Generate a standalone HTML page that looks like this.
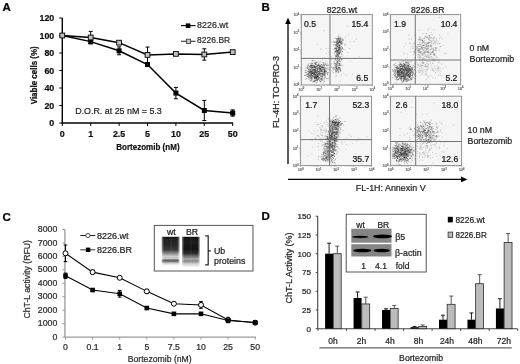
<!DOCTYPE html>
<html><head><meta charset="utf-8"><style>
html,body{margin:0;padding:0;background:#fff;}
svg{display:block;font-family:"Liberation Sans", sans-serif;filter:blur(0.3px);}
</style></head><body>
<svg width="520" height="364" viewBox="0 0 520 364">
<rect width="520" height="364" fill="#fff"/>
<text x="2.60" y="11.30" font-size="11.5" text-anchor="start" font-weight="bold" fill="#000" stroke="#000" stroke-width="0.22" >A</text>
<line x1="62.30" y1="18.00" x2="62.30" y2="123.60" stroke="#000" stroke-width="1.4"/>
<line x1="61.60" y1="123.00" x2="233.00" y2="123.00" stroke="#000" stroke-width="1.4"/>
<line x1="59.30" y1="123.00" x2="62.30" y2="123.00" stroke="#000" stroke-width="1"/>
<text x="54.30" y="126.10" font-size="8.9" text-anchor="end" font-weight="bold" fill="#111" stroke="#111" stroke-width="0.22" >0</text>
<line x1="59.30" y1="105.50" x2="62.30" y2="105.50" stroke="#000" stroke-width="1"/>
<text x="54.30" y="108.60" font-size="8.9" text-anchor="end" font-weight="bold" fill="#111" stroke="#111" stroke-width="0.22" >20</text>
<line x1="59.30" y1="88.00" x2="62.30" y2="88.00" stroke="#000" stroke-width="1"/>
<text x="54.30" y="91.10" font-size="8.9" text-anchor="end" font-weight="bold" fill="#111" stroke="#111" stroke-width="0.22" >40</text>
<line x1="59.30" y1="70.50" x2="62.30" y2="70.50" stroke="#000" stroke-width="1"/>
<text x="54.30" y="73.60" font-size="8.9" text-anchor="end" font-weight="bold" fill="#111" stroke="#111" stroke-width="0.22" >60</text>
<line x1="59.30" y1="53.00" x2="62.30" y2="53.00" stroke="#000" stroke-width="1"/>
<text x="54.30" y="56.10" font-size="8.9" text-anchor="end" font-weight="bold" fill="#111" stroke="#111" stroke-width="0.22" >80</text>
<line x1="59.30" y1="35.50" x2="62.30" y2="35.50" stroke="#000" stroke-width="1"/>
<text x="54.30" y="38.60" font-size="8.9" text-anchor="end" font-weight="bold" fill="#111" stroke="#111" stroke-width="0.22" >100</text>
<line x1="59.30" y1="18.00" x2="62.30" y2="18.00" stroke="#000" stroke-width="1"/>
<text x="54.30" y="21.10" font-size="8.9" text-anchor="end" font-weight="bold" fill="#111" stroke="#111" stroke-width="0.22" >120</text>
<line x1="62.30" y1="123.00" x2="62.30" y2="126.00" stroke="#000" stroke-width="1"/>
<text x="62.30" y="137.20" font-size="8.9" text-anchor="middle" font-weight="bold" fill="#111" stroke="#111" stroke-width="0.22" >0</text>
<line x1="90.70" y1="123.00" x2="90.70" y2="126.00" stroke="#000" stroke-width="1"/>
<text x="90.70" y="137.20" font-size="8.9" text-anchor="middle" font-weight="bold" fill="#111" stroke="#111" stroke-width="0.22" >1</text>
<line x1="119.10" y1="123.00" x2="119.10" y2="126.00" stroke="#000" stroke-width="1"/>
<text x="119.10" y="137.20" font-size="8.9" text-anchor="middle" font-weight="bold" fill="#111" stroke="#111" stroke-width="0.22" >2.5</text>
<line x1="147.50" y1="123.00" x2="147.50" y2="126.00" stroke="#000" stroke-width="1"/>
<text x="147.50" y="137.20" font-size="8.9" text-anchor="middle" font-weight="bold" fill="#111" stroke="#111" stroke-width="0.22" >5</text>
<line x1="175.90" y1="123.00" x2="175.90" y2="126.00" stroke="#000" stroke-width="1"/>
<text x="175.90" y="137.20" font-size="8.9" text-anchor="middle" font-weight="bold" fill="#111" stroke="#111" stroke-width="0.22" >10</text>
<line x1="204.30" y1="123.00" x2="204.30" y2="126.00" stroke="#000" stroke-width="1"/>
<text x="204.30" y="137.20" font-size="8.9" text-anchor="middle" font-weight="bold" fill="#111" stroke="#111" stroke-width="0.22" >25</text>
<line x1="232.70" y1="123.00" x2="232.70" y2="126.00" stroke="#000" stroke-width="1"/>
<text x="232.70" y="137.20" font-size="8.9" text-anchor="middle" font-weight="bold" fill="#111" stroke="#111" stroke-width="0.22" >50</text>
<text x="116.20" y="149.60" font-size="9.6" font-weight="bold" fill="#111" stroke="#111" stroke-width="0.22" textLength="63.38" lengthAdjust="spacingAndGlyphs">Bortezomib (nM)</text>
<text transform="translate(37.00,104.70) scale(1.0,1) rotate(-90)" x="0.40" y="0" font-size="9.6" font-weight="bold" fill="#111" stroke="#111" stroke-width="0.22" textLength="58.08" lengthAdjust="spacingAndGlyphs">Viable cells (%)</text>
<text x="75.20" y="114.10" font-size="9.5" font-weight="normal" fill="#222" stroke="#222" stroke-width="0.22" textLength="86.59" lengthAdjust="spacingAndGlyphs">D.O.R. at 25 nM = 5.3</text>
<line x1="90.70" y1="43.81" x2="90.70" y2="39.44" stroke="#000" stroke-width="1"/>
<line x1="88.70" y1="39.44" x2="92.70" y2="39.44" stroke="#000" stroke-width="1"/>
<line x1="88.70" y1="43.81" x2="92.70" y2="43.81" stroke="#000" stroke-width="1"/>
<line x1="119.10" y1="54.75" x2="119.10" y2="46.88" stroke="#000" stroke-width="1"/>
<line x1="117.10" y1="46.88" x2="121.10" y2="46.88" stroke="#000" stroke-width="1"/>
<line x1="117.10" y1="54.75" x2="121.10" y2="54.75" stroke="#000" stroke-width="1"/>
<line x1="147.50" y1="66.30" x2="147.50" y2="62.80" stroke="#000" stroke-width="1"/>
<line x1="145.50" y1="62.80" x2="149.50" y2="62.80" stroke="#000" stroke-width="1"/>
<line x1="145.50" y1="66.30" x2="149.50" y2="66.30" stroke="#000" stroke-width="1"/>
<line x1="175.90" y1="98.76" x2="175.90" y2="87.39" stroke="#000" stroke-width="1"/>
<line x1="173.90" y1="87.39" x2="177.90" y2="87.39" stroke="#000" stroke-width="1"/>
<line x1="173.90" y1="98.76" x2="177.90" y2="98.76" stroke="#000" stroke-width="1"/>
<line x1="204.30" y1="120.55" x2="204.30" y2="100.42" stroke="#000" stroke-width="1"/>
<line x1="202.30" y1="100.42" x2="206.30" y2="100.42" stroke="#000" stroke-width="1"/>
<line x1="202.30" y1="120.55" x2="206.30" y2="120.55" stroke="#000" stroke-width="1"/>
<line x1="232.70" y1="116.17" x2="232.70" y2="109.88" stroke="#000" stroke-width="1"/>
<line x1="230.70" y1="109.88" x2="234.70" y2="109.88" stroke="#000" stroke-width="1"/>
<line x1="230.70" y1="116.17" x2="234.70" y2="116.17" stroke="#000" stroke-width="1"/>
<line x1="90.70" y1="43.64" x2="90.70" y2="31.39" stroke="#000" stroke-width="1"/>
<line x1="88.70" y1="31.39" x2="92.70" y2="31.39" stroke="#000" stroke-width="1"/>
<line x1="88.70" y1="43.64" x2="92.70" y2="43.64" stroke="#000" stroke-width="1"/>
<line x1="119.10" y1="44.42" x2="119.10" y2="40.92" stroke="#000" stroke-width="1"/>
<line x1="117.10" y1="40.92" x2="121.10" y2="40.92" stroke="#000" stroke-width="1"/>
<line x1="117.10" y1="44.42" x2="121.10" y2="44.42" stroke="#000" stroke-width="1"/>
<line x1="147.50" y1="62.80" x2="147.50" y2="47.05" stroke="#000" stroke-width="1"/>
<line x1="145.50" y1="47.05" x2="149.50" y2="47.05" stroke="#000" stroke-width="1"/>
<line x1="145.50" y1="62.80" x2="149.50" y2="62.80" stroke="#000" stroke-width="1"/>
<line x1="175.90" y1="55.19" x2="175.90" y2="52.56" stroke="#000" stroke-width="1"/>
<line x1="173.90" y1="52.56" x2="177.90" y2="52.56" stroke="#000" stroke-width="1"/>
<line x1="173.90" y1="55.19" x2="177.90" y2="55.19" stroke="#000" stroke-width="1"/>
<line x1="204.30" y1="60.18" x2="204.30" y2="48.80" stroke="#000" stroke-width="1"/>
<line x1="202.30" y1="48.80" x2="206.30" y2="48.80" stroke="#000" stroke-width="1"/>
<line x1="202.30" y1="60.18" x2="206.30" y2="60.18" stroke="#000" stroke-width="1"/>
<line x1="232.70" y1="53.88" x2="232.70" y2="50.38" stroke="#000" stroke-width="1"/>
<line x1="230.70" y1="50.38" x2="234.70" y2="50.38" stroke="#000" stroke-width="1"/>
<line x1="230.70" y1="53.88" x2="234.70" y2="53.88" stroke="#000" stroke-width="1"/>
<polyline points="62.30,35.50 90.70,41.62 119.10,50.81 147.50,64.55 175.90,93.07 204.30,110.49 232.70,113.03" fill="none" stroke="#000" stroke-width="1.5"/>
<polyline points="62.30,35.50 90.70,37.51 119.10,42.67 147.50,54.92 175.90,53.88 204.30,54.49 232.70,52.12" fill="none" stroke="#000" stroke-width="1.5"/>
<rect x="59.80" y="33.00" width="5" height="5" fill="#000"/>
<rect x="88.20" y="39.12" width="5" height="5" fill="#000"/>
<rect x="116.60" y="48.31" width="5" height="5" fill="#000"/>
<rect x="145.00" y="62.05" width="5" height="5" fill="#000"/>
<rect x="173.40" y="90.57" width="5" height="5" fill="#000"/>
<rect x="201.80" y="107.99" width="5" height="5" fill="#000"/>
<rect x="230.20" y="110.53" width="5" height="5" fill="#000"/>
<rect x="59.90" y="33.10" width="4.8" height="4.8" fill="#c0c0c0" stroke="#111" stroke-width="0.95"/>
<rect x="88.30" y="35.11" width="4.8" height="4.8" fill="#c0c0c0" stroke="#111" stroke-width="0.95"/>
<rect x="116.70" y="40.27" width="4.8" height="4.8" fill="#c0c0c0" stroke="#111" stroke-width="0.95"/>
<rect x="145.10" y="52.52" width="4.8" height="4.8" fill="#c0c0c0" stroke="#111" stroke-width="0.95"/>
<rect x="173.50" y="51.48" width="4.8" height="4.8" fill="#c0c0c0" stroke="#111" stroke-width="0.95"/>
<rect x="201.90" y="52.09" width="4.8" height="4.8" fill="#c0c0c0" stroke="#111" stroke-width="0.95"/>
<rect x="230.30" y="49.73" width="4.8" height="4.8" fill="#c0c0c0" stroke="#111" stroke-width="0.95"/>
<line x1="181.00" y1="25.60" x2="195.50" y2="25.60" stroke="#000" stroke-width="1.1"/>
<rect x="185.8" y="23.4" width="4.6" height="4.6" fill="#000"/>
<text x="197.10" y="28.30" font-size="8.9" font-weight="normal" fill="#2a2a2a" stroke="#2a2a2a" stroke-width="0.22" textLength="31.18" lengthAdjust="spacingAndGlyphs">8226.wt</text>
<line x1="181.00" y1="41.30" x2="195.50" y2="41.30" stroke="#333" stroke-width="1.1"/>
<rect x="186.4" y="39.2" width="4.2" height="4.2" fill="#c4c4c4" stroke="#444" stroke-width="0.9"/>
<text x="197.10" y="43.30" font-size="8.9" font-weight="normal" fill="#2a2a2a" stroke="#2a2a2a" stroke-width="0.22" textLength="33.11" lengthAdjust="spacingAndGlyphs">8226.BR</text>
<defs><filter id="sb" x="-5%" y="-5%" width="110%" height="110%"><feGaussianBlur stdDeviation="0.35"/></filter></defs>
<text x="261.40" y="11.20" font-size="11.5" text-anchor="start" font-weight="bold" fill="#000" stroke="#000" stroke-width="0.22" >B</text>
<text x="326.70" y="13.30" font-size="9.0" font-weight="normal" fill="#222" stroke="#222" stroke-width="0.22" textLength="30.38" lengthAdjust="spacingAndGlyphs">8226.wt</text>
<text x="411.00" y="13.30" font-size="9.0" font-weight="normal" fill="#222" stroke="#222" stroke-width="0.22" textLength="33.41" lengthAdjust="spacingAndGlyphs">8226.BR</text>
<rect x="301.3" y="14.6" width="71.0" height="70.4" fill="#f5f5f5" stroke="#888" stroke-width="0.9"/>
<path d="M313.6 80.8h1v1h-1zM312.7 71.8h1v1h-1zM320.5 65.9h1v1h-1zM312.0 67.1h1v1h-1zM316.3 77.8h1v1h-1zM323.9 79.5h1v1h-1zM312.3 79.3h1v1h-1zM316.7 74.1h1v1h-1zM315.2 67.0h1v1h-1zM324.4 71.0h1v1h-1zM318.4 64.6h1v1h-1zM322.4 66.8h1v1h-1zM311.4 77.7h1v1h-1zM316.4 69.7h1v1h-1zM309.8 73.7h1v1h-1zM320.7 68.7h1v1h-1zM318.8 66.1h1v1h-1zM311.2 63.6h1v1h-1zM322.3 74.1h1v1h-1zM310.4 69.2h1v1h-1zM319.2 69.5h1v1h-1zM309.5 75.1h1v1h-1zM311.5 75.6h1v1h-1zM326.3 72.5h1v1h-1zM319.0 73.0h1v1h-1zM322.7 74.7h1v1h-1zM308.5 74.7h1v1h-1zM311.9 67.3h1v1h-1zM319.8 78.2h1v1h-1zM311.0 65.0h1v1h-1zM317.1 73.9h1v1h-1zM318.7 66.8h1v1h-1zM324.1 64.8h1v1h-1zM312.5 75.2h1v1h-1zM314.8 66.4h1v1h-1zM307.3 67.7h1v1h-1zM319.7 81.0h1v1h-1zM315.3 77.2h1v1h-1zM312.5 64.6h1v1h-1zM320.1 73.0h1v1h-1zM322.6 65.4h1v1h-1zM323.7 69.3h1v1h-1zM314.4 78.0h1v1h-1zM311.6 75.5h1v1h-1zM314.4 72.7h1v1h-1zM305.6 67.5h1v1h-1zM312.6 71.9h1v1h-1zM318.4 71.6h1v1h-1zM315.3 79.4h1v1h-1zM315.7 76.8h1v1h-1zM308.2 73.1h1v1h-1zM309.1 76.3h1v1h-1zM315.0 68.1h1v1h-1zM309.1 72.8h1v1h-1zM322.9 66.9h1v1h-1zM320.3 68.4h1v1h-1zM313.3 68.7h1v1h-1zM307.2 66.6h1v1h-1zM306.9 75.5h1v1h-1zM309.5 71.3h1v1h-1zM313.5 69.6h1v1h-1zM324.8 76.6h1v1h-1zM336.6 49.9h1v1h-1zM336.7 54.1h1v1h-1zM337.1 43.2h1v1h-1zM335.3 50.3h1v1h-1zM342.8 39.8h1v1h-1zM338.5 50.7h1v1h-1zM335.7 44.5h1v1h-1zM339.7 40.7h1v1h-1zM338.4 45.4h1v1h-1zM338.8 41.6h1v1h-1zM339.2 41.0h1v1h-1zM334.1 42.0h1v1h-1zM339.3 39.2h1v1h-1zM336.7 54.8h1v1h-1zM336.1 47.5h1v1h-1zM339.1 49.4h1v1h-1zM336.4 50.4h1v1h-1zM338.4 41.7h1v1h-1zM335.3 41.3h1v1h-1zM338.4 58.3h1v1h-1zM335.9 43.6h1v1h-1zM339.8 42.0h1v1h-1zM336.2 46.2h1v1h-1zM335.5 50.1h1v1h-1zM339.6 51.4h1v1h-1zM337.7 47.0h1v1h-1zM340.4 45.3h1v1h-1zM340.6 42.2h1v1h-1zM340.8 74.4h1v1h-1zM338.0 70.9h1v1h-1zM339.6 67.6h1v1h-1zM336.2 65.2h1v1h-1zM336.1 75.3h1v1h-1zM337.1 68.5h1v1h-1zM333.0 67.3h1v1h-1zM337.9 69.0h1v1h-1zM332.7 72.0h1v1h-1zM338.9 69.1h1v1h-1z" fill="#2a2a2a" fill-opacity="0.36" filter="url(#sb)"/>
<path d="M314.4 75.3h1v1h-1zM317.8 76.1h1v1h-1zM318.9 68.1h1v1h-1zM312.5 65.0h1v1h-1zM314.1 77.2h1v1h-1zM313.9 71.2h1v1h-1zM318.3 77.9h1v1h-1zM315.8 77.2h1v1h-1zM325.4 70.2h1v1h-1zM322.0 77.6h1v1h-1zM325.3 70.8h1v1h-1zM308.2 70.9h1v1h-1zM318.0 75.5h1v1h-1zM321.1 63.9h1v1h-1zM314.7 69.2h1v1h-1zM322.4 73.7h1v1h-1zM320.8 76.2h1v1h-1zM320.6 78.8h1v1h-1zM320.6 64.5h1v1h-1zM314.5 76.1h1v1h-1zM321.6 71.0h1v1h-1zM316.3 72.5h1v1h-1zM311.9 67.5h1v1h-1zM310.9 74.0h1v1h-1zM320.1 67.7h1v1h-1zM314.4 76.4h1v1h-1zM315.2 70.4h1v1h-1zM323.8 71.8h1v1h-1zM320.0 68.3h1v1h-1zM324.6 64.1h1v1h-1zM315.7 66.3h1v1h-1zM325.0 72.7h1v1h-1zM314.2 65.9h1v1h-1zM315.9 68.2h1v1h-1zM314.1 73.8h1v1h-1zM310.5 75.4h1v1h-1zM317.2 73.7h1v1h-1zM311.8 71.7h1v1h-1zM310.2 71.4h1v1h-1zM314.6 69.7h1v1h-1zM319.2 73.9h1v1h-1zM304.6 72.0h1v1h-1zM307.4 75.7h1v1h-1zM317.2 74.8h1v1h-1zM316.6 78.9h1v1h-1zM312.1 72.5h1v1h-1zM315.2 80.3h1v1h-1zM318.8 73.6h1v1h-1zM323.2 64.5h1v1h-1zM311.3 80.4h1v1h-1zM341.6 51.2h1v1h-1zM337.7 42.3h1v1h-1zM339.6 45.7h1v1h-1zM335.5 48.2h1v1h-1zM337.1 41.4h1v1h-1zM338.6 44.8h1v1h-1zM334.3 37.7h1v1h-1zM336.7 54.8h1v1h-1zM337.2 41.7h1v1h-1zM336.9 51.3h1v1h-1zM342.3 39.9h1v1h-1zM340.9 42.8h1v1h-1zM337.7 37.9h1v1h-1zM340.3 40.5h1v1h-1zM341.9 48.2h1v1h-1zM339.3 46.5h1v1h-1zM337.4 49.5h1v1h-1zM344.3 44.0h1v1h-1zM338.0 38.2h1v1h-1zM334.6 51.0h1v1h-1zM335.2 66.4h1v1h-1zM339.0 64.6h1v1h-1zM335.0 63.4h1v1h-1zM338.1 66.9h1v1h-1zM335.9 68.2h1v1h-1zM342.1 64.9h1v1h-1zM338.3 67.4h1v1h-1z" fill="#2a2a2a" fill-opacity="0.36" filter="url(#sb)"/>
<path d="M314.1 63.1h1v1h-1zM320.3 66.4h1v1h-1zM315.6 76.7h1v1h-1zM320.6 73.1h1v1h-1zM321.1 73.6h1v1h-1zM316.2 62.1h1v1h-1zM318.1 78.5h1v1h-1zM309.8 71.9h1v1h-1zM316.5 76.4h1v1h-1zM314.3 64.4h1v1h-1zM323.6 72.6h1v1h-1zM317.5 70.9h1v1h-1zM318.4 63.5h1v1h-1zM319.1 73.0h1v1h-1zM318.8 68.8h1v1h-1zM310.9 71.0h1v1h-1zM311.0 75.0h1v1h-1zM318.2 64.3h1v1h-1zM320.0 65.5h1v1h-1zM322.8 82.8h1v1h-1zM318.1 76.6h1v1h-1zM324.0 66.4h1v1h-1zM319.0 77.1h1v1h-1zM321.2 78.0h1v1h-1zM310.6 70.9h1v1h-1zM312.6 60.2h1v1h-1zM312.4 72.7h1v1h-1zM315.8 71.7h1v1h-1zM322.5 71.4h1v1h-1zM324.5 69.8h1v1h-1zM311.9 63.0h1v1h-1zM318.7 64.8h1v1h-1zM324.3 68.2h1v1h-1zM323.5 78.1h1v1h-1zM315.9 78.4h1v1h-1zM313.8 74.1h1v1h-1zM313.4 66.0h1v1h-1zM309.2 69.8h1v1h-1zM311.4 72.2h1v1h-1zM313.0 72.7h1v1h-1zM314.2 75.5h1v1h-1zM311.1 74.1h1v1h-1zM310.4 77.6h1v1h-1zM308.0 77.0h1v1h-1zM320.8 69.6h1v1h-1zM316.4 75.4h1v1h-1zM339.4 47.1h1v1h-1zM337.0 46.1h1v1h-1zM338.5 48.9h1v1h-1zM333.3 44.5h1v1h-1zM339.3 51.8h1v1h-1zM342.0 47.5h1v1h-1zM338.9 48.7h1v1h-1zM339.7 48.4h1v1h-1zM338.7 53.3h1v1h-1zM338.7 45.2h1v1h-1zM334.2 48.1h1v1h-1zM334.6 54.5h1v1h-1zM334.8 41.7h1v1h-1zM335.7 56.1h1v1h-1zM336.6 39.7h1v1h-1zM340.9 40.6h1v1h-1zM338.0 49.1h1v1h-1zM337.6 70.1h1v1h-1zM339.9 71.0h1v1h-1zM336.4 67.6h1v1h-1zM335.9 66.6h1v1h-1z" fill="#2a2a2a" fill-opacity="0.36" filter="url(#sb)"/>
<path d="M318.4 67.1h1v1h-1zM309.4 72.1h1v1h-1zM309.9 70.7h1v1h-1zM322.2 78.9h1v1h-1zM314.6 69.3h1v1h-1zM321.7 67.1h1v1h-1zM320.7 76.0h1v1h-1zM316.0 79.4h1v1h-1zM314.4 76.4h1v1h-1zM312.2 66.6h1v1h-1zM324.6 71.8h1v1h-1zM308.8 74.5h1v1h-1zM310.4 70.2h1v1h-1zM317.0 69.3h1v1h-1zM312.5 75.9h1v1h-1zM317.0 68.5h1v1h-1zM321.5 72.5h1v1h-1zM324.5 77.2h1v1h-1zM317.0 69.0h1v1h-1zM310.3 74.3h1v1h-1zM309.0 70.4h1v1h-1zM320.2 70.7h1v1h-1zM308.0 70.2h1v1h-1zM317.9 77.2h1v1h-1zM308.1 76.1h1v1h-1zM318.9 65.5h1v1h-1zM320.8 78.1h1v1h-1zM313.8 66.2h1v1h-1zM316.7 77.4h1v1h-1zM310.4 64.4h1v1h-1zM309.7 68.5h1v1h-1zM318.3 73.4h1v1h-1zM319.7 71.6h1v1h-1zM315.8 76.7h1v1h-1zM323.6 69.4h1v1h-1zM321.5 64.6h1v1h-1zM327.1 72.2h1v1h-1zM312.0 75.8h1v1h-1zM312.7 70.1h1v1h-1zM315.1 71.9h1v1h-1zM313.3 73.9h1v1h-1zM321.3 64.4h1v1h-1zM308.4 74.0h1v1h-1zM316.7 78.6h1v1h-1zM323.5 70.1h1v1h-1zM316.9 67.2h1v1h-1zM323.9 69.4h1v1h-1zM308.3 77.4h1v1h-1zM317.7 68.6h1v1h-1zM317.0 80.0h1v1h-1zM310.1 64.7h1v1h-1zM319.1 66.6h1v1h-1zM309.1 68.1h1v1h-1zM340.4 49.5h1v1h-1zM336.9 38.5h1v1h-1zM338.7 41.8h1v1h-1zM334.8 51.6h1v1h-1zM340.8 47.7h1v1h-1zM338.9 47.0h1v1h-1zM339.8 39.3h1v1h-1zM340.9 43.3h1v1h-1zM338.1 41.9h1v1h-1zM336.3 39.1h1v1h-1zM339.3 48.2h1v1h-1zM336.7 55.8h1v1h-1zM335.8 50.8h1v1h-1zM338.6 41.9h1v1h-1zM340.7 41.7h1v1h-1zM336.7 41.3h1v1h-1zM337.7 50.6h1v1h-1zM337.4 54.2h1v1h-1zM336.1 50.0h1v1h-1zM335.3 48.7h1v1h-1zM337.1 46.2h1v1h-1zM342.4 39.2h1v1h-1zM337.2 41.1h1v1h-1zM340.1 51.4h1v1h-1zM338.8 52.0h1v1h-1zM338.4 60.2h1v1h-1zM337.6 64.9h1v1h-1zM341.2 59.1h1v1h-1zM337.8 72.0h1v1h-1zM340.5 65.1h1v1h-1zM334.9 58.3h1v1h-1zM339.1 67.0h1v1h-1zM331.8 67.8h1v1h-1z" fill="#2a2a2a" fill-opacity="0.36" filter="url(#sb)"/>
<path d="M311.6 78.2h1v1h-1zM307.8 72.6h1v1h-1zM307.7 73.2h1v1h-1zM319.8 80.8h1v1h-1zM320.2 69.4h1v1h-1zM309.9 78.5h1v1h-1zM310.9 65.2h1v1h-1zM315.1 74.2h1v1h-1zM311.7 75.2h1v1h-1zM327.7 72.0h1v1h-1zM315.0 63.4h1v1h-1zM324.8 68.2h1v1h-1zM306.9 66.6h1v1h-1zM322.5 68.3h1v1h-1zM311.8 67.7h1v1h-1zM319.5 69.3h1v1h-1zM305.5 70.1h1v1h-1zM316.5 74.6h1v1h-1zM311.0 66.8h1v1h-1zM312.6 69.4h1v1h-1zM313.7 66.3h1v1h-1zM324.4 74.2h1v1h-1zM321.1 67.1h1v1h-1zM316.5 70.1h1v1h-1zM318.7 68.6h1v1h-1zM320.9 72.8h1v1h-1zM313.8 76.9h1v1h-1zM314.3 65.0h1v1h-1zM315.0 72.1h1v1h-1zM309.9 64.9h1v1h-1zM319.8 72.8h1v1h-1zM323.4 74.6h1v1h-1zM314.0 69.9h1v1h-1zM324.4 73.9h1v1h-1zM316.0 71.8h1v1h-1zM315.8 77.7h1v1h-1zM319.7 75.4h1v1h-1zM311.9 73.1h1v1h-1zM318.4 73.1h1v1h-1zM305.9 71.8h1v1h-1zM310.9 77.5h1v1h-1zM314.8 75.2h1v1h-1zM342.2 42.6h1v1h-1zM341.4 41.5h1v1h-1zM336.2 40.4h1v1h-1zM335.6 38.0h1v1h-1zM339.6 43.9h1v1h-1zM337.2 52.7h1v1h-1zM339.9 37.9h1v1h-1zM338.1 43.2h1v1h-1zM338.3 51.9h1v1h-1zM339.0 41.5h1v1h-1zM338.4 45.6h1v1h-1zM337.5 54.7h1v1h-1zM336.7 42.6h1v1h-1zM337.7 38.1h1v1h-1zM340.1 41.9h1v1h-1zM341.3 41.1h1v1h-1zM336.6 43.6h1v1h-1zM339.2 47.6h1v1h-1zM341.8 51.1h1v1h-1zM335.8 44.6h1v1h-1zM338.9 40.3h1v1h-1zM338.4 38.2h1v1h-1zM338.6 46.8h1v1h-1zM335.7 52.0h1v1h-1zM339.2 50.4h1v1h-1zM338.0 71.5h1v1h-1zM336.2 63.3h1v1h-1zM333.7 67.2h1v1h-1zM339.9 56.5h1v1h-1zM337.7 66.8h1v1h-1zM339.1 65.2h1v1h-1zM336.6 62.4h1v1h-1zM339.9 69.5h1v1h-1zM336.1 64.0h1v1h-1zM334.7 69.5h1v1h-1zM336.8 68.5h1v1h-1zM336.5 68.7h1v1h-1z" fill="#2a2a2a" fill-opacity="0.36" filter="url(#sb)"/>
<path d="M313.5 73.4h1v1h-1zM308.9 72.2h1v1h-1zM320.5 67.9h1v1h-1zM316.8 68.7h1v1h-1zM327.3 78.2h1v1h-1zM314.5 76.4h1v1h-1zM320.4 75.5h1v1h-1zM307.8 65.4h1v1h-1zM312.8 66.8h1v1h-1zM317.6 67.6h1v1h-1zM320.0 80.9h1v1h-1zM324.1 75.0h1v1h-1zM317.2 71.7h1v1h-1zM316.2 75.7h1v1h-1zM313.5 72.6h1v1h-1zM310.5 73.0h1v1h-1zM314.7 80.1h1v1h-1zM310.3 69.6h1v1h-1zM324.1 71.0h1v1h-1zM317.2 74.9h1v1h-1zM320.0 68.8h1v1h-1zM323.6 72.5h1v1h-1zM324.2 70.3h1v1h-1zM321.1 70.9h1v1h-1zM323.0 74.2h1v1h-1zM317.5 75.7h1v1h-1zM317.6 75.9h1v1h-1zM322.2 66.8h1v1h-1zM319.4 70.2h1v1h-1zM311.8 65.3h1v1h-1zM326.9 73.7h1v1h-1zM327.0 73.8h1v1h-1zM327.1 74.0h1v1h-1zM320.3 76.3h1v1h-1zM316.3 64.2h1v1h-1zM316.9 70.5h1v1h-1zM325.9 70.9h1v1h-1zM307.7 68.6h1v1h-1zM322.5 73.1h1v1h-1zM304.0 75.0h1v1h-1zM308.5 78.7h1v1h-1zM314.3 70.1h1v1h-1zM316.5 72.3h1v1h-1zM310.0 80.1h1v1h-1zM313.0 72.3h1v1h-1zM309.5 71.0h1v1h-1zM320.0 67.9h1v1h-1zM315.6 73.1h1v1h-1zM308.3 69.2h1v1h-1zM306.6 68.1h1v1h-1zM318.1 73.2h1v1h-1zM306.7 73.0h1v1h-1zM321.5 75.0h1v1h-1zM312.8 69.6h1v1h-1zM316.7 66.3h1v1h-1zM313.4 69.5h1v1h-1zM313.7 66.6h1v1h-1zM308.2 74.5h1v1h-1zM321.0 78.4h1v1h-1zM341.7 55.5h1v1h-1zM335.9 53.2h1v1h-1zM338.4 41.5h1v1h-1zM335.2 47.4h1v1h-1zM343.4 49.0h1v1h-1zM339.2 52.5h1v1h-1zM339.0 47.6h1v1h-1zM341.1 53.5h1v1h-1zM339.5 52.9h1v1h-1zM337.6 50.0h1v1h-1zM336.2 49.5h1v1h-1zM338.4 42.0h1v1h-1zM339.5 52.5h1v1h-1zM335.8 42.3h1v1h-1zM338.7 37.0h1v1h-1zM335.8 56.1h1v1h-1zM336.8 63.0h1v1h-1zM339.0 63.9h1v1h-1zM336.2 67.8h1v1h-1zM337.1 58.5h1v1h-1zM335.7 71.1h1v1h-1zM335.0 63.0h1v1h-1zM335.7 69.7h1v1h-1zM334.5 59.0h1v1h-1zM334.6 66.9h1v1h-1zM334.5 65.7h1v1h-1z" fill="#2a2a2a" fill-opacity="0.36" filter="url(#sb)"/>
<path d="M315.1 63.6h1v1h-1zM315.6 77.4h1v1h-1zM314.8 76.6h1v1h-1zM309.1 71.9h1v1h-1zM317.0 75.5h1v1h-1zM315.3 77.4h1v1h-1zM314.2 80.4h1v1h-1zM318.6 74.2h1v1h-1zM306.4 73.8h1v1h-1zM322.0 79.4h1v1h-1zM315.8 71.3h1v1h-1zM307.1 64.5h1v1h-1zM316.2 61.7h1v1h-1zM318.8 66.4h1v1h-1zM310.5 76.8h1v1h-1zM316.2 76.6h1v1h-1zM323.0 62.3h1v1h-1zM324.9 73.4h1v1h-1zM313.2 81.3h1v1h-1zM316.8 65.3h1v1h-1zM307.8 69.0h1v1h-1zM315.6 65.7h1v1h-1zM315.6 79.7h1v1h-1zM318.0 65.1h1v1h-1zM315.5 61.9h1v1h-1zM312.2 71.5h1v1h-1zM317.6 61.4h1v1h-1zM324.8 75.6h1v1h-1zM305.0 74.9h1v1h-1zM314.9 75.9h1v1h-1zM311.0 71.4h1v1h-1zM311.3 64.9h1v1h-1zM324.2 67.3h1v1h-1zM310.7 65.6h1v1h-1zM308.9 76.5h1v1h-1zM317.7 75.7h1v1h-1zM314.2 65.1h1v1h-1zM308.3 76.1h1v1h-1zM316.7 68.5h1v1h-1zM314.6 67.1h1v1h-1zM310.8 79.8h1v1h-1zM317.4 67.9h1v1h-1zM316.7 80.2h1v1h-1zM312.1 70.4h1v1h-1zM317.2 79.2h1v1h-1zM314.2 76.9h1v1h-1zM308.7 74.5h1v1h-1zM316.7 76.1h1v1h-1zM337.3 41.3h1v1h-1zM338.5 54.5h1v1h-1zM339.5 48.4h1v1h-1zM336.8 41.4h1v1h-1zM335.3 55.3h1v1h-1zM336.7 54.5h1v1h-1zM337.7 52.6h1v1h-1zM337.0 45.1h1v1h-1zM335.5 48.3h1v1h-1zM337.6 44.0h1v1h-1zM335.9 38.0h1v1h-1zM336.9 52.2h1v1h-1zM338.7 48.5h1v1h-1zM339.3 38.0h1v1h-1zM338.6 49.3h1v1h-1zM338.2 42.0h1v1h-1zM342.4 38.3h1v1h-1zM338.9 45.4h1v1h-1zM338.4 64.7h1v1h-1zM339.7 69.2h1v1h-1zM336.4 64.2h1v1h-1zM339.2 67.2h1v1h-1zM337.5 63.4h1v1h-1zM336.6 68.5h1v1h-1zM340.6 58.6h1v1h-1zM339.8 69.4h1v1h-1z" fill="#2a2a2a" fill-opacity="0.36" filter="url(#sb)"/>
<path d="M306.7 66.5h1v1h-1zM325.1 71.0h1v1h-1zM321.0 70.8h1v1h-1zM314.8 71.5h1v1h-1zM321.3 66.6h1v1h-1zM309.3 66.2h1v1h-1zM320.4 73.6h1v1h-1zM313.1 72.7h1v1h-1zM305.6 74.4h1v1h-1zM324.1 71.2h1v1h-1zM309.8 75.1h1v1h-1zM311.8 59.9h1v1h-1zM321.2 79.4h1v1h-1zM313.2 74.5h1v1h-1zM315.6 75.3h1v1h-1zM309.6 66.2h1v1h-1zM310.4 76.6h1v1h-1zM314.0 66.7h1v1h-1zM306.7 75.9h1v1h-1zM313.7 72.6h1v1h-1zM313.0 64.8h1v1h-1zM323.1 67.1h1v1h-1zM316.8 68.2h1v1h-1zM315.1 70.0h1v1h-1zM326.0 78.0h1v1h-1zM315.0 62.8h1v1h-1zM323.9 70.9h1v1h-1zM317.2 72.6h1v1h-1zM313.9 71.0h1v1h-1zM314.4 79.5h1v1h-1zM322.1 70.0h1v1h-1zM314.1 78.3h1v1h-1zM319.6 72.8h1v1h-1zM314.8 74.0h1v1h-1zM324.1 72.1h1v1h-1zM308.3 72.4h1v1h-1zM311.1 74.7h1v1h-1zM313.8 76.6h1v1h-1zM320.7 70.2h1v1h-1zM318.9 79.7h1v1h-1zM312.4 81.4h1v1h-1zM316.8 78.6h1v1h-1zM318.8 72.1h1v1h-1zM312.0 73.5h1v1h-1zM311.3 70.6h1v1h-1zM314.3 77.3h1v1h-1zM311.0 67.8h1v1h-1zM305.4 78.7h1v1h-1zM338.6 44.8h1v1h-1zM335.3 47.4h1v1h-1zM336.6 50.1h1v1h-1zM338.3 51.5h1v1h-1zM336.6 48.1h1v1h-1zM334.8 51.0h1v1h-1zM338.5 46.9h1v1h-1zM339.1 41.3h1v1h-1zM340.4 56.3h1v1h-1zM335.5 44.4h1v1h-1zM337.5 45.8h1v1h-1zM336.6 51.7h1v1h-1zM338.2 48.0h1v1h-1zM340.5 41.6h1v1h-1zM337.0 40.4h1v1h-1zM335.4 60.0h1v1h-1zM339.3 67.9h1v1h-1zM332.7 67.5h1v1h-1zM338.6 63.8h1v1h-1zM335.0 58.4h1v1h-1zM333.5 61.6h1v1h-1zM338.2 67.8h1v1h-1zM339.6 63.3h1v1h-1zM339.1 59.1h1v1h-1z" fill="#2a2a2a" fill-opacity="0.36" filter="url(#sb)"/>
<path d="M311.5 74.8h1v1h-1zM320.9 70.8h1v1h-1zM324.4 67.4h1v1h-1zM312.9 74.2h1v1h-1zM315.3 66.3h1v1h-1zM316.1 72.8h1v1h-1zM319.2 65.8h1v1h-1zM315.1 74.8h1v1h-1zM308.0 63.6h1v1h-1zM312.6 76.5h1v1h-1zM315.6 82.2h1v1h-1zM313.6 71.8h1v1h-1zM312.7 76.3h1v1h-1zM324.2 72.9h1v1h-1zM313.6 73.0h1v1h-1zM309.7 67.2h1v1h-1zM315.6 68.5h1v1h-1zM310.9 64.9h1v1h-1zM317.9 75.5h1v1h-1zM314.7 68.6h1v1h-1zM316.2 72.3h1v1h-1zM315.9 70.3h1v1h-1zM309.9 72.0h1v1h-1zM316.6 75.8h1v1h-1zM319.9 69.6h1v1h-1zM311.0 68.8h1v1h-1zM317.8 65.3h1v1h-1zM314.3 77.7h1v1h-1zM322.7 69.2h1v1h-1zM315.5 66.5h1v1h-1zM321.3 70.7h1v1h-1zM307.3 71.1h1v1h-1zM305.4 72.1h1v1h-1zM312.0 69.1h1v1h-1zM318.2 71.5h1v1h-1zM314.0 71.0h1v1h-1zM320.5 67.7h1v1h-1zM308.3 71.1h1v1h-1zM315.2 70.8h1v1h-1zM306.0 77.9h1v1h-1zM313.3 71.3h1v1h-1zM336.5 42.5h1v1h-1zM336.2 43.7h1v1h-1zM337.6 50.1h1v1h-1zM338.3 53.3h1v1h-1zM341.6 43.1h1v1h-1zM336.7 39.7h1v1h-1zM341.0 43.5h1v1h-1zM334.3 47.4h1v1h-1zM337.9 55.4h1v1h-1zM339.1 47.6h1v1h-1zM337.8 49.6h1v1h-1zM341.3 49.1h1v1h-1zM340.3 42.1h1v1h-1zM336.0 49.0h1v1h-1zM339.1 56.4h1v1h-1zM338.8 39.9h1v1h-1zM338.4 43.9h1v1h-1zM337.1 61.7h1v1h-1zM337.2 69.9h1v1h-1zM339.4 62.7h1v1h-1zM338.3 59.9h1v1h-1zM335.7 69.2h1v1h-1zM339.4 65.0h1v1h-1zM335.2 58.2h1v1h-1z" fill="#2a2a2a" fill-opacity="0.36" filter="url(#sb)"/>
<path d="M311.4 63.0h1v1h-1zM313.7 72.8h1v1h-1zM305.0 70.4h1v1h-1zM313.1 77.3h1v1h-1zM324.1 70.6h1v1h-1zM313.8 67.8h1v1h-1zM311.9 73.1h1v1h-1zM323.5 68.2h1v1h-1zM313.5 75.4h1v1h-1zM318.1 78.5h1v1h-1zM318.2 63.4h1v1h-1zM319.4 70.6h1v1h-1zM309.3 71.2h1v1h-1zM311.4 77.4h1v1h-1zM320.8 66.3h1v1h-1zM319.4 70.6h1v1h-1zM311.1 72.5h1v1h-1zM319.6 61.4h1v1h-1zM318.2 76.3h1v1h-1zM316.9 76.6h1v1h-1zM323.7 76.9h1v1h-1zM309.7 80.4h1v1h-1zM317.9 77.8h1v1h-1zM327.7 68.7h1v1h-1zM313.8 69.1h1v1h-1zM310.7 72.3h1v1h-1zM312.2 70.1h1v1h-1zM314.7 75.8h1v1h-1zM317.0 74.1h1v1h-1zM323.1 67.6h1v1h-1zM323.8 68.7h1v1h-1zM326.6 68.6h1v1h-1zM320.8 70.3h1v1h-1zM318.7 77.8h1v1h-1zM311.4 70.9h1v1h-1zM313.8 68.1h1v1h-1zM317.6 72.9h1v1h-1zM312.3 65.8h1v1h-1zM314.1 67.1h1v1h-1zM305.1 69.7h1v1h-1zM315.0 67.2h1v1h-1zM317.4 65.7h1v1h-1zM319.5 73.5h1v1h-1zM312.9 67.6h1v1h-1zM314.8 72.6h1v1h-1zM336.4 51.1h1v1h-1zM339.3 40.8h1v1h-1zM335.0 45.3h1v1h-1zM335.2 43.9h1v1h-1zM337.0 47.0h1v1h-1zM337.6 54.6h1v1h-1zM338.2 51.4h1v1h-1zM337.8 47.1h1v1h-1zM336.4 44.3h1v1h-1zM342.1 47.5h1v1h-1zM336.4 46.0h1v1h-1zM340.0 49.8h1v1h-1zM337.3 50.7h1v1h-1zM334.7 48.0h1v1h-1zM333.9 41.8h1v1h-1zM339.9 50.3h1v1h-1zM336.5 46.7h1v1h-1zM335.3 68.4h1v1h-1zM336.1 66.7h1v1h-1zM338.4 61.7h1v1h-1zM340.7 59.8h1v1h-1zM336.1 61.5h1v1h-1zM335.6 70.5h1v1h-1zM334.7 64.8h1v1h-1zM336.6 59.7h1v1h-1zM339.8 60.9h1v1h-1zM334.0 63.1h1v1h-1z" fill="#2a2a2a" fill-opacity="0.36" filter="url(#sb)"/>
<path d="M322.5 68.2h1v1h-1zM315.3 70.7h1v1h-1zM316.3 63.7h1v1h-1zM316.9 75.9h1v1h-1zM319.6 66.2h1v1h-1zM309.8 64.6h1v1h-1zM316.2 78.7h1v1h-1zM322.1 75.6h1v1h-1zM316.9 64.5h1v1h-1zM319.4 67.9h1v1h-1zM319.0 71.4h1v1h-1zM314.5 62.2h1v1h-1zM314.4 66.0h1v1h-1zM322.1 65.6h1v1h-1zM310.8 73.2h1v1h-1zM309.9 74.7h1v1h-1zM323.8 71.3h1v1h-1zM310.6 69.5h1v1h-1zM310.0 72.7h1v1h-1zM314.7 77.8h1v1h-1zM321.6 73.0h1v1h-1zM309.8 66.2h1v1h-1zM322.8 62.4h1v1h-1zM309.6 74.3h1v1h-1zM314.4 71.4h1v1h-1zM310.5 75.8h1v1h-1zM312.0 70.6h1v1h-1zM313.9 80.5h1v1h-1zM313.0 72.4h1v1h-1zM316.8 71.3h1v1h-1zM311.1 71.5h1v1h-1zM317.3 71.2h1v1h-1zM326.1 68.3h1v1h-1zM314.9 69.5h1v1h-1zM338.4 39.3h1v1h-1zM338.0 42.2h1v1h-1zM337.3 51.4h1v1h-1zM337.6 38.5h1v1h-1zM333.4 48.5h1v1h-1zM338.6 34.2h1v1h-1zM340.4 50.8h1v1h-1zM338.2 49.4h1v1h-1zM341.5 38.7h1v1h-1zM339.4 57.0h1v1h-1zM339.6 45.3h1v1h-1zM339.6 40.3h1v1h-1zM338.3 47.4h1v1h-1zM333.2 69.2h1v1h-1zM336.7 59.0h1v1h-1zM336.4 72.4h1v1h-1zM337.8 62.6h1v1h-1zM339.1 59.8h1v1h-1zM337.9 67.7h1v1h-1zM339.8 69.9h1v1h-1zM336.8 69.6h1v1h-1zM336.1 71.0h1v1h-1zM337.8 62.0h1v1h-1zM338.1 66.9h1v1h-1z" fill="#2a2a2a" fill-opacity="0.36" filter="url(#sb)"/>
<path d="M313.8 72.9h1v1h-1zM307.4 73.9h1v1h-1zM314.2 62.5h1v1h-1zM307.8 73.4h1v1h-1zM324.2 70.7h1v1h-1zM318.6 77.1h1v1h-1zM311.8 65.5h1v1h-1zM318.3 71.6h1v1h-1zM322.3 66.7h1v1h-1zM309.5 63.1h1v1h-1zM316.3 65.5h1v1h-1zM324.2 81.0h1v1h-1zM317.6 71.3h1v1h-1zM311.3 68.6h1v1h-1zM313.8 66.9h1v1h-1zM315.0 63.4h1v1h-1zM321.4 65.9h1v1h-1zM323.8 72.8h1v1h-1zM322.6 64.5h1v1h-1zM315.3 74.3h1v1h-1zM313.5 69.6h1v1h-1zM320.8 76.6h1v1h-1zM313.7 71.8h1v1h-1zM311.0 66.2h1v1h-1zM311.0 77.5h1v1h-1zM320.7 78.3h1v1h-1zM322.6 64.0h1v1h-1zM321.3 79.7h1v1h-1zM316.9 76.6h1v1h-1zM318.9 64.9h1v1h-1zM310.5 70.4h1v1h-1zM311.0 79.0h1v1h-1zM320.9 69.4h1v1h-1zM317.3 75.9h1v1h-1zM314.5 75.5h1v1h-1zM312.8 73.5h1v1h-1zM314.4 80.3h1v1h-1zM312.9 69.4h1v1h-1zM310.0 66.7h1v1h-1zM319.2 79.8h1v1h-1zM314.8 71.4h1v1h-1zM316.1 75.2h1v1h-1zM318.4 68.2h1v1h-1zM324.0 73.9h1v1h-1zM311.3 70.7h1v1h-1zM319.3 68.7h1v1h-1zM317.9 79.0h1v1h-1zM338.1 56.6h1v1h-1zM336.4 44.8h1v1h-1zM338.5 52.6h1v1h-1zM336.6 56.3h1v1h-1zM338.0 36.3h1v1h-1zM335.7 50.3h1v1h-1zM339.6 43.4h1v1h-1zM338.5 41.9h1v1h-1zM338.5 42.0h1v1h-1zM338.2 49.3h1v1h-1zM332.9 41.3h1v1h-1zM337.6 43.5h1v1h-1zM336.0 54.6h1v1h-1zM338.7 45.2h1v1h-1zM335.2 51.5h1v1h-1zM334.1 52.8h1v1h-1zM340.4 70.3h1v1h-1zM338.2 65.6h1v1h-1zM338.7 63.1h1v1h-1zM335.9 66.0h1v1h-1zM340.3 64.2h1v1h-1z" fill="#2a2a2a" fill-opacity="0.36" filter="url(#sb)"/>
<path d="M307.6 73.3h1v1h-1zM316.1 66.5h1v1h-1zM312.0 71.9h1v1h-1zM319.1 70.8h1v1h-1zM311.9 64.9h1v1h-1zM314.0 73.7h1v1h-1zM318.0 71.1h1v1h-1zM316.6 67.1h1v1h-1zM322.0 66.6h1v1h-1zM316.7 64.7h1v1h-1zM323.9 75.3h1v1h-1zM323.1 74.3h1v1h-1zM310.3 76.0h1v1h-1zM314.9 74.4h1v1h-1zM309.6 68.8h1v1h-1zM307.6 65.0h1v1h-1zM305.8 74.4h1v1h-1zM318.2 74.6h1v1h-1zM320.7 74.4h1v1h-1zM318.5 74.5h1v1h-1zM317.5 77.2h1v1h-1zM321.1 70.2h1v1h-1zM314.5 73.2h1v1h-1zM309.5 66.1h1v1h-1zM309.4 69.0h1v1h-1zM321.9 73.8h1v1h-1zM315.9 74.7h1v1h-1zM322.5 80.5h1v1h-1zM324.5 71.2h1v1h-1zM317.7 69.7h1v1h-1zM309.6 69.6h1v1h-1zM316.9 70.7h1v1h-1zM314.2 72.1h1v1h-1zM314.4 81.3h1v1h-1zM326.7 72.9h1v1h-1zM309.5 78.0h1v1h-1zM314.5 74.3h1v1h-1zM307.6 76.5h1v1h-1zM315.1 69.3h1v1h-1zM322.0 76.1h1v1h-1zM318.1 74.7h1v1h-1zM311.5 72.5h1v1h-1zM310.3 71.2h1v1h-1zM325.7 70.3h1v1h-1zM321.6 68.6h1v1h-1zM315.7 77.4h1v1h-1zM311.1 72.8h1v1h-1zM313.0 69.1h1v1h-1zM316.2 73.9h1v1h-1zM314.0 69.1h1v1h-1zM311.9 76.6h1v1h-1zM310.9 72.0h1v1h-1zM335.4 54.9h1v1h-1zM339.1 37.9h1v1h-1zM340.8 38.2h1v1h-1zM337.3 40.6h1v1h-1zM338.2 39.5h1v1h-1zM339.3 41.3h1v1h-1zM336.2 42.7h1v1h-1zM338.4 53.0h1v1h-1zM339.5 37.9h1v1h-1zM338.6 53.4h1v1h-1zM338.8 53.1h1v1h-1zM337.9 56.1h1v1h-1zM337.5 49.9h1v1h-1zM340.4 47.2h1v1h-1zM339.9 68.5h1v1h-1zM340.5 57.9h1v1h-1zM335.8 64.1h1v1h-1zM337.2 60.8h1v1h-1zM335.8 64.7h1v1h-1zM338.3 59.2h1v1h-1zM334.6 65.3h1v1h-1zM334.5 63.5h1v1h-1zM336.5 62.3h1v1h-1zM336.5 67.8h1v1h-1z" fill="#2a2a2a" fill-opacity="0.36" filter="url(#sb)"/>
<path d="M317.0 71.5h1v1h-1zM311.3 66.2h1v1h-1zM319.2 74.4h1v1h-1zM312.0 73.2h1v1h-1zM319.9 66.8h1v1h-1zM310.1 65.1h1v1h-1zM307.5 67.6h1v1h-1zM322.0 68.8h1v1h-1zM322.1 76.5h1v1h-1zM313.4 80.9h1v1h-1zM317.7 65.0h1v1h-1zM323.9 74.4h1v1h-1zM319.1 68.1h1v1h-1zM323.6 67.8h1v1h-1zM310.6 76.9h1v1h-1zM315.1 66.4h1v1h-1zM319.9 81.5h1v1h-1zM311.1 73.6h1v1h-1zM312.6 67.3h1v1h-1zM315.7 62.2h1v1h-1zM320.2 78.9h1v1h-1zM322.2 73.3h1v1h-1zM316.8 81.4h1v1h-1zM319.8 64.5h1v1h-1zM319.6 74.6h1v1h-1zM314.5 77.2h1v1h-1zM314.0 70.7h1v1h-1zM310.6 71.0h1v1h-1zM311.6 62.5h1v1h-1zM316.6 75.6h1v1h-1zM315.8 76.7h1v1h-1zM320.9 73.6h1v1h-1zM311.7 72.9h1v1h-1zM309.4 66.7h1v1h-1zM335.2 57.4h1v1h-1zM341.2 53.3h1v1h-1zM337.3 38.2h1v1h-1zM335.4 56.1h1v1h-1zM338.7 53.3h1v1h-1zM339.9 43.3h1v1h-1zM337.0 53.8h1v1h-1zM340.1 39.2h1v1h-1zM336.9 58.0h1v1h-1zM333.4 44.1h1v1h-1zM337.5 36.5h1v1h-1zM336.0 41.5h1v1h-1zM336.5 52.5h1v1h-1zM338.7 53.5h1v1h-1zM340.4 47.6h1v1h-1zM337.5 48.2h1v1h-1zM341.2 46.2h1v1h-1zM335.9 47.9h1v1h-1zM338.3 39.6h1v1h-1zM340.1 36.4h1v1h-1zM337.5 42.7h1v1h-1zM336.7 56.8h1v1h-1zM337.0 60.9h1v1h-1zM339.4 61.1h1v1h-1zM334.9 70.6h1v1h-1zM337.1 65.5h1v1h-1zM337.7 56.8h1v1h-1zM335.5 67.0h1v1h-1z" fill="#2a2a2a" fill-opacity="0.36" filter="url(#sb)"/>
<path d="M326.4 65.1h1v1h-1zM325.7 67.1h1v1h-1z" fill="#2a2a2a" fill-opacity="0.2" filter="url(#sb)"/>
<path d="M333.9 68.6h1v1h-1zM331.3 70.0h1v1h-1zM323.7 62.3h1v1h-1z" fill="#2a2a2a" fill-opacity="0.2" filter="url(#sb)"/>
<path d="M326.5 65.3h1v1h-1z" fill="#2a2a2a" fill-opacity="0.2" filter="url(#sb)"/>
<path d="M329.0 68.6h1v1h-1zM326.1 63.8h1v1h-1z" fill="#2a2a2a" fill-opacity="0.2" filter="url(#sb)"/>
<path d="M321.8 70.7h1v1h-1zM318.4 67.0h1v1h-1zM335.4 67.6h1v1h-1zM320.3 60.7h1v1h-1z" fill="#2a2a2a" fill-opacity="0.2" filter="url(#sb)"/>
<path d="M326.0 64.8h1v1h-1zM323.9 69.1h1v1h-1zM326.8 66.7h1v1h-1zM311.4 66.4h1v1h-1zM325.5 63.8h1v1h-1z" fill="#2a2a2a" fill-opacity="0.2" filter="url(#sb)"/>
<path d="M330.7 63.9h1v1h-1zM329.8 65.0h1v1h-1z" fill="#2a2a2a" fill-opacity="0.2" filter="url(#sb)"/>
<path d="M324.9 70.1h1v1h-1zM331.1 59.2h1v1h-1zM326.3 65.3h1v1h-1zM328.1 64.4h1v1h-1z" fill="#2a2a2a" fill-opacity="0.2" filter="url(#sb)"/>
<path d="M323.7 69.3h1v1h-1zM330.5 67.1h1v1h-1zM322.9 72.6h1v1h-1z" fill="#2a2a2a" fill-opacity="0.2" filter="url(#sb)"/>
<path d="M324.5 62.9h1v1h-1zM326.7 64.2h1v1h-1zM330.8 65.9h1v1h-1z" fill="#2a2a2a" fill-opacity="0.2" filter="url(#sb)"/>
<path d="M321.7 67.5h1v1h-1zM323.1 70.5h1v1h-1zM324.4 65.3h1v1h-1zM327.0 63.3h1v1h-1zM327.6 67.6h1v1h-1z" fill="#2a2a2a" fill-opacity="0.2" filter="url(#sb)"/>
<path d="M322.2 71.8h1v1h-1zM323.3 64.4h1v1h-1zM324.4 64.3h1v1h-1zM327.9 69.3h1v1h-1zM324.9 64.8h1v1h-1zM325.0 61.3h1v1h-1zM320.2 64.7h1v1h-1zM320.2 69.6h1v1h-1z" fill="#2a2a2a" fill-opacity="0.2" filter="url(#sb)"/>
<path d="M322.1 59.6h1v1h-1zM326.7 61.3h1v1h-1zM328.2 65.3h1v1h-1z" fill="#2a2a2a" fill-opacity="0.2" filter="url(#sb)"/>
<path d="M321.7 62.0h1v1h-1zM326.4 64.7h1v1h-1zM325.1 62.8h1v1h-1zM324.5 62.9h1v1h-1zM331.9 70.4h1v1h-1z" fill="#2a2a2a" fill-opacity="0.2" filter="url(#sb)"/>
<path d="M347.6 52.2h1v1h-1zM349.1 47.9h1v1h-1zM343.2 72.8h1v1h-1zM331.6 41.5h1v1h-1z" fill="#2a2a2a" fill-opacity="0.22" filter="url(#sb)"/>
<path d="M353.6 40.9h1v1h-1zM359.3 55.8h1v1h-1z" fill="#2a2a2a" fill-opacity="0.22" filter="url(#sb)"/>
<path d="M329.5 53.2h1v1h-1zM351.9 73.6h1v1h-1z" fill="#2a2a2a" fill-opacity="0.22" filter="url(#sb)"/>
<path d="M339.8 80.7h1v1h-1zM331.4 57.6h1v1h-1zM336.3 60.2h1v1h-1z" fill="#2a2a2a" fill-opacity="0.22" filter="url(#sb)"/>
<path d="M332.7 63.5h1v1h-1zM349.5 41.4h1v1h-1zM344.9 43.5h1v1h-1zM347.8 34.7h1v1h-1z" fill="#2a2a2a" fill-opacity="0.22" filter="url(#sb)"/>
<path d="M329.1 50.7h1v1h-1zM314.2 60.1h1v1h-1zM346.8 25.6h1v1h-1zM329.4 55.2h1v1h-1zM342.1 43.6h1v1h-1z" fill="#2a2a2a" fill-opacity="0.22" filter="url(#sb)"/>
<path d="M320.2 48.3h1v1h-1zM318.5 68.7h1v1h-1zM325.8 48.0h1v1h-1zM320.3 48.8h1v1h-1z" fill="#2a2a2a" fill-opacity="0.22" filter="url(#sb)"/>
<path d="M330.9 62.9h1v1h-1zM324.0 57.8h1v1h-1z" fill="#2a2a2a" fill-opacity="0.22" filter="url(#sb)"/>
<path d="M334.0 61.2h1v1h-1zM328.7 48.1h1v1h-1zM341.6 58.9h1v1h-1zM312.4 60.7h1v1h-1z" fill="#2a2a2a" fill-opacity="0.22" filter="url(#sb)"/>
<path d="M349.9 60.4h1v1h-1zM335.0 72.2h1v1h-1zM323.7 30.0h1v1h-1z" fill="#2a2a2a" fill-opacity="0.22" filter="url(#sb)"/>
<path d="M337.8 50.8h1v1h-1zM327.9 78.1h1v1h-1z" fill="#2a2a2a" fill-opacity="0.22" filter="url(#sb)"/>
<path d="M336.6 71.2h1v1h-1zM316.9 44.0h1v1h-1zM345.0 36.5h1v1h-1zM334.3 68.5h1v1h-1zM329.8 59.4h1v1h-1zM334.7 75.4h1v1h-1z" fill="#2a2a2a" fill-opacity="0.22" filter="url(#sb)"/>
<path d="M345.6 74.8h1v1h-1zM325.7 53.0h1v1h-1zM356.0 38.8h1v1h-1zM331.2 66.7h1v1h-1zM328.3 52.0h1v1h-1z" fill="#2a2a2a" fill-opacity="0.22" filter="url(#sb)"/>
<path d="M344.5 45.5h1v1h-1zM336.9 45.5h1v1h-1z" fill="#2a2a2a" fill-opacity="0.22" filter="url(#sb)"/>
<line x1="330.00" y1="14.60" x2="330.00" y2="85.00" stroke="#666" stroke-width="0.9"/>
<line x1="301.30" y1="58.40" x2="372.30" y2="58.40" stroke="#666" stroke-width="0.9"/>
<text x="304.10" y="26.60" font-size="8.6" text-anchor="start" font-weight="normal" fill="#111" stroke="#111" stroke-width="0.22" >0.5</text>
<text x="368.20" y="26.60" font-size="8.6" text-anchor="end" font-weight="normal" fill="#111" stroke="#111" stroke-width="0.22" >15.4</text>
<text x="368.20" y="81.20" font-size="8.6" text-anchor="end" font-weight="normal" fill="#111" stroke="#111" stroke-width="0.22" >6.5</text>
<path d="M301.30 85.00h-1.6M301.30 85.00v1.6M301.30 79.70h-0.9M306.64 85.00v0.9M301.30 76.60h-0.9M309.77 85.00v0.9M301.30 74.40h-0.9M311.99 85.00v0.9M301.30 72.70h-0.9M313.71 85.00v0.9M301.30 71.30h-0.9M315.11 85.00v0.9M301.30 70.13h-0.9M316.30 85.00v0.9M301.30 69.11h-0.9M317.33 85.00v0.9M301.30 68.21h-0.9M318.24 85.00v0.9M301.30 67.40h-1.6M319.05 85.00v1.6M301.30 62.10h-0.9M324.39 85.00v0.9M301.30 59.00h-0.9M327.52 85.00v0.9M301.30 56.80h-0.9M329.74 85.00v0.9M301.30 55.10h-0.9M331.46 85.00v0.9M301.30 53.70h-0.9M332.86 85.00v0.9M301.30 52.53h-0.9M334.05 85.00v0.9M301.30 51.51h-0.9M335.08 85.00v0.9M301.30 50.61h-0.9M335.99 85.00v0.9M301.30 49.80h-1.6M336.80 85.00v1.6M301.30 44.50h-0.9M342.14 85.00v0.9M301.30 41.40h-0.9M345.27 85.00v0.9M301.30 39.20h-0.9M347.49 85.00v0.9M301.30 37.50h-0.9M349.21 85.00v0.9M301.30 36.10h-0.9M350.61 85.00v0.9M301.30 34.93h-0.9M351.80 85.00v0.9M301.30 33.91h-0.9M352.83 85.00v0.9M301.30 33.01h-0.9M353.74 85.00v0.9M301.30 32.20h-1.6M354.55 85.00v1.6M301.30 26.90h-0.9M359.89 85.00v0.9M301.30 23.80h-0.9M363.02 85.00v0.9M301.30 21.60h-0.9M365.24 85.00v0.9M301.30 19.90h-0.9M366.96 85.00v0.9M301.30 18.50h-0.9M368.36 85.00v0.9M301.30 17.33h-0.9M369.55 85.00v0.9M301.30 16.31h-0.9M370.58 85.00v0.9M301.30 15.41h-0.9M371.49 85.00v0.9M301.30 14.60h-1.6M372.30 85.00v1.6" stroke="#999" stroke-width="0.6" fill="none"/>
<text x="299.10" y="86.40" font-size="3.8" text-anchor="end" font-weight="normal" fill="#707070" stroke="#707070" stroke-width="0.22" >10<tspan font-size="2.6" dy="-1.5">0</tspan></text>
<text x="301.30" y="90.60" font-size="3.8" text-anchor="middle" font-weight="normal" fill="#707070" stroke="#707070" stroke-width="0.22" >10<tspan font-size="2.6" dy="-1.5">0</tspan></text>
<text x="299.10" y="68.80" font-size="3.8" text-anchor="end" font-weight="normal" fill="#707070" stroke="#707070" stroke-width="0.22" >10<tspan font-size="2.6" dy="-1.5">1</tspan></text>
<text x="319.05" y="90.60" font-size="3.8" text-anchor="middle" font-weight="normal" fill="#707070" stroke="#707070" stroke-width="0.22" >10<tspan font-size="2.6" dy="-1.5">1</tspan></text>
<text x="299.10" y="51.20" font-size="3.8" text-anchor="end" font-weight="normal" fill="#707070" stroke="#707070" stroke-width="0.22" >10<tspan font-size="2.6" dy="-1.5">2</tspan></text>
<text x="336.80" y="90.60" font-size="3.8" text-anchor="middle" font-weight="normal" fill="#707070" stroke="#707070" stroke-width="0.22" >10<tspan font-size="2.6" dy="-1.5">2</tspan></text>
<text x="299.10" y="33.60" font-size="3.8" text-anchor="end" font-weight="normal" fill="#707070" stroke="#707070" stroke-width="0.22" >10<tspan font-size="2.6" dy="-1.5">3</tspan></text>
<text x="354.55" y="90.60" font-size="3.8" text-anchor="middle" font-weight="normal" fill="#707070" stroke="#707070" stroke-width="0.22" >10<tspan font-size="2.6" dy="-1.5">3</tspan></text>
<text x="299.10" y="16.00" font-size="3.8" text-anchor="end" font-weight="normal" fill="#707070" stroke="#707070" stroke-width="0.22" >10<tspan font-size="2.6" dy="-1.5">4</tspan></text>
<text x="372.30" y="90.60" font-size="3.8" text-anchor="middle" font-weight="normal" fill="#707070" stroke="#707070" stroke-width="0.22" >10<tspan font-size="2.6" dy="-1.5">4</tspan></text>
<rect x="390.6" y="14.6" width="70.09999999999997" height="69.7" fill="#f5f5f5" stroke="#888" stroke-width="0.9"/>
<path d="M398.7 66.9h1v1h-1zM410.2 78.2h1v1h-1zM402.8 77.8h1v1h-1zM407.0 60.5h1v1h-1zM401.1 71.3h1v1h-1zM409.4 76.7h1v1h-1zM409.3 75.3h1v1h-1zM397.0 75.5h1v1h-1zM401.2 71.3h1v1h-1zM414.9 73.1h1v1h-1zM411.9 70.6h1v1h-1zM407.8 74.8h1v1h-1zM407.3 72.6h1v1h-1zM406.5 71.7h1v1h-1zM412.9 72.3h1v1h-1zM411.9 69.1h1v1h-1zM400.7 68.4h1v1h-1zM410.0 70.3h1v1h-1zM401.4 69.6h1v1h-1zM410.2 72.9h1v1h-1zM397.6 70.2h1v1h-1zM407.0 65.8h1v1h-1zM410.4 69.3h1v1h-1zM408.5 73.6h1v1h-1zM405.4 75.3h1v1h-1zM405.2 69.6h1v1h-1zM409.0 66.3h1v1h-1zM407.5 64.6h1v1h-1zM403.2 79.7h1v1h-1zM396.8 68.7h1v1h-1zM403.1 75.2h1v1h-1zM399.7 68.4h1v1h-1zM405.4 60.9h1v1h-1zM409.2 68.3h1v1h-1zM396.3 79.1h1v1h-1zM406.1 74.3h1v1h-1zM407.0 75.3h1v1h-1zM399.6 69.8h1v1h-1zM403.8 73.2h1v1h-1zM403.2 69.4h1v1h-1zM397.7 71.3h1v1h-1zM402.3 76.4h1v1h-1zM402.4 72.6h1v1h-1zM395.6 67.6h1v1h-1zM404.7 69.3h1v1h-1zM411.0 71.0h1v1h-1zM404.6 64.7h1v1h-1zM400.6 66.3h1v1h-1zM401.7 65.6h1v1h-1zM400.0 74.3h1v1h-1zM410.2 67.4h1v1h-1zM405.9 67.6h1v1h-1z" fill="#2a2a2a" fill-opacity="0.36" filter="url(#sb)"/>
<path d="M404.6 78.0h1v1h-1zM408.2 71.0h1v1h-1zM412.3 74.7h1v1h-1zM399.4 74.4h1v1h-1zM408.3 73.9h1v1h-1zM403.2 62.7h1v1h-1zM398.3 73.2h1v1h-1zM406.7 70.1h1v1h-1zM414.0 69.0h1v1h-1zM407.1 67.8h1v1h-1zM404.1 64.0h1v1h-1zM407.4 71.1h1v1h-1zM407.7 71.0h1v1h-1zM408.9 70.3h1v1h-1zM397.3 75.8h1v1h-1zM393.7 73.0h1v1h-1zM400.7 75.6h1v1h-1zM400.8 78.1h1v1h-1zM410.8 68.8h1v1h-1zM399.7 68.7h1v1h-1zM397.8 69.7h1v1h-1zM397.8 70.8h1v1h-1zM393.7 75.1h1v1h-1zM405.9 68.7h1v1h-1zM396.1 78.5h1v1h-1zM397.0 79.2h1v1h-1zM401.1 76.0h1v1h-1zM397.1 67.5h1v1h-1zM406.1 70.5h1v1h-1zM408.9 73.3h1v1h-1zM413.5 72.7h1v1h-1zM403.2 80.5h1v1h-1zM408.5 76.7h1v1h-1zM394.9 74.3h1v1h-1zM401.9 68.7h1v1h-1zM399.7 64.1h1v1h-1zM399.3 70.4h1v1h-1zM404.9 71.5h1v1h-1zM406.0 73.1h1v1h-1zM407.1 75.3h1v1h-1zM396.0 66.8h1v1h-1zM404.2 65.7h1v1h-1zM399.7 75.5h1v1h-1zM401.1 70.6h1v1h-1zM410.5 77.4h1v1h-1zM397.2 76.8h1v1h-1zM404.8 75.4h1v1h-1z" fill="#2a2a2a" fill-opacity="0.36" filter="url(#sb)"/>
<path d="M405.5 72.9h1v1h-1zM401.5 73.3h1v1h-1zM408.0 75.6h1v1h-1zM400.5 68.1h1v1h-1zM398.0 73.7h1v1h-1zM401.2 64.2h1v1h-1zM411.9 66.9h1v1h-1zM401.1 72.4h1v1h-1zM402.0 75.4h1v1h-1zM401.7 75.9h1v1h-1zM400.9 75.9h1v1h-1zM409.1 68.2h1v1h-1zM408.6 68.3h1v1h-1zM408.4 69.1h1v1h-1zM403.0 75.5h1v1h-1zM409.7 71.4h1v1h-1zM403.5 79.2h1v1h-1zM407.2 61.9h1v1h-1zM414.6 70.4h1v1h-1zM399.1 74.9h1v1h-1zM409.2 65.9h1v1h-1zM399.1 62.3h1v1h-1zM399.6 65.1h1v1h-1zM410.1 73.5h1v1h-1zM397.1 68.0h1v1h-1zM407.3 69.9h1v1h-1zM398.9 71.0h1v1h-1zM408.5 75.9h1v1h-1zM407.4 73.4h1v1h-1zM407.6 73.5h1v1h-1zM399.2 66.3h1v1h-1zM405.2 76.4h1v1h-1zM395.1 70.3h1v1h-1zM394.4 69.7h1v1h-1zM404.2 76.4h1v1h-1zM401.5 73.8h1v1h-1zM397.8 69.9h1v1h-1zM406.1 73.4h1v1h-1zM404.6 68.2h1v1h-1zM402.5 72.5h1v1h-1zM393.4 63.9h1v1h-1zM407.5 73.6h1v1h-1zM410.0 66.0h1v1h-1zM399.9 74.1h1v1h-1zM403.4 65.3h1v1h-1zM397.0 71.7h1v1h-1zM405.7 69.4h1v1h-1zM404.7 74.6h1v1h-1zM402.2 71.5h1v1h-1zM401.8 70.3h1v1h-1zM398.0 71.9h1v1h-1zM397.2 67.9h1v1h-1z" fill="#2a2a2a" fill-opacity="0.36" filter="url(#sb)"/>
<path d="M394.3 75.3h1v1h-1zM412.6 76.5h1v1h-1zM405.9 62.0h1v1h-1zM404.2 76.3h1v1h-1zM396.7 77.1h1v1h-1zM397.9 74.7h1v1h-1zM407.3 65.0h1v1h-1zM399.9 66.6h1v1h-1zM407.0 78.2h1v1h-1zM407.1 71.9h1v1h-1zM406.8 73.4h1v1h-1zM404.6 75.0h1v1h-1zM398.9 65.3h1v1h-1zM414.4 74.1h1v1h-1zM409.5 71.9h1v1h-1zM402.0 65.3h1v1h-1zM402.1 70.4h1v1h-1zM401.0 75.9h1v1h-1zM402.2 66.4h1v1h-1zM399.0 76.0h1v1h-1zM403.3 68.9h1v1h-1zM400.7 77.8h1v1h-1zM406.9 78.3h1v1h-1zM408.6 79.9h1v1h-1zM398.4 71.5h1v1h-1zM407.6 67.6h1v1h-1zM397.7 70.7h1v1h-1zM400.7 66.1h1v1h-1zM410.1 82.7h1v1h-1zM406.4 81.2h1v1h-1zM408.8 75.5h1v1h-1zM401.2 74.9h1v1h-1zM403.4 71.1h1v1h-1zM405.5 69.9h1v1h-1zM409.8 71.8h1v1h-1zM396.2 71.8h1v1h-1zM402.7 66.1h1v1h-1zM399.2 73.9h1v1h-1zM401.8 70.9h1v1h-1zM398.3 76.1h1v1h-1zM399.1 72.8h1v1h-1zM404.3 66.0h1v1h-1zM403.3 74.0h1v1h-1z" fill="#2a2a2a" fill-opacity="0.36" filter="url(#sb)"/>
<path d="M399.0 74.8h1v1h-1zM407.2 72.0h1v1h-1zM403.1 76.5h1v1h-1zM397.6 66.4h1v1h-1zM401.0 76.3h1v1h-1zM402.1 68.3h1v1h-1zM399.5 75.3h1v1h-1zM401.3 82.2h1v1h-1zM394.2 72.6h1v1h-1zM404.9 74.0h1v1h-1zM409.8 74.3h1v1h-1zM394.5 75.2h1v1h-1zM404.1 77.5h1v1h-1zM405.8 69.1h1v1h-1zM407.7 66.7h1v1h-1zM397.2 70.3h1v1h-1zM409.6 71.8h1v1h-1zM396.4 73.2h1v1h-1zM407.6 73.8h1v1h-1zM401.1 77.7h1v1h-1zM403.8 75.5h1v1h-1zM399.6 68.9h1v1h-1zM395.4 65.1h1v1h-1zM405.7 71.6h1v1h-1zM402.5 65.5h1v1h-1zM401.5 74.0h1v1h-1zM399.5 71.7h1v1h-1zM399.8 62.4h1v1h-1zM399.6 75.4h1v1h-1zM401.8 81.1h1v1h-1zM400.5 71.4h1v1h-1zM396.4 69.9h1v1h-1zM397.2 75.4h1v1h-1zM403.9 69.8h1v1h-1zM401.7 74.5h1v1h-1zM403.6 70.7h1v1h-1zM399.3 65.8h1v1h-1z" fill="#2a2a2a" fill-opacity="0.36" filter="url(#sb)"/>
<path d="M397.0 74.7h1v1h-1zM397.1 72.8h1v1h-1zM395.6 82.2h1v1h-1zM407.6 72.2h1v1h-1zM402.7 76.3h1v1h-1zM410.2 65.5h1v1h-1zM403.1 76.1h1v1h-1zM393.6 66.8h1v1h-1zM401.0 65.4h1v1h-1zM405.6 61.3h1v1h-1zM397.3 70.4h1v1h-1zM407.4 65.3h1v1h-1zM397.0 73.9h1v1h-1zM404.8 64.0h1v1h-1zM404.2 64.3h1v1h-1zM409.3 74.2h1v1h-1zM407.8 68.9h1v1h-1zM395.1 69.4h1v1h-1zM400.9 73.7h1v1h-1zM410.2 70.8h1v1h-1zM409.5 73.9h1v1h-1zM399.0 76.9h1v1h-1zM406.5 72.7h1v1h-1zM394.4 77.4h1v1h-1zM408.3 64.6h1v1h-1zM398.0 71.0h1v1h-1zM409.1 73.2h1v1h-1zM409.0 76.7h1v1h-1zM406.1 70.1h1v1h-1zM395.8 67.0h1v1h-1zM397.3 74.5h1v1h-1zM396.5 68.8h1v1h-1zM396.6 66.9h1v1h-1zM407.3 75.1h1v1h-1zM403.9 73.4h1v1h-1zM408.3 62.8h1v1h-1zM399.9 77.4h1v1h-1zM395.5 69.1h1v1h-1zM401.1 68.3h1v1h-1zM404.9 76.8h1v1h-1zM402.9 66.0h1v1h-1zM402.6 73.3h1v1h-1zM400.3 79.1h1v1h-1zM399.6 76.9h1v1h-1zM400.5 72.5h1v1h-1zM405.3 72.7h1v1h-1zM407.8 66.0h1v1h-1zM398.5 73.5h1v1h-1zM399.6 70.3h1v1h-1zM396.9 71.9h1v1h-1zM406.6 74.8h1v1h-1zM412.2 76.4h1v1h-1z" fill="#2a2a2a" fill-opacity="0.36" filter="url(#sb)"/>
<path d="M408.8 67.5h1v1h-1zM397.6 73.0h1v1h-1zM407.2 77.8h1v1h-1zM404.0 76.0h1v1h-1zM399.2 63.9h1v1h-1zM402.5 72.7h1v1h-1zM408.9 76.0h1v1h-1zM407.0 80.4h1v1h-1zM396.6 71.1h1v1h-1zM403.2 69.4h1v1h-1zM408.5 75.8h1v1h-1zM400.2 78.0h1v1h-1zM400.8 67.5h1v1h-1zM408.3 63.2h1v1h-1zM397.9 71.4h1v1h-1zM405.2 78.2h1v1h-1zM409.1 64.0h1v1h-1zM402.2 68.0h1v1h-1zM408.8 76.9h1v1h-1zM410.8 77.2h1v1h-1zM404.9 70.8h1v1h-1zM395.0 74.3h1v1h-1zM402.2 71.0h1v1h-1zM404.2 78.2h1v1h-1zM401.5 76.0h1v1h-1zM412.4 68.8h1v1h-1zM405.5 75.4h1v1h-1zM395.2 62.7h1v1h-1zM396.5 79.5h1v1h-1zM406.8 69.0h1v1h-1zM400.4 78.2h1v1h-1zM402.7 76.3h1v1h-1zM411.3 68.9h1v1h-1zM404.3 76.4h1v1h-1zM405.5 79.2h1v1h-1zM402.5 63.7h1v1h-1zM403.9 67.1h1v1h-1zM393.9 70.6h1v1h-1zM401.3 74.8h1v1h-1zM399.2 69.1h1v1h-1zM402.8 71.6h1v1h-1zM403.3 78.2h1v1h-1zM400.6 72.0h1v1h-1z" fill="#2a2a2a" fill-opacity="0.36" filter="url(#sb)"/>
<path d="M398.6 72.0h1v1h-1zM408.3 70.1h1v1h-1zM403.2 69.8h1v1h-1zM402.3 72.1h1v1h-1zM408.3 70.5h1v1h-1zM407.4 70.7h1v1h-1zM400.8 69.2h1v1h-1zM405.4 64.9h1v1h-1zM406.0 80.4h1v1h-1zM406.3 73.6h1v1h-1zM407.4 64.8h1v1h-1zM404.5 62.6h1v1h-1zM402.5 66.3h1v1h-1zM407.8 71.1h1v1h-1zM405.2 73.6h1v1h-1zM406.6 67.4h1v1h-1zM404.9 75.7h1v1h-1zM408.0 65.0h1v1h-1zM399.5 75.7h1v1h-1zM404.9 78.7h1v1h-1zM408.2 78.6h1v1h-1zM407.1 69.9h1v1h-1zM410.6 66.9h1v1h-1zM400.8 63.4h1v1h-1zM402.9 80.5h1v1h-1zM408.0 71.5h1v1h-1zM406.2 80.5h1v1h-1zM402.2 82.1h1v1h-1zM404.1 67.3h1v1h-1zM401.8 75.3h1v1h-1zM406.5 63.4h1v1h-1zM403.8 77.9h1v1h-1zM403.7 69.0h1v1h-1zM403.9 73.8h1v1h-1zM397.0 73.9h1v1h-1zM406.7 68.0h1v1h-1zM410.5 74.7h1v1h-1zM399.6 69.7h1v1h-1zM394.5 72.6h1v1h-1zM400.8 74.5h1v1h-1zM404.6 73.5h1v1h-1zM400.9 73.0h1v1h-1zM397.6 71.6h1v1h-1zM392.3 69.1h1v1h-1zM404.1 78.9h1v1h-1zM396.5 76.4h1v1h-1z" fill="#2a2a2a" fill-opacity="0.36" filter="url(#sb)"/>
<path d="M405.3 66.8h1v1h-1zM409.2 75.3h1v1h-1zM399.5 69.6h1v1h-1zM405.9 66.8h1v1h-1zM399.7 73.0h1v1h-1zM402.7 67.6h1v1h-1zM398.6 73.3h1v1h-1zM400.4 72.3h1v1h-1zM401.0 78.0h1v1h-1zM404.2 77.9h1v1h-1zM411.9 74.9h1v1h-1zM402.6 73.6h1v1h-1zM396.6 74.4h1v1h-1zM396.8 74.4h1v1h-1zM402.7 64.9h1v1h-1zM400.5 68.3h1v1h-1zM394.6 65.5h1v1h-1zM410.9 71.7h1v1h-1zM411.3 67.2h1v1h-1zM404.0 71.9h1v1h-1zM411.5 78.9h1v1h-1zM405.2 79.3h1v1h-1zM397.9 73.7h1v1h-1zM400.7 76.1h1v1h-1zM396.6 67.8h1v1h-1zM403.5 75.8h1v1h-1zM405.3 73.7h1v1h-1zM407.5 79.3h1v1h-1zM402.0 68.2h1v1h-1zM405.5 67.6h1v1h-1zM392.2 76.9h1v1h-1zM409.8 69.1h1v1h-1zM409.0 76.3h1v1h-1zM403.7 67.5h1v1h-1zM406.4 70.3h1v1h-1zM406.8 69.8h1v1h-1zM395.7 76.4h1v1h-1zM403.1 73.8h1v1h-1zM398.4 68.6h1v1h-1zM409.1 68.7h1v1h-1zM404.2 66.5h1v1h-1zM406.1 68.1h1v1h-1zM408.7 69.5h1v1h-1zM404.4 68.1h1v1h-1zM398.9 72.2h1v1h-1zM395.8 67.3h1v1h-1zM399.2 71.8h1v1h-1zM400.0 69.1h1v1h-1z" fill="#2a2a2a" fill-opacity="0.36" filter="url(#sb)"/>
<path d="M415.2 75.3h1v1h-1zM410.8 60.9h1v1h-1zM400.2 66.2h1v1h-1zM397.6 64.2h1v1h-1zM410.7 72.3h1v1h-1zM403.1 69.2h1v1h-1zM405.9 78.0h1v1h-1zM408.6 71.2h1v1h-1zM410.5 74.6h1v1h-1zM410.9 72.1h1v1h-1zM402.2 60.6h1v1h-1zM408.3 75.6h1v1h-1zM401.1 79.8h1v1h-1zM410.0 69.3h1v1h-1zM397.1 71.6h1v1h-1zM399.7 63.9h1v1h-1zM409.0 75.4h1v1h-1zM408.7 70.8h1v1h-1zM405.9 65.3h1v1h-1zM400.7 72.8h1v1h-1zM401.8 72.0h1v1h-1zM406.0 74.6h1v1h-1zM404.7 67.9h1v1h-1zM403.4 75.9h1v1h-1zM402.6 78.1h1v1h-1zM404.8 66.8h1v1h-1zM401.3 64.7h1v1h-1zM408.2 70.2h1v1h-1zM411.4 67.7h1v1h-1zM394.0 69.0h1v1h-1zM403.4 63.4h1v1h-1zM401.1 67.9h1v1h-1zM401.1 71.8h1v1h-1zM410.5 78.7h1v1h-1zM400.9 71.4h1v1h-1zM397.0 74.2h1v1h-1zM405.6 80.7h1v1h-1zM400.2 68.6h1v1h-1zM401.0 71.8h1v1h-1zM408.0 66.8h1v1h-1zM405.3 77.9h1v1h-1zM406.2 71.1h1v1h-1zM399.6 69.7h1v1h-1zM407.7 70.1h1v1h-1zM406.2 70.4h1v1h-1zM409.6 70.0h1v1h-1zM407.3 62.8h1v1h-1zM411.6 70.7h1v1h-1z" fill="#2a2a2a" fill-opacity="0.36" filter="url(#sb)"/>
<path d="M401.1 76.7h1v1h-1zM398.7 77.9h1v1h-1zM406.8 69.1h1v1h-1zM409.3 74.6h1v1h-1zM408.3 70.8h1v1h-1zM410.1 74.0h1v1h-1zM401.0 71.4h1v1h-1zM412.0 68.3h1v1h-1zM408.0 75.5h1v1h-1zM406.6 76.4h1v1h-1zM394.9 76.0h1v1h-1zM400.2 65.9h1v1h-1zM399.2 71.6h1v1h-1zM406.9 68.0h1v1h-1zM406.5 66.5h1v1h-1zM403.7 64.6h1v1h-1zM400.0 63.2h1v1h-1zM403.5 75.1h1v1h-1zM410.4 78.4h1v1h-1zM400.8 76.3h1v1h-1zM405.9 74.1h1v1h-1zM408.4 67.7h1v1h-1zM398.6 70.9h1v1h-1zM405.1 67.2h1v1h-1zM405.0 59.3h1v1h-1zM403.3 78.4h1v1h-1zM402.7 80.4h1v1h-1zM406.9 79.8h1v1h-1zM409.5 68.5h1v1h-1zM400.9 69.1h1v1h-1zM397.3 70.7h1v1h-1zM402.6 71.3h1v1h-1zM395.3 71.1h1v1h-1zM403.8 69.6h1v1h-1zM399.2 68.4h1v1h-1zM398.2 70.8h1v1h-1zM400.8 71.8h1v1h-1zM399.3 73.9h1v1h-1zM403.1 71.9h1v1h-1zM397.0 72.7h1v1h-1zM405.0 67.7h1v1h-1zM404.1 69.8h1v1h-1zM402.1 71.3h1v1h-1zM404.1 70.4h1v1h-1zM401.3 72.8h1v1h-1zM395.8 76.1h1v1h-1z" fill="#2a2a2a" fill-opacity="0.36" filter="url(#sb)"/>
<path d="M404.2 70.3h1v1h-1zM408.0 65.2h1v1h-1zM408.5 69.2h1v1h-1zM405.2 68.4h1v1h-1zM409.5 61.2h1v1h-1zM398.4 68.3h1v1h-1zM404.9 75.4h1v1h-1zM409.6 68.5h1v1h-1zM404.9 62.6h1v1h-1zM410.6 70.0h1v1h-1zM397.4 67.9h1v1h-1zM397.1 66.4h1v1h-1zM412.6 64.9h1v1h-1zM409.9 76.0h1v1h-1zM407.9 67.8h1v1h-1zM403.9 66.5h1v1h-1zM406.0 70.2h1v1h-1zM399.6 73.3h1v1h-1zM405.1 69.1h1v1h-1zM402.6 77.6h1v1h-1zM406.3 72.7h1v1h-1zM407.4 72.6h1v1h-1zM406.1 67.4h1v1h-1zM394.4 70.5h1v1h-1zM393.0 70.5h1v1h-1zM405.0 64.2h1v1h-1zM396.7 72.4h1v1h-1zM398.4 79.1h1v1h-1zM400.1 75.9h1v1h-1zM399.3 70.5h1v1h-1zM396.7 65.5h1v1h-1zM411.9 74.8h1v1h-1zM402.5 72.4h1v1h-1zM397.2 69.8h1v1h-1zM401.3 79.0h1v1h-1zM398.1 79.1h1v1h-1zM397.9 67.6h1v1h-1zM406.0 67.5h1v1h-1zM404.9 73.5h1v1h-1zM403.3 80.4h1v1h-1zM403.8 72.4h1v1h-1zM392.6 70.9h1v1h-1zM408.8 78.9h1v1h-1zM407.9 70.6h1v1h-1zM402.0 66.4h1v1h-1zM403.1 74.6h1v1h-1zM407.9 69.3h1v1h-1zM395.4 72.4h1v1h-1zM403.1 69.2h1v1h-1zM402.3 68.6h1v1h-1zM396.4 72.4h1v1h-1zM403.1 69.8h1v1h-1zM402.4 73.6h1v1h-1z" fill="#2a2a2a" fill-opacity="0.36" filter="url(#sb)"/>
<path d="M403.4 72.6h1v1h-1zM405.4 76.9h1v1h-1zM407.2 67.6h1v1h-1zM409.8 72.8h1v1h-1zM404.2 64.0h1v1h-1zM394.7 71.8h1v1h-1zM406.3 72.3h1v1h-1zM406.1 69.9h1v1h-1zM404.2 75.8h1v1h-1zM401.5 66.1h1v1h-1zM407.5 73.3h1v1h-1zM397.8 78.4h1v1h-1zM400.5 71.6h1v1h-1zM398.0 67.9h1v1h-1zM400.5 66.8h1v1h-1zM398.7 71.7h1v1h-1zM412.4 71.7h1v1h-1zM403.4 64.5h1v1h-1zM405.0 80.6h1v1h-1zM403.8 77.1h1v1h-1zM405.8 79.0h1v1h-1zM411.2 67.9h1v1h-1zM409.9 75.7h1v1h-1zM405.4 69.8h1v1h-1zM408.5 70.3h1v1h-1zM405.5 68.9h1v1h-1zM404.5 75.4h1v1h-1zM397.3 71.1h1v1h-1zM411.6 72.6h1v1h-1zM408.3 74.1h1v1h-1zM402.9 75.2h1v1h-1zM413.6 74.1h1v1h-1zM410.9 70.2h1v1h-1zM406.8 71.4h1v1h-1zM406.5 74.5h1v1h-1zM409.9 72.0h1v1h-1zM392.4 70.3h1v1h-1zM405.5 73.7h1v1h-1zM400.8 64.5h1v1h-1zM403.7 69.9h1v1h-1zM400.7 68.6h1v1h-1zM395.9 77.7h1v1h-1zM404.5 72.0h1v1h-1zM402.7 67.6h1v1h-1zM405.9 72.3h1v1h-1zM402.7 72.8h1v1h-1zM398.3 73.4h1v1h-1zM398.9 68.4h1v1h-1zM412.0 74.0h1v1h-1zM395.7 77.2h1v1h-1zM398.2 74.9h1v1h-1zM407.8 66.1h1v1h-1z" fill="#2a2a2a" fill-opacity="0.36" filter="url(#sb)"/>
<path d="M410.3 79.4h1v1h-1zM396.3 67.9h1v1h-1zM407.6 78.5h1v1h-1zM404.9 69.8h1v1h-1zM400.2 70.3h1v1h-1zM401.3 64.3h1v1h-1zM411.8 77.8h1v1h-1zM408.2 61.3h1v1h-1zM411.4 72.6h1v1h-1zM393.8 64.5h1v1h-1zM399.9 67.4h1v1h-1zM412.2 71.3h1v1h-1zM400.8 76.8h1v1h-1zM407.7 71.9h1v1h-1zM405.4 78.5h1v1h-1zM404.1 64.9h1v1h-1zM401.3 70.8h1v1h-1zM403.6 68.0h1v1h-1zM400.8 80.0h1v1h-1zM409.3 72.3h1v1h-1zM405.1 69.2h1v1h-1zM406.6 71.7h1v1h-1zM401.7 69.1h1v1h-1zM400.8 78.3h1v1h-1zM398.0 70.8h1v1h-1zM393.2 74.1h1v1h-1zM399.6 77.2h1v1h-1zM400.4 70.7h1v1h-1zM395.7 66.8h1v1h-1zM401.3 61.5h1v1h-1zM400.0 70.1h1v1h-1zM406.4 66.3h1v1h-1zM407.8 76.5h1v1h-1zM403.3 65.4h1v1h-1zM396.9 68.1h1v1h-1zM403.0 65.7h1v1h-1zM402.5 68.9h1v1h-1zM408.4 67.6h1v1h-1zM408.6 68.5h1v1h-1zM406.3 62.6h1v1h-1zM398.0 78.6h1v1h-1zM408.1 79.9h1v1h-1zM397.1 66.2h1v1h-1zM397.3 71.1h1v1h-1zM409.7 69.8h1v1h-1zM402.9 75.6h1v1h-1zM407.7 76.1h1v1h-1zM403.2 63.1h1v1h-1zM399.7 67.6h1v1h-1zM398.6 75.7h1v1h-1zM403.1 74.6h1v1h-1zM406.2 75.8h1v1h-1zM407.5 74.5h1v1h-1zM397.6 71.6h1v1h-1zM403.5 79.4h1v1h-1zM398.3 74.6h1v1h-1zM414.2 63.1h1v1h-1zM402.4 72.5h1v1h-1zM407.7 69.0h1v1h-1zM408.1 74.1h1v1h-1zM404.8 66.4h1v1h-1z" fill="#2a2a2a" fill-opacity="0.36" filter="url(#sb)"/>
<path d="M419.6 44.8h1v1h-1zM424.6 42.4h1v1h-1zM412.8 50.9h1v1h-1zM438.9 43.3h1v1h-1zM421.2 46.7h1v1h-1zM424.3 48.0h1v1h-1zM431.1 48.7h1v1h-1zM424.6 64.4h1v1h-1zM421.2 38.5h1v1h-1zM431.2 52.0h1v1h-1zM420.7 47.6h1v1h-1zM424.8 42.1h1v1h-1zM421.8 40.1h1v1h-1zM422.4 44.8h1v1h-1zM430.9 37.1h1v1h-1zM422.1 39.6h1v1h-1zM415.3 52.9h1v1h-1zM425.2 47.0h1v1h-1zM433.6 50.0h1v1h-1zM416.3 48.1h1v1h-1zM424.1 52.6h1v1h-1zM409.0 42.3h1v1h-1zM424.1 37.3h1v1h-1zM419.4 46.1h1v1h-1zM430.0 49.3h1v1h-1zM417.8 52.0h1v1h-1z" fill="#2a2a2a" fill-opacity="0.25" filter="url(#sb)"/>
<path d="M417.7 45.9h1v1h-1zM427.1 50.9h1v1h-1zM423.7 42.4h1v1h-1zM435.0 55.6h1v1h-1zM429.7 53.4h1v1h-1zM423.5 41.1h1v1h-1zM428.0 44.9h1v1h-1zM422.8 47.4h1v1h-1zM435.9 38.5h1v1h-1zM420.3 47.8h1v1h-1zM425.7 50.5h1v1h-1zM427.9 42.8h1v1h-1zM423.4 50.4h1v1h-1zM422.1 40.0h1v1h-1zM421.6 47.8h1v1h-1zM425.7 32.9h1v1h-1zM423.0 46.9h1v1h-1zM427.5 51.7h1v1h-1zM409.6 43.0h1v1h-1zM419.0 49.3h1v1h-1zM432.9 54.2h1v1h-1zM427.9 52.4h1v1h-1zM426.4 54.7h1v1h-1zM426.5 57.5h1v1h-1z" fill="#2a2a2a" fill-opacity="0.25" filter="url(#sb)"/>
<path d="M436.4 47.5h1v1h-1zM423.9 43.4h1v1h-1zM421.5 48.4h1v1h-1zM403.6 52.8h1v1h-1zM436.8 42.9h1v1h-1zM429.8 40.0h1v1h-1zM412.9 53.7h1v1h-1zM430.4 53.7h1v1h-1zM433.3 39.8h1v1h-1zM423.4 47.0h1v1h-1zM433.7 49.6h1v1h-1zM421.5 42.8h1v1h-1zM428.3 38.5h1v1h-1zM425.3 45.2h1v1h-1zM414.6 49.7h1v1h-1zM440.3 36.8h1v1h-1zM421.9 39.7h1v1h-1zM418.9 29.7h1v1h-1zM421.5 59.4h1v1h-1zM417.2 50.2h1v1h-1zM427.9 56.7h1v1h-1zM430.6 44.4h1v1h-1zM422.9 52.3h1v1h-1zM445.9 52.7h1v1h-1zM430.3 45.4h1v1h-1zM434.9 49.0h1v1h-1zM409.6 51.6h1v1h-1zM432.6 49.2h1v1h-1zM420.3 51.8h1v1h-1zM426.4 48.3h1v1h-1z" fill="#2a2a2a" fill-opacity="0.25" filter="url(#sb)"/>
<path d="M435.7 50.0h1v1h-1zM417.5 64.2h1v1h-1zM413.0 47.7h1v1h-1zM415.5 49.5h1v1h-1zM428.9 35.0h1v1h-1zM427.8 45.7h1v1h-1zM426.5 49.1h1v1h-1zM422.4 41.7h1v1h-1zM419.7 41.4h1v1h-1zM427.4 44.2h1v1h-1zM432.1 50.9h1v1h-1zM432.1 40.7h1v1h-1zM417.2 48.5h1v1h-1zM418.6 51.8h1v1h-1zM435.4 47.7h1v1h-1zM433.4 43.6h1v1h-1zM421.9 53.1h1v1h-1zM431.1 55.9h1v1h-1zM414.1 51.9h1v1h-1z" fill="#2a2a2a" fill-opacity="0.25" filter="url(#sb)"/>
<path d="M433.9 42.0h1v1h-1zM428.5 35.0h1v1h-1zM431.3 44.7h1v1h-1zM431.6 34.1h1v1h-1zM422.7 57.3h1v1h-1zM430.7 59.3h1v1h-1zM419.5 51.6h1v1h-1zM428.9 52.2h1v1h-1zM415.1 42.9h1v1h-1zM415.6 51.7h1v1h-1zM412.5 46.1h1v1h-1zM432.4 51.9h1v1h-1zM433.3 39.0h1v1h-1zM430.0 44.8h1v1h-1zM419.2 48.3h1v1h-1zM422.2 49.5h1v1h-1zM419.2 60.1h1v1h-1zM422.7 40.8h1v1h-1zM428.8 41.7h1v1h-1zM417.2 43.7h1v1h-1zM430.9 41.7h1v1h-1zM424.6 54.1h1v1h-1zM435.5 41.8h1v1h-1zM427.6 46.0h1v1h-1zM418.6 38.9h1v1h-1zM417.7 49.7h1v1h-1zM431.4 51.9h1v1h-1z" fill="#2a2a2a" fill-opacity="0.25" filter="url(#sb)"/>
<path d="M414.5 57.4h1v1h-1zM426.6 50.5h1v1h-1zM422.2 44.9h1v1h-1zM418.2 50.1h1v1h-1zM427.6 50.8h1v1h-1zM439.6 46.0h1v1h-1zM423.7 37.8h1v1h-1zM423.1 44.9h1v1h-1zM417.3 47.5h1v1h-1zM415.0 45.1h1v1h-1zM418.2 57.6h1v1h-1zM432.6 59.1h1v1h-1zM423.8 51.7h1v1h-1zM428.0 49.7h1v1h-1zM425.4 37.2h1v1h-1zM426.5 51.4h1v1h-1zM429.3 36.6h1v1h-1zM429.4 45.9h1v1h-1zM420.7 51.1h1v1h-1zM424.0 50.6h1v1h-1zM427.6 36.4h1v1h-1zM436.2 56.7h1v1h-1zM424.2 55.9h1v1h-1zM430.7 45.5h1v1h-1zM423.8 52.0h1v1h-1zM421.7 45.4h1v1h-1zM436.5 58.9h1v1h-1z" fill="#2a2a2a" fill-opacity="0.25" filter="url(#sb)"/>
<path d="M426.0 45.8h1v1h-1zM429.1 58.0h1v1h-1zM416.6 65.2h1v1h-1zM423.3 38.0h1v1h-1zM421.7 47.0h1v1h-1zM423.3 54.5h1v1h-1zM420.2 38.7h1v1h-1zM421.2 53.3h1v1h-1zM426.0 55.9h1v1h-1zM421.3 54.1h1v1h-1zM413.5 52.3h1v1h-1zM419.2 36.8h1v1h-1zM419.7 55.4h1v1h-1zM419.5 54.0h1v1h-1zM434.1 55.1h1v1h-1zM438.9 49.6h1v1h-1zM435.1 43.4h1v1h-1zM425.3 47.8h1v1h-1zM434.9 47.6h1v1h-1zM431.7 47.9h1v1h-1zM423.0 44.7h1v1h-1zM421.9 41.8h1v1h-1z" fill="#2a2a2a" fill-opacity="0.25" filter="url(#sb)"/>
<path d="M426.7 51.5h1v1h-1zM419.3 45.5h1v1h-1zM429.0 56.8h1v1h-1zM434.5 53.6h1v1h-1zM421.5 49.3h1v1h-1zM426.3 36.8h1v1h-1zM427.9 42.0h1v1h-1zM422.1 58.7h1v1h-1zM418.2 54.1h1v1h-1zM432.6 52.2h1v1h-1zM420.6 44.3h1v1h-1zM436.6 56.7h1v1h-1zM435.3 47.1h1v1h-1zM424.3 51.7h1v1h-1zM421.2 46.6h1v1h-1zM426.8 55.8h1v1h-1zM423.7 58.2h1v1h-1zM420.4 65.9h1v1h-1zM429.1 36.7h1v1h-1zM417.2 44.3h1v1h-1zM425.4 43.4h1v1h-1zM427.6 47.6h1v1h-1zM427.3 43.0h1v1h-1zM421.5 40.0h1v1h-1zM442.1 38.2h1v1h-1zM420.0 50.9h1v1h-1zM425.0 35.8h1v1h-1zM419.2 45.7h1v1h-1z" fill="#2a2a2a" fill-opacity="0.25" filter="url(#sb)"/>
<path d="M418.6 48.4h1v1h-1zM429.5 56.3h1v1h-1zM419.7 37.0h1v1h-1zM439.3 42.9h1v1h-1zM420.3 51.9h1v1h-1zM419.4 58.2h1v1h-1zM433.8 54.4h1v1h-1zM415.2 45.9h1v1h-1zM419.5 57.7h1v1h-1zM433.7 36.8h1v1h-1zM418.3 50.8h1v1h-1zM418.8 37.4h1v1h-1zM418.9 55.1h1v1h-1zM429.2 37.7h1v1h-1zM434.3 49.8h1v1h-1zM425.7 60.6h1v1h-1z" fill="#2a2a2a" fill-opacity="0.25" filter="url(#sb)"/>
<path d="M423.6 45.6h1v1h-1zM423.3 44.9h1v1h-1zM420.5 44.0h1v1h-1zM408.6 38.4h1v1h-1zM425.2 47.3h1v1h-1zM440.1 46.1h1v1h-1zM417.8 39.6h1v1h-1zM432.4 38.1h1v1h-1zM408.4 34.8h1v1h-1zM416.8 50.3h1v1h-1zM430.2 37.4h1v1h-1zM426.2 46.0h1v1h-1zM433.5 52.7h1v1h-1zM420.1 48.8h1v1h-1zM429.4 41.8h1v1h-1zM420.4 64.1h1v1h-1zM422.2 47.7h1v1h-1zM429.0 43.4h1v1h-1zM429.7 51.2h1v1h-1z" fill="#2a2a2a" fill-opacity="0.25" filter="url(#sb)"/>
<path d="M429.1 39.4h1v1h-1zM416.7 54.5h1v1h-1zM417.8 54.3h1v1h-1zM422.2 33.2h1v1h-1zM412.2 47.7h1v1h-1zM422.2 65.0h1v1h-1zM430.3 53.5h1v1h-1zM428.7 55.3h1v1h-1zM426.3 55.8h1v1h-1zM432.6 51.3h1v1h-1zM421.8 54.7h1v1h-1zM431.2 43.1h1v1h-1zM427.9 38.6h1v1h-1zM428.5 49.7h1v1h-1zM428.0 48.1h1v1h-1zM418.9 50.2h1v1h-1zM427.4 30.1h1v1h-1zM425.4 44.2h1v1h-1zM418.0 47.7h1v1h-1zM425.2 55.0h1v1h-1z" fill="#2a2a2a" fill-opacity="0.25" filter="url(#sb)"/>
<path d="M420.2 48.6h1v1h-1zM419.5 39.5h1v1h-1zM419.8 48.5h1v1h-1zM434.1 40.9h1v1h-1zM426.3 42.9h1v1h-1zM432.9 42.7h1v1h-1zM433.4 53.6h1v1h-1zM426.5 36.6h1v1h-1zM430.2 49.0h1v1h-1zM430.4 48.5h1v1h-1zM429.8 54.2h1v1h-1zM430.3 32.0h1v1h-1zM419.2 57.0h1v1h-1zM417.9 49.2h1v1h-1zM433.9 36.9h1v1h-1zM430.7 46.9h1v1h-1zM433.9 58.7h1v1h-1zM428.1 42.2h1v1h-1z" fill="#2a2a2a" fill-opacity="0.25" filter="url(#sb)"/>
<path d="M429.6 41.7h1v1h-1zM423.3 49.3h1v1h-1zM427.5 42.4h1v1h-1zM424.1 40.1h1v1h-1zM422.5 42.3h1v1h-1zM426.0 48.4h1v1h-1zM424.0 52.4h1v1h-1zM433.4 59.7h1v1h-1zM424.9 36.0h1v1h-1zM422.7 52.7h1v1h-1zM428.9 35.0h1v1h-1zM442.5 44.8h1v1h-1zM415.4 46.1h1v1h-1zM439.0 37.7h1v1h-1zM422.8 53.1h1v1h-1zM429.8 62.8h1v1h-1zM419.1 43.5h1v1h-1zM411.0 38.7h1v1h-1zM430.5 52.2h1v1h-1zM416.0 47.6h1v1h-1zM431.5 57.7h1v1h-1zM419.1 38.6h1v1h-1zM423.7 44.8h1v1h-1zM426.8 41.7h1v1h-1zM404.0 46.0h1v1h-1zM430.7 46.0h1v1h-1zM419.9 56.0h1v1h-1zM432.2 37.8h1v1h-1zM420.3 45.7h1v1h-1zM427.3 48.2h1v1h-1zM424.2 52.7h1v1h-1zM432.4 62.4h1v1h-1zM432.8 47.3h1v1h-1zM431.0 40.7h1v1h-1zM419.3 51.4h1v1h-1zM428.1 38.6h1v1h-1zM427.3 45.8h1v1h-1z" fill="#2a2a2a" fill-opacity="0.25" filter="url(#sb)"/>
<path d="M424.9 51.3h1v1h-1zM415.1 49.6h1v1h-1zM435.9 47.8h1v1h-1zM422.5 59.5h1v1h-1zM424.2 46.9h1v1h-1zM414.3 42.5h1v1h-1zM435.7 40.1h1v1h-1zM444.3 52.9h1v1h-1zM418.1 43.7h1v1h-1zM428.0 57.3h1v1h-1zM428.8 45.7h1v1h-1zM418.6 50.6h1v1h-1zM427.6 60.7h1v1h-1zM423.2 49.3h1v1h-1zM413.8 43.4h1v1h-1zM426.8 36.9h1v1h-1zM425.9 44.7h1v1h-1zM433.1 48.2h1v1h-1zM424.5 58.5h1v1h-1zM412.3 43.4h1v1h-1zM437.6 40.8h1v1h-1zM420.5 39.3h1v1h-1zM416.4 46.2h1v1h-1zM432.5 49.8h1v1h-1zM415.6 45.8h1v1h-1zM427.7 52.0h1v1h-1zM426.4 48.3h1v1h-1zM426.3 42.3h1v1h-1zM435.8 51.5h1v1h-1zM428.1 51.4h1v1h-1zM425.8 51.8h1v1h-1zM427.2 45.4h1v1h-1zM419.6 39.9h1v1h-1zM414.1 51.0h1v1h-1zM427.2 46.3h1v1h-1zM422.2 41.4h1v1h-1zM422.8 41.4h1v1h-1z" fill="#2a2a2a" fill-opacity="0.25" filter="url(#sb)"/>
<path d="M430.6 64.4h1v1h-1zM427.4 65.8h1v1h-1zM437.5 67.7h1v1h-1zM426.8 74.9h1v1h-1zM441.6 75.1h1v1h-1zM421.1 57.0h1v1h-1zM418.6 72.0h1v1h-1zM416.2 61.7h1v1h-1zM427.7 52.2h1v1h-1zM425.6 73.0h1v1h-1zM413.8 64.2h1v1h-1zM428.4 28.2h1v1h-1z" fill="#2a2a2a" fill-opacity="0.2" filter="url(#sb)"/>
<path d="M416.5 67.0h1v1h-1zM425.0 64.3h1v1h-1zM432.2 59.8h1v1h-1zM427.5 64.3h1v1h-1zM421.2 68.5h1v1h-1zM421.5 72.9h1v1h-1zM437.6 70.8h1v1h-1zM427.4 77.4h1v1h-1zM438.6 61.8h1v1h-1zM431.6 70.2h1v1h-1zM437.7 69.3h1v1h-1zM423.8 69.3h1v1h-1zM405.1 43.0h1v1h-1zM435.1 41.6h1v1h-1zM406.4 57.6h1v1h-1zM432.5 50.9h1v1h-1z" fill="#2a2a2a" fill-opacity="0.2" filter="url(#sb)"/>
<path d="M426.7 66.0h1v1h-1zM424.8 69.9h1v1h-1zM415.9 71.5h1v1h-1zM423.0 61.9h1v1h-1zM419.3 71.7h1v1h-1zM434.6 60.1h1v1h-1zM438.6 60.6h1v1h-1zM412.2 72.2h1v1h-1zM434.0 65.2h1v1h-1zM422.2 70.0h1v1h-1zM424.7 66.5h1v1h-1zM417.7 70.7h1v1h-1zM422.1 60.8h1v1h-1zM410.7 46.3h1v1h-1z" fill="#2a2a2a" fill-opacity="0.2" filter="url(#sb)"/>
<path d="M439.6 75.1h1v1h-1zM424.3 65.8h1v1h-1zM422.5 58.6h1v1h-1zM429.7 61.2h1v1h-1zM431.0 66.5h1v1h-1zM437.5 70.0h1v1h-1zM448.7 74.1h1v1h-1zM427.5 81.1h1v1h-1zM409.5 78.1h1v1h-1zM421.9 72.3h1v1h-1zM441.5 16.7h1v1h-1z" fill="#2a2a2a" fill-opacity="0.2" filter="url(#sb)"/>
<path d="M427.2 69.1h1v1h-1zM421.8 70.7h1v1h-1zM427.8 54.6h1v1h-1zM419.4 70.1h1v1h-1zM437.3 67.3h1v1h-1zM419.7 68.1h1v1h-1zM423.0 63.3h1v1h-1zM416.9 64.3h1v1h-1zM431.7 67.9h1v1h-1zM422.3 63.0h1v1h-1zM432.4 68.4h1v1h-1zM418.4 55.8h1v1h-1zM433.5 59.5h1v1h-1zM430.4 56.7h1v1h-1zM412.7 73.0h1v1h-1zM426.7 66.2h1v1h-1zM439.1 17.0h1v1h-1zM435.0 68.2h1v1h-1zM413.3 70.1h1v1h-1zM414.6 34.9h1v1h-1zM418.3 52.0h1v1h-1zM437.8 59.3h1v1h-1zM432.1 51.2h1v1h-1z" fill="#2a2a2a" fill-opacity="0.2" filter="url(#sb)"/>
<path d="M425.0 71.5h1v1h-1zM432.2 76.9h1v1h-1zM426.4 62.7h1v1h-1zM440.9 63.5h1v1h-1zM421.6 62.1h1v1h-1zM425.7 73.4h1v1h-1zM414.7 78.3h1v1h-1zM436.9 68.1h1v1h-1zM419.5 65.4h1v1h-1zM414.2 66.2h1v1h-1zM415.2 56.9h1v1h-1zM428.1 75.7h1v1h-1zM433.7 71.0h1v1h-1zM421.2 65.1h1v1h-1zM417.3 63.6h1v1h-1zM438.3 66.2h1v1h-1zM433.4 29.5h1v1h-1zM399.8 63.6h1v1h-1z" fill="#2a2a2a" fill-opacity="0.2" filter="url(#sb)"/>
<path d="M439.5 68.9h1v1h-1zM419.8 52.8h1v1h-1zM433.4 60.9h1v1h-1zM410.3 74.9h1v1h-1zM426.5 62.8h1v1h-1zM423.6 62.2h1v1h-1zM428.5 76.5h1v1h-1zM420.6 69.9h1v1h-1zM439.7 73.0h1v1h-1zM419.4 59.2h1v1h-1zM432.7 57.3h1v1h-1zM418.9 42.1h1v1h-1zM418.2 44.6h1v1h-1zM407.6 65.0h1v1h-1z" fill="#2a2a2a" fill-opacity="0.2" filter="url(#sb)"/>
<path d="M422.9 62.2h1v1h-1zM426.2 60.4h1v1h-1zM415.4 76.2h1v1h-1zM425.3 65.5h1v1h-1zM433.6 67.5h1v1h-1zM422.4 62.8h1v1h-1zM435.1 58.4h1v1h-1zM447.4 33.3h1v1h-1zM409.8 68.4h1v1h-1zM414.9 56.9h1v1h-1zM407.3 79.5h1v1h-1zM437.7 74.7h1v1h-1zM439.1 34.5h1v1h-1zM433.4 54.2h1v1h-1z" fill="#2a2a2a" fill-opacity="0.2" filter="url(#sb)"/>
<path d="M421.3 73.4h1v1h-1zM412.6 69.5h1v1h-1zM426.0 56.6h1v1h-1zM438.0 67.8h1v1h-1zM423.7 74.6h1v1h-1zM413.9 66.3h1v1h-1zM435.0 77.6h1v1h-1zM418.8 68.4h1v1h-1zM426.3 79.0h1v1h-1zM437.8 62.6h1v1h-1zM412.3 66.3h1v1h-1z" fill="#2a2a2a" fill-opacity="0.2" filter="url(#sb)"/>
<path d="M419.7 65.6h1v1h-1zM442.7 68.1h1v1h-1zM417.4 56.8h1v1h-1zM426.4 69.2h1v1h-1zM440.7 70.4h1v1h-1zM420.1 74.7h1v1h-1zM432.3 69.9h1v1h-1zM423.5 57.7h1v1h-1zM433.3 57.8h1v1h-1zM419.5 63.4h1v1h-1zM423.2 71.4h1v1h-1zM415.4 60.4h1v1h-1zM428.6 61.1h1v1h-1zM430.6 75.3h1v1h-1zM421.9 52.2h1v1h-1zM435.0 72.3h1v1h-1zM406.2 64.3h1v1h-1zM402.0 69.4h1v1h-1zM436.8 65.5h1v1h-1z" fill="#2a2a2a" fill-opacity="0.2" filter="url(#sb)"/>
<path d="M428.0 63.6h1v1h-1zM418.5 65.2h1v1h-1zM421.2 66.7h1v1h-1zM428.3 64.6h1v1h-1zM432.1 63.1h1v1h-1zM418.3 70.2h1v1h-1zM438.8 59.8h1v1h-1zM423.9 60.1h1v1h-1zM422.3 54.4h1v1h-1zM439.7 67.3h1v1h-1zM407.1 53.8h1v1h-1zM409.9 48.5h1v1h-1zM421.4 64.9h1v1h-1zM433.8 53.8h1v1h-1z" fill="#2a2a2a" fill-opacity="0.2" filter="url(#sb)"/>
<path d="M411.1 69.4h1v1h-1zM431.6 59.5h1v1h-1zM410.5 78.7h1v1h-1zM425.9 74.5h1v1h-1zM445.2 66.3h1v1h-1zM421.7 61.9h1v1h-1zM422.7 68.2h1v1h-1zM433.2 69.9h1v1h-1zM403.4 60.8h1v1h-1z" fill="#2a2a2a" fill-opacity="0.2" filter="url(#sb)"/>
<path d="M428.1 67.2h1v1h-1zM425.2 79.6h1v1h-1zM425.1 71.3h1v1h-1zM413.8 66.8h1v1h-1zM420.3 70.2h1v1h-1zM431.7 69.1h1v1h-1zM435.0 72.2h1v1h-1zM403.5 72.6h1v1h-1zM418.4 39.1h1v1h-1zM425.9 33.6h1v1h-1z" fill="#2a2a2a" fill-opacity="0.2" filter="url(#sb)"/>
<path d="M426.2 65.8h1v1h-1zM426.4 69.2h1v1h-1zM419.2 71.4h1v1h-1zM412.5 59.3h1v1h-1zM426.8 67.6h1v1h-1zM423.7 65.9h1v1h-1zM426.3 66.9h1v1h-1zM435.3 69.7h1v1h-1zM420.1 58.6h1v1h-1zM430.7 37.9h1v1h-1zM431.4 40.2h1v1h-1zM417.2 46.7h1v1h-1z" fill="#2a2a2a" fill-opacity="0.2" filter="url(#sb)"/>
<line x1="415.30" y1="14.60" x2="415.30" y2="84.30" stroke="#666" stroke-width="0.9"/>
<line x1="390.60" y1="60.00" x2="460.70" y2="60.00" stroke="#666" stroke-width="0.9"/>
<text x="394.10" y="26.60" font-size="8.6" text-anchor="start" font-weight="normal" fill="#111" stroke="#111" stroke-width="0.22" >1.9</text>
<text x="457.40" y="26.60" font-size="8.6" text-anchor="end" font-weight="normal" fill="#111" stroke="#111" stroke-width="0.22" >10.4</text>
<text x="457.40" y="80.50" font-size="8.6" text-anchor="end" font-weight="normal" fill="#111" stroke="#111" stroke-width="0.22" >5.2</text>
<path d="M390.60 84.30h-1.6M390.60 84.30v1.6M390.60 79.05h-0.9M395.88 84.30v0.9M390.60 75.99h-0.9M398.96 84.30v0.9M390.60 73.81h-0.9M401.15 84.30v0.9M390.60 72.12h-0.9M402.85 84.30v0.9M390.60 70.74h-0.9M404.24 84.30v0.9M390.60 69.57h-0.9M405.41 84.30v0.9M390.60 68.56h-0.9M406.43 84.30v0.9M390.60 67.67h-0.9M407.32 84.30v0.9M390.60 66.88h-1.6M408.12 84.30v1.6M390.60 61.63h-0.9M413.40 84.30v0.9M390.60 58.56h-0.9M416.49 84.30v0.9M390.60 56.38h-0.9M418.68 84.30v0.9M390.60 54.70h-0.9M420.37 84.30v0.9M390.60 53.32h-0.9M421.76 84.30v0.9M390.60 52.15h-0.9M422.94 84.30v0.9M390.60 51.14h-0.9M423.95 84.30v0.9M390.60 50.25h-0.9M424.85 84.30v0.9M390.60 49.45h-1.6M425.65 84.30v1.6M390.60 44.20h-0.9M430.93 84.30v0.9M390.60 41.14h-0.9M434.01 84.30v0.9M390.60 38.96h-0.9M436.20 84.30v0.9M390.60 37.27h-0.9M437.90 84.30v0.9M390.60 35.89h-0.9M439.29 84.30v0.9M390.60 34.72h-0.9M440.46 84.30v0.9M390.60 33.71h-0.9M441.48 84.30v0.9M390.60 32.82h-0.9M442.37 84.30v0.9M390.60 32.02h-1.6M443.18 84.30v1.6M390.60 26.78h-0.9M448.45 84.30v0.9M390.60 23.71h-0.9M451.54 84.30v0.9M390.60 21.53h-0.9M453.73 84.30v0.9M390.60 19.85h-0.9M455.42 84.30v0.9M390.60 18.47h-0.9M456.81 84.30v0.9M390.60 17.30h-0.9M457.99 84.30v0.9M390.60 16.29h-0.9M459.00 84.30v0.9M390.60 15.40h-0.9M459.90 84.30v0.9M390.60 14.60h-1.6M460.70 84.30v1.6" stroke="#999" stroke-width="0.6" fill="none"/>
<text x="388.40" y="85.70" font-size="3.8" text-anchor="end" font-weight="normal" fill="#707070" stroke="#707070" stroke-width="0.22" >10<tspan font-size="2.6" dy="-1.5">0</tspan></text>
<text x="390.60" y="89.90" font-size="3.8" text-anchor="middle" font-weight="normal" fill="#707070" stroke="#707070" stroke-width="0.22" >10<tspan font-size="2.6" dy="-1.5">0</tspan></text>
<text x="388.40" y="68.28" font-size="3.8" text-anchor="end" font-weight="normal" fill="#707070" stroke="#707070" stroke-width="0.22" >10<tspan font-size="2.6" dy="-1.5">1</tspan></text>
<text x="408.12" y="89.90" font-size="3.8" text-anchor="middle" font-weight="normal" fill="#707070" stroke="#707070" stroke-width="0.22" >10<tspan font-size="2.6" dy="-1.5">1</tspan></text>
<text x="388.40" y="50.85" font-size="3.8" text-anchor="end" font-weight="normal" fill="#707070" stroke="#707070" stroke-width="0.22" >10<tspan font-size="2.6" dy="-1.5">2</tspan></text>
<text x="425.65" y="89.90" font-size="3.8" text-anchor="middle" font-weight="normal" fill="#707070" stroke="#707070" stroke-width="0.22" >10<tspan font-size="2.6" dy="-1.5">2</tspan></text>
<text x="388.40" y="33.42" font-size="3.8" text-anchor="end" font-weight="normal" fill="#707070" stroke="#707070" stroke-width="0.22" >10<tspan font-size="2.6" dy="-1.5">3</tspan></text>
<text x="443.18" y="89.90" font-size="3.8" text-anchor="middle" font-weight="normal" fill="#707070" stroke="#707070" stroke-width="0.22" >10<tspan font-size="2.6" dy="-1.5">3</tspan></text>
<text x="388.40" y="16.00" font-size="3.8" text-anchor="end" font-weight="normal" fill="#707070" stroke="#707070" stroke-width="0.22" >10<tspan font-size="2.6" dy="-1.5">4</tspan></text>
<text x="460.70" y="89.90" font-size="3.8" text-anchor="middle" font-weight="normal" fill="#707070" stroke="#707070" stroke-width="0.22" >10<tspan font-size="2.6" dy="-1.5">4</tspan></text>
<rect x="300.6" y="96.2" width="71.0" height="69.39999999999999" fill="#f5f5f5" stroke="#888" stroke-width="0.9"/>
<path d="M335.0 125.3h1v1h-1zM330.9 138.0h1v1h-1zM335.5 127.2h1v1h-1zM335.1 132.6h1v1h-1zM335.0 127.5h1v1h-1zM331.0 139.3h1v1h-1zM340.4 127.3h1v1h-1zM337.4 134.2h1v1h-1zM333.9 125.0h1v1h-1zM337.0 132.1h1v1h-1zM334.4 139.9h1v1h-1zM337.5 122.9h1v1h-1zM331.1 125.5h1v1h-1zM333.6 131.3h1v1h-1zM335.4 126.6h1v1h-1zM340.1 127.7h1v1h-1zM335.4 140.4h1v1h-1zM335.0 131.7h1v1h-1zM330.9 137.8h1v1h-1zM328.8 120.5h1v1h-1zM338.6 136.6h1v1h-1zM333.8 138.0h1v1h-1zM336.8 124.2h1v1h-1zM340.9 123.5h1v1h-1zM336.9 126.5h1v1h-1zM328.4 131.4h1v1h-1zM326.8 137.8h1v1h-1zM336.1 132.3h1v1h-1zM335.9 131.3h1v1h-1zM328.7 134.5h1v1h-1zM334.8 123.0h1v1h-1zM337.5 129.6h1v1h-1zM338.4 131.7h1v1h-1zM326.7 135.9h1v1h-1zM335.5 132.4h1v1h-1zM332.0 121.9h1v1h-1zM332.4 154.2h1v1h-1zM327.4 149.8h1v1h-1zM332.4 150.2h1v1h-1zM333.5 145.5h1v1h-1zM323.1 158.0h1v1h-1zM332.0 154.9h1v1h-1zM324.4 151.1h1v1h-1zM323.1 158.3h1v1h-1zM332.1 146.6h1v1h-1zM333.9 159.9h1v1h-1zM328.8 156.3h1v1h-1zM334.9 158.7h1v1h-1zM327.9 146.8h1v1h-1zM327.6 154.3h1v1h-1zM333.8 143.5h1v1h-1zM325.7 156.9h1v1h-1zM332.2 151.6h1v1h-1zM334.5 159.1h1v1h-1zM332.1 149.3h1v1h-1zM324.6 153.0h1v1h-1zM330.9 160.8h1v1h-1zM327.8 147.3h1v1h-1zM333.7 143.4h1v1h-1zM334.8 149.3h1v1h-1zM329.5 144.0h1v1h-1zM329.5 156.3h1v1h-1zM330.6 152.4h1v1h-1z" fill="#2a2a2a" fill-opacity="0.36" filter="url(#sb)"/>
<path d="M330.2 135.1h1v1h-1zM332.2 130.4h1v1h-1zM331.2 136.0h1v1h-1zM331.3 129.6h1v1h-1zM334.3 136.2h1v1h-1zM335.1 122.7h1v1h-1zM330.7 138.7h1v1h-1zM334.0 131.7h1v1h-1zM332.9 132.5h1v1h-1zM334.1 140.8h1v1h-1zM333.0 134.7h1v1h-1zM326.4 138.8h1v1h-1zM330.2 137.6h1v1h-1zM331.6 133.5h1v1h-1zM336.2 139.8h1v1h-1zM335.9 129.1h1v1h-1zM331.1 123.5h1v1h-1zM331.6 127.9h1v1h-1zM334.6 132.3h1v1h-1zM324.2 146.3h1v1h-1zM322.9 156.6h1v1h-1zM320.6 156.2h1v1h-1zM328.2 147.4h1v1h-1zM323.6 149.8h1v1h-1zM332.4 147.9h1v1h-1zM324.9 145.8h1v1h-1zM329.1 146.4h1v1h-1zM333.9 146.4h1v1h-1zM330.0 154.6h1v1h-1zM333.7 153.0h1v1h-1zM330.4 158.0h1v1h-1zM327.8 159.9h1v1h-1zM328.2 148.0h1v1h-1zM324.2 154.9h1v1h-1zM321.1 156.2h1v1h-1zM324.7 144.2h1v1h-1zM333.0 157.8h1v1h-1zM332.3 142.1h1v1h-1zM326.9 158.7h1v1h-1zM330.9 159.8h1v1h-1zM337.3 146.7h1v1h-1zM334.0 122.1h1v1h-1z" fill="#2a2a2a" fill-opacity="0.36" filter="url(#sb)"/>
<path d="M326.7 137.8h1v1h-1zM330.3 126.9h1v1h-1zM334.1 122.5h1v1h-1zM336.0 124.9h1v1h-1zM331.7 138.3h1v1h-1zM337.2 135.6h1v1h-1zM335.5 136.0h1v1h-1zM334.5 135.5h1v1h-1zM334.6 122.7h1v1h-1zM334.5 139.6h1v1h-1zM331.9 135.7h1v1h-1zM335.8 130.9h1v1h-1zM335.4 137.0h1v1h-1zM330.2 129.8h1v1h-1zM334.3 132.0h1v1h-1zM335.0 133.9h1v1h-1zM330.3 133.9h1v1h-1zM332.9 130.3h1v1h-1zM333.9 125.6h1v1h-1zM332.7 122.0h1v1h-1zM330.0 121.2h1v1h-1zM332.0 138.9h1v1h-1zM331.3 122.3h1v1h-1zM336.0 133.6h1v1h-1zM334.8 125.0h1v1h-1zM336.2 136.5h1v1h-1zM329.0 127.6h1v1h-1zM329.9 137.4h1v1h-1zM329.7 128.4h1v1h-1zM331.0 136.2h1v1h-1zM332.8 122.7h1v1h-1zM336.0 127.6h1v1h-1zM331.7 120.7h1v1h-1zM334.8 127.3h1v1h-1zM331.2 134.0h1v1h-1zM333.8 137.6h1v1h-1zM326.7 146.3h1v1h-1zM333.7 147.3h1v1h-1zM323.0 151.7h1v1h-1zM333.7 156.0h1v1h-1zM328.0 159.0h1v1h-1zM331.9 145.7h1v1h-1zM331.6 144.1h1v1h-1zM328.2 142.7h1v1h-1zM333.0 152.1h1v1h-1zM333.4 154.8h1v1h-1zM321.1 159.1h1v1h-1zM328.0 150.6h1v1h-1zM326.6 156.8h1v1h-1zM325.7 156.8h1v1h-1zM324.1 148.2h1v1h-1zM334.1 161.9h1v1h-1zM326.8 143.0h1v1h-1zM334.0 148.5h1v1h-1zM330.4 143.5h1v1h-1zM336.1 140.9h1v1h-1zM329.5 149.9h1v1h-1zM336.1 146.0h1v1h-1zM325.1 152.7h1v1h-1zM326.2 138.5h1v1h-1zM331.2 146.1h1v1h-1zM331.4 154.4h1v1h-1zM334.0 145.6h1v1h-1zM322.3 159.3h1v1h-1zM324.5 149.3h1v1h-1zM335.8 146.1h1v1h-1zM334.8 119.0h1v1h-1zM342.8 124.5h1v1h-1zM330.1 122.9h1v1h-1zM334.4 124.7h1v1h-1z" fill="#2a2a2a" fill-opacity="0.36" filter="url(#sb)"/>
<path d="M336.0 121.4h1v1h-1zM331.2 124.8h1v1h-1zM327.8 136.5h1v1h-1zM335.8 132.9h1v1h-1zM339.0 121.7h1v1h-1zM328.1 131.2h1v1h-1zM333.1 138.9h1v1h-1zM336.4 136.4h1v1h-1zM327.2 135.9h1v1h-1zM333.5 139.6h1v1h-1zM331.0 135.6h1v1h-1zM334.5 127.5h1v1h-1zM335.0 129.4h1v1h-1zM336.7 122.0h1v1h-1zM334.5 121.5h1v1h-1zM333.0 125.5h1v1h-1zM337.2 123.3h1v1h-1zM329.7 135.1h1v1h-1zM333.8 131.9h1v1h-1zM332.2 128.8h1v1h-1zM332.0 127.8h1v1h-1zM334.4 138.9h1v1h-1zM337.3 128.8h1v1h-1zM333.3 120.5h1v1h-1zM337.3 124.0h1v1h-1zM337.6 124.1h1v1h-1zM337.5 137.3h1v1h-1zM337.8 123.3h1v1h-1zM332.1 128.7h1v1h-1zM333.6 122.3h1v1h-1zM334.6 134.4h1v1h-1zM330.7 145.7h1v1h-1zM325.6 158.2h1v1h-1zM331.8 143.2h1v1h-1zM331.2 145.9h1v1h-1zM322.9 160.1h1v1h-1zM330.8 150.1h1v1h-1zM330.9 156.0h1v1h-1zM323.5 151.8h1v1h-1zM326.5 148.3h1v1h-1zM330.2 161.4h1v1h-1zM330.8 140.4h1v1h-1zM326.7 156.1h1v1h-1zM332.3 149.1h1v1h-1zM333.4 149.7h1v1h-1zM330.9 151.7h1v1h-1zM330.0 140.8h1v1h-1zM332.4 149.8h1v1h-1zM324.4 149.6h1v1h-1zM326.8 140.8h1v1h-1zM331.3 159.8h1v1h-1zM334.5 149.9h1v1h-1zM334.8 144.9h1v1h-1zM335.2 143.7h1v1h-1zM330.8 150.8h1v1h-1zM334.9 143.6h1v1h-1zM327.8 152.2h1v1h-1zM334.2 144.6h1v1h-1zM332.4 122.3h1v1h-1z" fill="#2a2a2a" fill-opacity="0.36" filter="url(#sb)"/>
<path d="M337.7 134.6h1v1h-1zM328.9 137.8h1v1h-1zM331.0 134.0h1v1h-1zM332.1 121.1h1v1h-1zM327.0 138.5h1v1h-1zM333.6 137.7h1v1h-1zM329.9 131.3h1v1h-1zM332.2 126.4h1v1h-1zM338.5 127.2h1v1h-1zM339.6 132.6h1v1h-1zM333.6 126.3h1v1h-1zM330.0 128.2h1v1h-1zM334.8 137.8h1v1h-1zM331.5 134.9h1v1h-1zM330.7 124.4h1v1h-1zM330.7 135.8h1v1h-1zM331.7 128.2h1v1h-1zM337.4 130.5h1v1h-1zM334.1 139.5h1v1h-1zM332.3 123.9h1v1h-1zM334.5 136.8h1v1h-1zM335.6 125.8h1v1h-1zM334.5 133.7h1v1h-1zM330.1 138.8h1v1h-1zM333.1 136.7h1v1h-1zM337.7 122.4h1v1h-1zM336.1 127.7h1v1h-1zM335.1 123.3h1v1h-1zM339.6 124.7h1v1h-1zM334.4 136.2h1v1h-1zM331.4 137.3h1v1h-1zM332.5 125.9h1v1h-1zM338.0 124.2h1v1h-1zM331.8 123.2h1v1h-1zM333.5 151.5h1v1h-1zM329.2 144.0h1v1h-1zM323.4 148.5h1v1h-1zM330.5 150.3h1v1h-1zM331.4 143.5h1v1h-1zM334.1 145.5h1v1h-1zM326.9 151.9h1v1h-1zM325.4 153.6h1v1h-1zM329.9 150.1h1v1h-1zM324.6 144.5h1v1h-1zM330.0 144.6h1v1h-1zM335.3 148.8h1v1h-1zM325.8 157.6h1v1h-1zM331.8 151.9h1v1h-1zM329.8 143.2h1v1h-1zM333.5 162.0h1v1h-1zM325.3 142.7h1v1h-1zM327.3 147.9h1v1h-1zM331.9 145.2h1v1h-1zM328.1 144.7h1v1h-1zM326.9 152.7h1v1h-1zM326.3 151.5h1v1h-1zM329.2 151.0h1v1h-1zM332.5 148.5h1v1h-1zM334.9 121.6h1v1h-1zM338.9 122.2h1v1h-1zM337.8 121.9h1v1h-1zM334.1 123.9h1v1h-1zM337.0 126.0h1v1h-1zM338.9 117.6h1v1h-1z" fill="#2a2a2a" fill-opacity="0.36" filter="url(#sb)"/>
<path d="M332.0 127.9h1v1h-1zM338.0 124.3h1v1h-1zM335.8 131.7h1v1h-1zM332.6 130.2h1v1h-1zM334.0 126.6h1v1h-1zM332.4 137.5h1v1h-1zM330.4 137.3h1v1h-1zM335.3 122.3h1v1h-1zM330.6 136.1h1v1h-1zM337.1 124.2h1v1h-1zM339.2 122.8h1v1h-1zM333.4 136.8h1v1h-1zM329.6 137.6h1v1h-1zM334.5 123.8h1v1h-1zM335.3 127.0h1v1h-1zM335.0 126.2h1v1h-1zM333.9 126.7h1v1h-1zM336.9 131.9h1v1h-1zM330.4 136.3h1v1h-1zM337.3 133.3h1v1h-1zM340.3 124.0h1v1h-1zM327.0 133.9h1v1h-1zM333.3 138.0h1v1h-1zM330.6 138.9h1v1h-1zM327.7 137.6h1v1h-1zM331.5 133.1h1v1h-1zM337.1 132.3h1v1h-1zM330.8 131.7h1v1h-1zM330.9 133.1h1v1h-1zM335.2 128.7h1v1h-1zM332.5 137.6h1v1h-1zM329.2 145.3h1v1h-1zM330.9 147.4h1v1h-1zM329.7 140.5h1v1h-1zM322.5 155.4h1v1h-1zM329.4 152.2h1v1h-1zM326.8 143.6h1v1h-1zM323.8 151.8h1v1h-1zM335.2 142.7h1v1h-1zM325.8 155.5h1v1h-1zM329.8 143.9h1v1h-1zM324.8 157.6h1v1h-1zM325.5 153.7h1v1h-1zM327.9 151.0h1v1h-1zM334.7 141.0h1v1h-1zM323.1 144.6h1v1h-1zM330.4 145.3h1v1h-1zM324.4 155.9h1v1h-1zM330.4 147.0h1v1h-1zM324.7 156.2h1v1h-1zM328.9 147.0h1v1h-1zM333.3 153.8h1v1h-1zM333.9 153.2h1v1h-1zM328.0 156.3h1v1h-1zM331.5 120.8h1v1h-1zM336.2 124.3h1v1h-1zM334.5 121.0h1v1h-1zM332.8 120.8h1v1h-1z" fill="#2a2a2a" fill-opacity="0.36" filter="url(#sb)"/>
<path d="M333.9 121.8h1v1h-1zM334.2 127.7h1v1h-1zM337.3 122.7h1v1h-1zM333.8 134.8h1v1h-1zM332.3 138.5h1v1h-1zM328.4 138.3h1v1h-1zM333.3 132.0h1v1h-1zM331.8 138.8h1v1h-1zM328.0 130.7h1v1h-1zM331.4 128.9h1v1h-1zM337.8 136.2h1v1h-1zM331.1 137.7h1v1h-1zM328.9 127.0h1v1h-1zM332.5 137.9h1v1h-1zM332.3 122.2h1v1h-1zM336.4 127.4h1v1h-1zM335.7 138.2h1v1h-1zM334.0 138.7h1v1h-1zM337.4 126.4h1v1h-1zM329.5 137.6h1v1h-1zM334.8 139.6h1v1h-1zM333.5 128.5h1v1h-1zM332.3 125.9h1v1h-1zM336.5 122.0h1v1h-1zM331.7 139.4h1v1h-1zM336.9 131.7h1v1h-1zM329.8 129.6h1v1h-1zM332.0 139.5h1v1h-1zM331.8 136.0h1v1h-1zM336.3 132.4h1v1h-1zM337.4 128.9h1v1h-1zM333.9 145.6h1v1h-1zM327.8 157.2h1v1h-1zM331.7 151.3h1v1h-1zM330.0 140.8h1v1h-1zM324.7 158.6h1v1h-1zM328.6 154.6h1v1h-1zM331.8 144.7h1v1h-1zM328.3 155.5h1v1h-1zM326.7 145.1h1v1h-1zM326.5 140.7h1v1h-1zM326.2 157.8h1v1h-1zM336.4 150.5h1v1h-1zM332.8 146.4h1v1h-1zM334.8 146.5h1v1h-1zM327.9 150.5h1v1h-1zM326.5 158.7h1v1h-1zM332.0 161.8h1v1h-1zM332.6 148.5h1v1h-1zM324.8 152.2h1v1h-1zM327.8 157.9h1v1h-1zM317.8 158.4h1v1h-1zM334.1 147.3h1v1h-1zM334.8 163.2h1v1h-1zM327.0 151.1h1v1h-1zM321.4 158.1h1v1h-1zM334.7 119.3h1v1h-1zM335.6 115.4h1v1h-1zM330.4 121.8h1v1h-1z" fill="#2a2a2a" fill-opacity="0.36" filter="url(#sb)"/>
<path d="M330.4 131.6h1v1h-1zM337.5 131.4h1v1h-1zM329.8 135.3h1v1h-1zM333.1 124.3h1v1h-1zM334.0 135.1h1v1h-1zM332.4 132.3h1v1h-1zM332.3 131.3h1v1h-1zM331.7 131.2h1v1h-1zM336.4 128.6h1v1h-1zM330.6 119.9h1v1h-1zM337.8 128.6h1v1h-1zM337.7 131.4h1v1h-1zM333.4 122.5h1v1h-1zM333.5 139.4h1v1h-1zM331.3 136.8h1v1h-1zM336.1 137.3h1v1h-1zM331.4 136.3h1v1h-1zM335.8 140.6h1v1h-1zM331.4 133.5h1v1h-1zM337.7 126.0h1v1h-1zM336.9 124.2h1v1h-1zM332.7 138.9h1v1h-1zM337.3 125.1h1v1h-1zM333.7 138.8h1v1h-1zM326.7 138.4h1v1h-1zM330.2 133.4h1v1h-1zM329.8 126.0h1v1h-1zM336.7 128.8h1v1h-1zM331.3 153.9h1v1h-1zM327.4 146.3h1v1h-1zM329.3 158.6h1v1h-1zM326.1 145.5h1v1h-1zM332.9 149.3h1v1h-1zM327.0 149.5h1v1h-1zM332.2 151.7h1v1h-1zM332.0 143.3h1v1h-1zM325.7 143.4h1v1h-1zM323.0 153.2h1v1h-1zM327.5 149.9h1v1h-1zM326.2 155.4h1v1h-1zM332.6 149.3h1v1h-1zM332.3 154.9h1v1h-1zM332.0 158.6h1v1h-1zM329.1 146.6h1v1h-1zM324.2 158.7h1v1h-1zM329.5 146.9h1v1h-1zM325.5 150.9h1v1h-1zM332.4 160.8h1v1h-1zM327.2 142.3h1v1h-1zM333.4 150.7h1v1h-1zM330.4 147.1h1v1h-1zM328.1 140.1h1v1h-1zM334.3 141.3h1v1h-1zM330.9 156.1h1v1h-1zM341.8 122.7h1v1h-1zM338.1 122.4h1v1h-1zM334.6 116.3h1v1h-1zM332.6 120.4h1v1h-1zM337.5 118.8h1v1h-1zM336.9 118.6h1v1h-1zM337.7 121.3h1v1h-1zM336.6 122.3h1v1h-1z" fill="#2a2a2a" fill-opacity="0.36" filter="url(#sb)"/>
<path d="M334.1 132.1h1v1h-1zM330.3 120.6h1v1h-1zM331.9 134.1h1v1h-1zM335.2 133.5h1v1h-1zM332.5 126.7h1v1h-1zM331.8 138.8h1v1h-1zM335.8 136.4h1v1h-1zM335.9 137.2h1v1h-1zM335.5 122.0h1v1h-1zM336.3 134.0h1v1h-1zM332.3 129.0h1v1h-1zM333.6 122.0h1v1h-1zM331.7 139.5h1v1h-1zM338.7 125.7h1v1h-1zM335.1 122.6h1v1h-1zM331.8 135.3h1v1h-1zM336.9 123.9h1v1h-1zM333.8 125.6h1v1h-1zM332.6 134.2h1v1h-1zM329.0 134.7h1v1h-1zM331.7 133.2h1v1h-1zM334.7 133.0h1v1h-1zM327.1 137.2h1v1h-1zM334.4 122.3h1v1h-1zM332.4 134.5h1v1h-1zM332.7 136.5h1v1h-1zM329.9 129.2h1v1h-1zM329.0 137.4h1v1h-1zM337.6 140.6h1v1h-1zM334.1 135.0h1v1h-1zM328.9 137.6h1v1h-1zM331.8 133.6h1v1h-1zM331.6 124.2h1v1h-1zM330.4 130.5h1v1h-1zM339.6 122.6h1v1h-1zM331.0 124.5h1v1h-1zM331.4 156.3h1v1h-1zM322.6 158.1h1v1h-1zM329.7 149.2h1v1h-1zM329.7 144.9h1v1h-1zM326.6 157.1h1v1h-1zM331.6 144.8h1v1h-1zM325.0 160.2h1v1h-1zM325.7 157.4h1v1h-1zM328.1 145.9h1v1h-1zM331.9 156.1h1v1h-1zM333.0 145.3h1v1h-1zM323.7 155.6h1v1h-1zM331.3 147.3h1v1h-1zM332.1 155.0h1v1h-1zM332.1 141.8h1v1h-1zM330.0 142.8h1v1h-1zM328.0 143.6h1v1h-1zM334.2 149.0h1v1h-1zM321.5 158.3h1v1h-1zM333.6 146.4h1v1h-1zM326.1 160.0h1v1h-1zM328.0 143.7h1v1h-1zM331.0 144.8h1v1h-1zM333.6 120.4h1v1h-1zM336.8 125.5h1v1h-1zM331.7 124.7h1v1h-1zM336.4 120.2h1v1h-1zM335.3 122.6h1v1h-1z" fill="#2a2a2a" fill-opacity="0.36" filter="url(#sb)"/>
<path d="M332.8 128.2h1v1h-1zM341.3 123.1h1v1h-1zM334.5 138.0h1v1h-1zM328.4 133.8h1v1h-1zM335.5 138.8h1v1h-1zM335.9 122.3h1v1h-1zM338.1 125.8h1v1h-1zM332.5 132.3h1v1h-1zM333.9 135.2h1v1h-1zM331.8 121.1h1v1h-1zM327.7 138.0h1v1h-1zM334.5 128.6h1v1h-1zM331.7 126.9h1v1h-1zM326.4 136.0h1v1h-1zM338.0 124.7h1v1h-1zM336.4 138.5h1v1h-1zM331.3 133.0h1v1h-1zM336.5 129.2h1v1h-1zM332.7 127.6h1v1h-1zM332.9 127.9h1v1h-1zM337.4 132.4h1v1h-1zM330.5 135.0h1v1h-1zM333.1 127.0h1v1h-1zM330.7 131.5h1v1h-1zM334.8 129.0h1v1h-1zM334.1 137.5h1v1h-1zM340.2 129.2h1v1h-1zM332.4 153.4h1v1h-1zM331.6 155.1h1v1h-1zM324.8 160.1h1v1h-1zM330.0 146.4h1v1h-1zM333.8 141.0h1v1h-1zM326.4 158.5h1v1h-1zM335.1 142.6h1v1h-1zM327.7 152.2h1v1h-1zM329.1 140.3h1v1h-1zM329.8 145.2h1v1h-1zM328.5 157.7h1v1h-1zM322.6 156.2h1v1h-1zM325.5 150.2h1v1h-1zM332.9 154.6h1v1h-1zM331.3 151.9h1v1h-1zM323.3 151.8h1v1h-1zM329.4 154.4h1v1h-1zM327.3 144.0h1v1h-1zM332.2 142.5h1v1h-1zM324.7 144.2h1v1h-1zM328.0 155.1h1v1h-1zM334.1 123.3h1v1h-1zM335.0 122.6h1v1h-1zM338.7 121.9h1v1h-1zM340.0 120.9h1v1h-1zM339.2 119.9h1v1h-1z" fill="#2a2a2a" fill-opacity="0.36" filter="url(#sb)"/>
<path d="M336.0 123.4h1v1h-1zM330.4 130.0h1v1h-1zM330.9 134.7h1v1h-1zM331.3 138.9h1v1h-1zM331.6 121.3h1v1h-1zM336.4 129.1h1v1h-1zM338.3 134.4h1v1h-1zM334.5 123.7h1v1h-1zM333.4 131.8h1v1h-1zM332.3 124.5h1v1h-1zM330.0 125.7h1v1h-1zM335.7 131.4h1v1h-1zM333.0 124.2h1v1h-1zM330.7 128.0h1v1h-1zM332.2 131.9h1v1h-1zM336.3 137.2h1v1h-1zM330.8 127.1h1v1h-1zM335.6 120.7h1v1h-1zM340.2 122.8h1v1h-1zM331.2 134.6h1v1h-1zM334.2 121.9h1v1h-1zM335.7 138.5h1v1h-1zM332.1 130.9h1v1h-1zM332.5 133.4h1v1h-1zM331.8 136.4h1v1h-1zM333.7 139.7h1v1h-1zM332.8 133.5h1v1h-1zM336.5 132.9h1v1h-1zM328.7 131.9h1v1h-1zM327.4 136.7h1v1h-1zM329.5 139.2h1v1h-1zM334.6 132.1h1v1h-1zM332.4 129.0h1v1h-1zM337.5 123.6h1v1h-1zM331.5 131.9h1v1h-1zM330.1 135.3h1v1h-1zM337.4 123.6h1v1h-1zM330.6 142.0h1v1h-1zM330.0 148.0h1v1h-1zM327.6 146.9h1v1h-1zM332.9 141.6h1v1h-1zM325.3 148.1h1v1h-1zM329.3 157.0h1v1h-1zM321.4 158.6h1v1h-1zM330.9 150.6h1v1h-1zM326.9 156.2h1v1h-1zM328.3 145.8h1v1h-1zM329.1 159.2h1v1h-1zM324.3 153.0h1v1h-1zM329.0 148.2h1v1h-1zM333.8 142.2h1v1h-1zM324.3 158.0h1v1h-1zM328.2 153.8h1v1h-1zM323.0 153.4h1v1h-1zM329.2 141.2h1v1h-1zM327.5 153.8h1v1h-1zM329.7 139.7h1v1h-1zM330.5 143.3h1v1h-1zM324.0 159.5h1v1h-1zM323.3 154.0h1v1h-1zM324.5 157.9h1v1h-1zM326.4 156.4h1v1h-1zM329.3 139.1h1v1h-1zM327.9 152.8h1v1h-1zM332.5 151.0h1v1h-1zM328.6 142.1h1v1h-1zM329.2 150.2h1v1h-1zM322.8 151.9h1v1h-1zM330.0 148.1h1v1h-1zM341.1 124.6h1v1h-1zM333.0 117.2h1v1h-1zM344.5 121.1h1v1h-1zM332.9 119.8h1v1h-1zM335.3 119.6h1v1h-1zM336.6 119.5h1v1h-1z" fill="#2a2a2a" fill-opacity="0.36" filter="url(#sb)"/>
<path d="M335.6 128.8h1v1h-1zM335.7 126.6h1v1h-1zM333.7 133.5h1v1h-1zM338.8 125.5h1v1h-1zM329.2 120.2h1v1h-1zM334.3 125.6h1v1h-1zM331.4 125.8h1v1h-1zM330.1 126.0h1v1h-1zM332.0 132.7h1v1h-1zM330.1 129.7h1v1h-1zM334.0 129.4h1v1h-1zM334.0 133.0h1v1h-1zM334.9 123.8h1v1h-1zM337.9 127.7h1v1h-1zM335.6 140.2h1v1h-1zM334.4 139.4h1v1h-1zM335.6 130.5h1v1h-1zM333.5 135.7h1v1h-1zM335.9 134.2h1v1h-1zM339.1 131.4h1v1h-1zM337.2 130.5h1v1h-1zM334.8 138.2h1v1h-1zM336.0 131.3h1v1h-1zM332.6 155.0h1v1h-1zM336.7 146.3h1v1h-1zM332.8 145.6h1v1h-1zM330.3 142.3h1v1h-1zM330.6 158.4h1v1h-1zM328.2 157.3h1v1h-1zM327.4 142.8h1v1h-1zM327.3 161.1h1v1h-1zM337.2 151.8h1v1h-1zM324.3 143.4h1v1h-1zM327.0 138.8h1v1h-1zM330.5 143.5h1v1h-1zM334.0 153.1h1v1h-1zM328.7 147.9h1v1h-1zM325.4 150.2h1v1h-1zM328.9 139.6h1v1h-1zM327.6 148.9h1v1h-1zM336.4 144.0h1v1h-1zM327.2 155.3h1v1h-1zM328.6 155.8h1v1h-1zM326.1 145.8h1v1h-1zM327.6 143.8h1v1h-1zM324.1 146.2h1v1h-1zM331.9 141.8h1v1h-1zM327.1 160.4h1v1h-1zM334.6 147.2h1v1h-1zM331.8 147.5h1v1h-1zM324.4 158.2h1v1h-1zM325.9 142.4h1v1h-1zM330.2 141.9h1v1h-1zM326.9 151.3h1v1h-1zM331.5 146.1h1v1h-1zM333.7 123.9h1v1h-1zM331.9 119.2h1v1h-1zM338.2 119.7h1v1h-1zM335.1 118.9h1v1h-1zM333.3 121.3h1v1h-1z" fill="#2a2a2a" fill-opacity="0.36" filter="url(#sb)"/>
<path d="M330.2 136.8h1v1h-1zM332.3 131.2h1v1h-1zM329.6 123.9h1v1h-1zM333.4 129.6h1v1h-1zM330.7 132.6h1v1h-1zM333.8 138.1h1v1h-1zM335.8 128.0h1v1h-1zM330.6 135.8h1v1h-1zM334.8 138.3h1v1h-1zM336.7 130.4h1v1h-1zM331.0 130.3h1v1h-1zM330.2 133.7h1v1h-1zM334.4 128.9h1v1h-1zM329.7 131.5h1v1h-1zM338.3 122.0h1v1h-1zM332.0 121.2h1v1h-1zM332.2 136.5h1v1h-1zM333.9 131.3h1v1h-1zM333.1 121.9h1v1h-1zM340.4 124.7h1v1h-1zM337.3 124.5h1v1h-1zM330.2 124.7h1v1h-1zM334.8 123.1h1v1h-1zM336.3 124.9h1v1h-1zM334.0 142.5h1v1h-1zM325.1 155.3h1v1h-1zM326.7 146.8h1v1h-1zM336.1 153.3h1v1h-1zM330.5 155.0h1v1h-1zM326.4 154.2h1v1h-1zM333.8 142.8h1v1h-1zM331.6 146.4h1v1h-1zM330.2 156.3h1v1h-1zM329.3 140.7h1v1h-1zM334.6 144.5h1v1h-1zM326.5 147.2h1v1h-1zM323.1 158.6h1v1h-1zM322.6 158.3h1v1h-1zM321.1 153.8h1v1h-1zM327.0 146.9h1v1h-1zM332.6 143.5h1v1h-1zM318.3 156.1h1v1h-1zM332.4 148.1h1v1h-1zM325.3 160.8h1v1h-1zM331.5 151.7h1v1h-1zM330.6 143.9h1v1h-1zM330.5 145.7h1v1h-1zM329.6 150.4h1v1h-1zM331.7 156.9h1v1h-1zM326.4 142.4h1v1h-1zM328.5 141.0h1v1h-1zM326.7 158.8h1v1h-1zM333.1 157.5h1v1h-1zM326.0 148.4h1v1h-1zM335.7 149.7h1v1h-1zM331.0 155.0h1v1h-1zM325.8 146.4h1v1h-1zM332.3 149.1h1v1h-1zM338.0 121.0h1v1h-1zM334.1 124.6h1v1h-1zM335.0 124.7h1v1h-1zM336.3 121.2h1v1h-1zM335.7 115.5h1v1h-1zM333.8 120.6h1v1h-1zM337.9 123.1h1v1h-1zM336.0 118.6h1v1h-1z" fill="#2a2a2a" fill-opacity="0.36" filter="url(#sb)"/>
<path d="M331.8 122.3h1v1h-1zM328.6 132.7h1v1h-1zM332.3 132.8h1v1h-1zM335.9 124.4h1v1h-1zM332.0 129.9h1v1h-1zM334.8 122.0h1v1h-1zM329.3 138.4h1v1h-1zM335.6 134.3h1v1h-1zM330.2 137.1h1v1h-1zM332.9 122.1h1v1h-1zM339.2 124.0h1v1h-1zM337.3 127.9h1v1h-1zM333.6 140.3h1v1h-1zM336.7 123.4h1v1h-1zM331.6 127.1h1v1h-1zM338.2 129.9h1v1h-1zM336.2 138.5h1v1h-1zM331.3 122.3h1v1h-1zM336.5 133.9h1v1h-1zM328.5 150.3h1v1h-1zM331.5 141.7h1v1h-1zM334.1 153.0h1v1h-1zM334.3 142.9h1v1h-1zM328.0 140.7h1v1h-1zM330.3 154.1h1v1h-1zM329.6 148.5h1v1h-1zM324.8 143.0h1v1h-1zM334.2 156.1h1v1h-1zM332.9 149.2h1v1h-1zM322.6 159.5h1v1h-1zM331.1 145.4h1v1h-1zM326.4 152.4h1v1h-1zM332.3 142.3h1v1h-1zM327.4 153.5h1v1h-1zM322.8 153.6h1v1h-1zM331.2 154.3h1v1h-1zM329.9 157.3h1v1h-1zM334.7 150.4h1v1h-1zM331.2 159.0h1v1h-1zM332.6 145.0h1v1h-1zM331.7 147.0h1v1h-1zM325.5 153.8h1v1h-1zM329.7 157.2h1v1h-1zM326.1 157.9h1v1h-1zM326.4 149.8h1v1h-1zM330.8 145.8h1v1h-1zM329.8 151.0h1v1h-1zM334.4 153.6h1v1h-1zM327.8 118.3h1v1h-1zM338.0 122.0h1v1h-1zM336.7 123.3h1v1h-1zM333.5 122.1h1v1h-1zM336.0 125.4h1v1h-1zM336.6 121.6h1v1h-1z" fill="#2a2a2a" fill-opacity="0.36" filter="url(#sb)"/>
<path d="M332.4 123.4h1v1h-1zM321.6 132.4h1v1h-1zM322.4 135.3h1v1h-1zM320.3 123.1h1v1h-1zM328.2 133.5h1v1h-1zM320.9 129.4h1v1h-1zM321.2 134.8h1v1h-1zM325.0 138.6h1v1h-1z" fill="#2a2a2a" fill-opacity="0.22" filter="url(#sb)"/>
<path d="M326.5 137.0h1v1h-1zM320.5 138.0h1v1h-1zM323.0 147.3h1v1h-1zM321.6 145.0h1v1h-1zM320.6 129.8h1v1h-1zM322.0 127.2h1v1h-1zM320.3 129.0h1v1h-1z" fill="#2a2a2a" fill-opacity="0.22" filter="url(#sb)"/>
<path d="M322.3 125.5h1v1h-1zM324.8 130.5h1v1h-1zM325.1 132.6h1v1h-1zM324.9 137.7h1v1h-1zM327.5 124.9h1v1h-1zM322.5 131.9h1v1h-1zM312.7 133.3h1v1h-1zM310.6 132.5h1v1h-1z" fill="#2a2a2a" fill-opacity="0.22" filter="url(#sb)"/>
<path d="M326.4 122.2h1v1h-1zM323.8 135.9h1v1h-1zM317.5 135.0h1v1h-1z" fill="#2a2a2a" fill-opacity="0.22" filter="url(#sb)"/>
<path d="M316.4 121.9h1v1h-1zM318.3 123.7h1v1h-1zM314.5 130.8h1v1h-1zM326.2 124.1h1v1h-1zM325.6 131.4h1v1h-1z" fill="#2a2a2a" fill-opacity="0.22" filter="url(#sb)"/>
<path d="M317.9 143.0h1v1h-1zM317.9 145.4h1v1h-1zM330.0 124.9h1v1h-1zM324.0 130.0h1v1h-1z" fill="#2a2a2a" fill-opacity="0.22" filter="url(#sb)"/>
<path d="M326.6 130.4h1v1h-1zM318.7 136.3h1v1h-1zM321.9 138.9h1v1h-1zM325.8 130.1h1v1h-1z" fill="#2a2a2a" fill-opacity="0.22" filter="url(#sb)"/>
<path d="M325.9 131.5h1v1h-1zM316.8 124.1h1v1h-1zM330.0 118.8h1v1h-1zM325.1 127.5h1v1h-1z" fill="#2a2a2a" fill-opacity="0.22" filter="url(#sb)"/>
<path d="M316.6 124.6h1v1h-1zM327.6 122.5h1v1h-1zM322.4 130.1h1v1h-1zM320.2 128.4h1v1h-1zM323.8 142.4h1v1h-1zM320.3 139.4h1v1h-1zM317.2 135.2h1v1h-1z" fill="#2a2a2a" fill-opacity="0.22" filter="url(#sb)"/>
<path d="M325.2 135.4h1v1h-1zM329.2 118.0h1v1h-1zM319.4 127.3h1v1h-1zM316.4 135.6h1v1h-1z" fill="#2a2a2a" fill-opacity="0.22" filter="url(#sb)"/>
<path d="M325.7 135.5h1v1h-1zM318.1 149.5h1v1h-1zM321.8 135.2h1v1h-1zM323.3 138.6h1v1h-1zM321.7 143.8h1v1h-1zM320.7 126.1h1v1h-1zM319.4 137.8h1v1h-1zM324.5 121.9h1v1h-1zM325.8 146.2h1v1h-1z" fill="#2a2a2a" fill-opacity="0.22" filter="url(#sb)"/>
<path d="M328.9 136.1h1v1h-1zM325.7 128.8h1v1h-1zM325.8 120.5h1v1h-1zM325.6 138.9h1v1h-1zM314.5 137.9h1v1h-1z" fill="#2a2a2a" fill-opacity="0.22" filter="url(#sb)"/>
<path d="M323.6 123.1h1v1h-1zM321.7 141.1h1v1h-1zM322.6 138.2h1v1h-1zM329.2 106.9h1v1h-1z" fill="#2a2a2a" fill-opacity="0.22" filter="url(#sb)"/>
<path d="M315.1 137.8h1v1h-1zM327.6 125.7h1v1h-1zM319.9 133.2h1v1h-1z" fill="#2a2a2a" fill-opacity="0.22" filter="url(#sb)"/>
<path d="M332.8 144.9h1v1h-1z" fill="#2a2a2a" fill-opacity="0.2" filter="url(#sb)"/>
<path d="M341.5 121.5h1v1h-1zM333.5 133.2h1v1h-1zM336.0 121.6h1v1h-1z" fill="#2a2a2a" fill-opacity="0.2" filter="url(#sb)"/>
<path d="M324.5 134.8h1v1h-1zM346.1 144.1h1v1h-1zM321.6 125.3h1v1h-1zM332.8 137.0h1v1h-1z" fill="#2a2a2a" fill-opacity="0.2" filter="url(#sb)"/>
<path d="M343.8 142.1h1v1h-1zM334.4 142.1h1v1h-1zM341.7 143.4h1v1h-1zM331.8 161.9h1v1h-1zM333.3 131.4h1v1h-1zM317.6 115.3h1v1h-1z" fill="#2a2a2a" fill-opacity="0.2" filter="url(#sb)"/>
<path d="M317.3 146.6h1v1h-1zM320.2 141.1h1v1h-1zM330.8 163.2h1v1h-1zM343.1 129.7h1v1h-1z" fill="#2a2a2a" fill-opacity="0.2" filter="url(#sb)"/>
<path d="M329.7 156.9h1v1h-1zM345.7 148.9h1v1h-1zM350.8 136.2h1v1h-1z" fill="#2a2a2a" fill-opacity="0.2" filter="url(#sb)"/>
<path d="M320.1 131.2h1v1h-1zM338.6 148.2h1v1h-1zM356.2 140.5h1v1h-1z" fill="#2a2a2a" fill-opacity="0.2" filter="url(#sb)"/>
<path d="M311.5 153.5h1v1h-1zM346.2 137.2h1v1h-1zM328.0 149.4h1v1h-1zM311.5 140.2h1v1h-1z" fill="#2a2a2a" fill-opacity="0.2" filter="url(#sb)"/>
<path d="M354.7 152.9h1v1h-1zM348.9 134.2h1v1h-1z" fill="#2a2a2a" fill-opacity="0.2" filter="url(#sb)"/>
<path d="M307.3 155.5h1v1h-1zM308.6 130.2h1v1h-1zM340.1 117.4h1v1h-1z" fill="#2a2a2a" fill-opacity="0.2" filter="url(#sb)"/>
<path d="M323.7 128.7h1v1h-1z" fill="#2a2a2a" fill-opacity="0.2" filter="url(#sb)"/>
<path d="M334.6 143.8h1v1h-1zM328.6 137.6h1v1h-1zM311.9 146.7h1v1h-1zM352.1 143.3h1v1h-1zM317.3 130.0h1v1h-1z" fill="#2a2a2a" fill-opacity="0.2" filter="url(#sb)"/>
<path d="M330.3 113.9h1v1h-1zM336.9 140.5h1v1h-1z" fill="#2a2a2a" fill-opacity="0.2" filter="url(#sb)"/>
<path d="M338.9 127.1h1v1h-1zM341.2 141.4h1v1h-1zM366.4 136.3h1v1h-1zM326.7 135.8h1v1h-1zM358.3 138.0h1v1h-1z" fill="#2a2a2a" fill-opacity="0.2" filter="url(#sb)"/>
<line x1="329.50" y1="96.20" x2="329.50" y2="165.60" stroke="#666" stroke-width="0.9"/>
<line x1="300.60" y1="139.60" x2="371.60" y2="139.60" stroke="#666" stroke-width="0.9"/>
<text x="305.30" y="108.20" font-size="8.6" text-anchor="start" font-weight="normal" fill="#111" stroke="#111" stroke-width="0.22" >1.7</text>
<text x="369.20" y="108.20" font-size="8.6" text-anchor="end" font-weight="normal" fill="#111" stroke="#111" stroke-width="0.22" >52.3</text>
<text x="369.20" y="161.80" font-size="8.6" text-anchor="end" font-weight="normal" fill="#111" stroke="#111" stroke-width="0.22" >35.7</text>
<path d="M300.60 165.60h-1.6M300.60 165.60v1.6M300.60 160.38h-0.9M305.94 165.60v0.9M300.60 157.32h-0.9M309.07 165.60v0.9M300.60 155.15h-0.9M311.29 165.60v0.9M300.60 153.47h-0.9M313.01 165.60v0.9M300.60 152.10h-0.9M314.41 165.60v0.9M300.60 150.94h-0.9M315.60 165.60v0.9M300.60 149.93h-0.9M316.63 165.60v0.9M300.60 149.04h-0.9M317.54 165.60v0.9M300.60 148.25h-1.6M318.35 165.60v1.6M300.60 143.03h-0.9M323.69 165.60v0.9M300.60 139.97h-0.9M326.82 165.60v0.9M300.60 137.80h-0.9M329.04 165.60v0.9M300.60 136.12h-0.9M330.76 165.60v0.9M300.60 134.75h-0.9M332.16 165.60v0.9M300.60 133.59h-0.9M333.35 165.60v0.9M300.60 132.58h-0.9M334.38 165.60v0.9M300.60 131.69h-0.9M335.29 165.60v0.9M300.60 130.90h-1.6M336.10 165.60v1.6M300.60 125.68h-0.9M341.44 165.60v0.9M300.60 122.62h-0.9M344.57 165.60v0.9M300.60 120.45h-0.9M346.79 165.60v0.9M300.60 118.77h-0.9M348.51 165.60v0.9M300.60 117.40h-0.9M349.91 165.60v0.9M300.60 116.24h-0.9M351.10 165.60v0.9M300.60 115.23h-0.9M352.13 165.60v0.9M300.60 114.34h-0.9M353.04 165.60v0.9M300.60 113.55h-1.6M353.85 165.60v1.6M300.60 108.33h-0.9M359.19 165.60v0.9M300.60 105.27h-0.9M362.32 165.60v0.9M300.60 103.10h-0.9M364.54 165.60v0.9M300.60 101.42h-0.9M366.26 165.60v0.9M300.60 100.05h-0.9M367.66 165.60v0.9M300.60 98.89h-0.9M368.85 165.60v0.9M300.60 97.88h-0.9M369.88 165.60v0.9M300.60 96.99h-0.9M370.79 165.60v0.9M300.60 96.20h-1.6M371.60 165.60v1.6" stroke="#999" stroke-width="0.6" fill="none"/>
<text x="298.40" y="167.00" font-size="3.8" text-anchor="end" font-weight="normal" fill="#707070" stroke="#707070" stroke-width="0.22" >10<tspan font-size="2.6" dy="-1.5">0</tspan></text>
<text x="300.60" y="171.20" font-size="3.8" text-anchor="middle" font-weight="normal" fill="#707070" stroke="#707070" stroke-width="0.22" >10<tspan font-size="2.6" dy="-1.5">0</tspan></text>
<text x="298.40" y="149.65" font-size="3.8" text-anchor="end" font-weight="normal" fill="#707070" stroke="#707070" stroke-width="0.22" >10<tspan font-size="2.6" dy="-1.5">1</tspan></text>
<text x="318.35" y="171.20" font-size="3.8" text-anchor="middle" font-weight="normal" fill="#707070" stroke="#707070" stroke-width="0.22" >10<tspan font-size="2.6" dy="-1.5">1</tspan></text>
<text x="298.40" y="132.30" font-size="3.8" text-anchor="end" font-weight="normal" fill="#707070" stroke="#707070" stroke-width="0.22" >10<tspan font-size="2.6" dy="-1.5">2</tspan></text>
<text x="336.10" y="171.20" font-size="3.8" text-anchor="middle" font-weight="normal" fill="#707070" stroke="#707070" stroke-width="0.22" >10<tspan font-size="2.6" dy="-1.5">2</tspan></text>
<text x="298.40" y="114.95" font-size="3.8" text-anchor="end" font-weight="normal" fill="#707070" stroke="#707070" stroke-width="0.22" >10<tspan font-size="2.6" dy="-1.5">3</tspan></text>
<text x="353.85" y="171.20" font-size="3.8" text-anchor="middle" font-weight="normal" fill="#707070" stroke="#707070" stroke-width="0.22" >10<tspan font-size="2.6" dy="-1.5">3</tspan></text>
<text x="298.40" y="97.60" font-size="3.8" text-anchor="end" font-weight="normal" fill="#707070" stroke="#707070" stroke-width="0.22" >10<tspan font-size="2.6" dy="-1.5">4</tspan></text>
<text x="371.60" y="171.20" font-size="3.8" text-anchor="middle" font-weight="normal" fill="#707070" stroke="#707070" stroke-width="0.22" >10<tspan font-size="2.6" dy="-1.5">4</tspan></text>
<rect x="390.6" y="96.2" width="71.0" height="69.39999999999999" fill="#f5f5f5" stroke="#888" stroke-width="0.9"/>
<path d="M403.4 147.6h1v1h-1zM401.6 146.1h1v1h-1zM404.1 153.6h1v1h-1zM404.9 150.6h1v1h-1zM404.1 157.2h1v1h-1zM401.7 153.6h1v1h-1zM395.1 154.4h1v1h-1zM405.6 148.4h1v1h-1zM409.1 147.8h1v1h-1zM397.8 149.6h1v1h-1zM404.2 158.1h1v1h-1zM396.9 151.1h1v1h-1zM403.5 148.4h1v1h-1zM401.7 149.1h1v1h-1zM399.1 157.4h1v1h-1zM395.5 157.1h1v1h-1zM394.4 149.3h1v1h-1zM397.6 150.8h1v1h-1zM406.9 158.4h1v1h-1zM401.3 142.4h1v1h-1zM408.2 150.1h1v1h-1zM393.0 148.4h1v1h-1zM396.1 160.8h1v1h-1zM404.7 157.6h1v1h-1zM398.7 150.4h1v1h-1zM403.9 151.6h1v1h-1zM401.4 150.7h1v1h-1zM398.6 159.8h1v1h-1zM402.5 155.3h1v1h-1zM399.0 156.7h1v1h-1zM404.4 153.9h1v1h-1zM393.4 155.9h1v1h-1zM401.6 154.6h1v1h-1zM394.7 151.4h1v1h-1zM394.7 154.3h1v1h-1zM397.1 146.1h1v1h-1zM407.7 153.4h1v1h-1zM402.7 148.7h1v1h-1zM426.0 134.0h1v1h-1zM419.5 128.6h1v1h-1zM430.6 134.6h1v1h-1zM430.6 119.7h1v1h-1zM422.4 123.7h1v1h-1zM419.9 131.5h1v1h-1zM435.7 138.4h1v1h-1zM428.6 122.2h1v1h-1zM410.8 128.8h1v1h-1zM428.3 130.6h1v1h-1zM433.1 131.0h1v1h-1zM428.8 125.9h1v1h-1zM431.6 137.4h1v1h-1zM429.3 135.7h1v1h-1zM414.6 133.6h1v1h-1zM432.2 126.1h1v1h-1zM422.7 128.0h1v1h-1zM420.3 135.8h1v1h-1zM425.1 131.9h1v1h-1zM434.7 135.8h1v1h-1z" fill="#2a2a2a" fill-opacity="0.36" filter="url(#sb)"/>
<path d="M400.9 154.1h1v1h-1zM399.9 154.5h1v1h-1zM396.5 154.0h1v1h-1zM395.9 148.2h1v1h-1zM407.7 150.2h1v1h-1zM405.9 148.0h1v1h-1zM403.9 145.4h1v1h-1zM407.0 151.1h1v1h-1zM401.8 145.9h1v1h-1zM405.4 149.1h1v1h-1zM406.5 148.8h1v1h-1zM404.4 151.9h1v1h-1zM396.3 145.9h1v1h-1zM403.1 159.5h1v1h-1zM402.2 147.9h1v1h-1zM406.2 147.1h1v1h-1zM400.5 151.4h1v1h-1zM393.4 158.0h1v1h-1zM413.2 146.8h1v1h-1zM397.4 149.3h1v1h-1zM404.6 153.6h1v1h-1zM406.7 154.3h1v1h-1zM404.1 149.1h1v1h-1zM397.6 159.3h1v1h-1zM395.8 152.4h1v1h-1zM393.7 154.6h1v1h-1zM396.1 152.3h1v1h-1zM398.1 155.7h1v1h-1zM404.0 149.3h1v1h-1zM406.9 151.6h1v1h-1zM404.2 156.9h1v1h-1zM403.2 157.6h1v1h-1zM399.9 158.5h1v1h-1zM394.6 152.0h1v1h-1zM400.4 149.5h1v1h-1zM401.0 154.7h1v1h-1zM394.6 151.3h1v1h-1zM411.0 147.8h1v1h-1zM397.1 149.2h1v1h-1zM409.7 154.7h1v1h-1zM426.8 132.6h1v1h-1zM426.5 140.0h1v1h-1zM419.3 137.3h1v1h-1zM429.4 124.1h1v1h-1zM421.8 130.7h1v1h-1zM415.1 129.2h1v1h-1zM418.3 136.0h1v1h-1zM419.9 132.2h1v1h-1zM433.3 139.7h1v1h-1zM419.4 136.9h1v1h-1zM420.7 131.0h1v1h-1zM421.3 125.8h1v1h-1zM415.3 139.9h1v1h-1zM432.7 134.9h1v1h-1zM425.8 133.0h1v1h-1zM424.8 135.5h1v1h-1z" fill="#2a2a2a" fill-opacity="0.36" filter="url(#sb)"/>
<path d="M396.8 147.4h1v1h-1zM407.7 147.4h1v1h-1zM413.3 149.6h1v1h-1zM405.3 143.9h1v1h-1zM407.0 148.8h1v1h-1zM402.1 146.6h1v1h-1zM402.7 158.8h1v1h-1zM397.1 156.0h1v1h-1zM406.9 150.2h1v1h-1zM407.0 148.7h1v1h-1zM394.6 147.9h1v1h-1zM395.6 159.5h1v1h-1zM401.5 150.2h1v1h-1zM401.1 153.4h1v1h-1zM393.6 147.2h1v1h-1zM401.7 149.7h1v1h-1zM403.5 148.5h1v1h-1zM399.7 144.2h1v1h-1zM402.6 146.6h1v1h-1zM408.0 152.2h1v1h-1zM399.3 161.0h1v1h-1zM394.7 152.3h1v1h-1zM402.0 150.0h1v1h-1zM394.3 149.4h1v1h-1zM403.9 155.1h1v1h-1zM404.5 160.9h1v1h-1zM397.3 150.4h1v1h-1zM400.6 153.7h1v1h-1zM406.1 154.5h1v1h-1zM399.7 153.7h1v1h-1zM402.5 147.3h1v1h-1zM405.2 158.5h1v1h-1zM406.6 152.8h1v1h-1zM403.8 148.8h1v1h-1zM399.2 158.9h1v1h-1zM396.8 152.0h1v1h-1zM403.8 153.3h1v1h-1zM395.5 151.4h1v1h-1zM398.0 161.4h1v1h-1zM436.0 135.2h1v1h-1zM436.6 136.4h1v1h-1zM416.6 130.0h1v1h-1zM424.3 132.3h1v1h-1zM429.5 134.9h1v1h-1zM434.1 131.3h1v1h-1zM416.7 127.0h1v1h-1zM413.4 135.0h1v1h-1zM418.0 133.7h1v1h-1zM416.8 135.2h1v1h-1zM432.1 131.0h1v1h-1zM425.7 139.7h1v1h-1zM429.3 136.7h1v1h-1zM418.7 131.5h1v1h-1zM422.0 137.1h1v1h-1zM431.1 139.5h1v1h-1zM431.4 129.6h1v1h-1zM422.6 131.2h1v1h-1zM426.7 124.9h1v1h-1zM428.3 139.2h1v1h-1zM437.2 131.9h1v1h-1zM436.9 128.1h1v1h-1zM426.9 131.5h1v1h-1zM418.1 136.1h1v1h-1zM424.6 121.2h1v1h-1z" fill="#2a2a2a" fill-opacity="0.36" filter="url(#sb)"/>
<path d="M392.0 158.0h1v1h-1zM401.6 153.8h1v1h-1zM399.8 151.4h1v1h-1zM405.1 143.5h1v1h-1zM395.4 154.9h1v1h-1zM400.4 149.2h1v1h-1zM411.8 152.1h1v1h-1zM410.6 152.0h1v1h-1zM402.9 144.0h1v1h-1zM405.3 155.3h1v1h-1zM400.4 159.1h1v1h-1zM410.3 148.9h1v1h-1zM412.6 154.2h1v1h-1zM405.8 156.3h1v1h-1zM395.7 149.9h1v1h-1zM402.1 145.8h1v1h-1zM394.3 153.3h1v1h-1zM402.0 148.1h1v1h-1zM399.5 152.4h1v1h-1zM397.2 153.1h1v1h-1zM395.9 149.9h1v1h-1zM406.6 160.1h1v1h-1zM405.3 153.9h1v1h-1zM402.6 155.0h1v1h-1zM408.7 145.3h1v1h-1zM402.7 151.6h1v1h-1zM401.0 148.0h1v1h-1zM408.1 150.6h1v1h-1zM395.7 150.5h1v1h-1zM400.9 149.1h1v1h-1zM397.3 140.9h1v1h-1zM394.0 155.9h1v1h-1zM403.3 151.4h1v1h-1zM405.5 151.0h1v1h-1zM404.9 150.5h1v1h-1zM397.2 156.6h1v1h-1zM398.2 150.4h1v1h-1zM409.4 158.2h1v1h-1zM400.6 152.3h1v1h-1zM404.1 151.1h1v1h-1zM400.9 149.0h1v1h-1zM394.8 151.7h1v1h-1zM403.7 150.5h1v1h-1zM393.5 153.5h1v1h-1zM401.4 153.8h1v1h-1zM429.7 133.5h1v1h-1zM422.5 129.8h1v1h-1zM418.3 125.7h1v1h-1zM420.6 139.0h1v1h-1zM420.1 122.0h1v1h-1zM419.8 133.3h1v1h-1zM435.3 129.1h1v1h-1zM417.5 135.6h1v1h-1zM431.7 123.1h1v1h-1zM420.4 139.8h1v1h-1zM418.6 134.0h1v1h-1zM427.7 138.9h1v1h-1zM437.2 130.4h1v1h-1zM425.4 137.8h1v1h-1zM427.8 123.0h1v1h-1zM430.9 133.4h1v1h-1zM425.8 136.1h1v1h-1zM424.1 129.9h1v1h-1z" fill="#2a2a2a" fill-opacity="0.36" filter="url(#sb)"/>
<path d="M407.3 149.2h1v1h-1zM405.1 146.6h1v1h-1zM409.5 158.0h1v1h-1zM405.3 151.0h1v1h-1zM397.6 154.5h1v1h-1zM403.3 153.2h1v1h-1zM403.4 158.5h1v1h-1zM404.3 156.7h1v1h-1zM400.7 158.0h1v1h-1zM397.5 145.6h1v1h-1zM394.3 154.3h1v1h-1zM397.4 158.1h1v1h-1zM405.9 152.6h1v1h-1zM405.7 153.5h1v1h-1zM405.9 155.3h1v1h-1zM401.0 149.5h1v1h-1zM404.7 159.8h1v1h-1zM405.7 158.0h1v1h-1zM408.1 159.0h1v1h-1zM405.4 145.3h1v1h-1zM396.3 160.1h1v1h-1zM399.4 151.9h1v1h-1zM398.6 146.8h1v1h-1zM398.3 148.2h1v1h-1zM398.6 150.0h1v1h-1zM405.1 151.7h1v1h-1zM398.8 154.1h1v1h-1zM403.7 152.2h1v1h-1zM395.7 153.3h1v1h-1zM396.5 142.7h1v1h-1zM401.9 143.3h1v1h-1zM400.2 153.1h1v1h-1zM399.4 152.0h1v1h-1zM400.3 154.0h1v1h-1zM401.3 149.5h1v1h-1zM427.5 130.5h1v1h-1zM423.7 131.7h1v1h-1zM414.2 127.8h1v1h-1zM421.7 135.1h1v1h-1zM435.6 136.0h1v1h-1zM426.1 133.2h1v1h-1zM424.6 131.3h1v1h-1zM426.1 138.5h1v1h-1zM420.6 141.2h1v1h-1zM424.5 141.3h1v1h-1zM422.5 131.6h1v1h-1zM426.8 135.4h1v1h-1zM417.5 126.9h1v1h-1zM423.2 139.0h1v1h-1zM436.2 126.5h1v1h-1zM428.5 121.4h1v1h-1zM426.3 128.4h1v1h-1zM427.6 141.4h1v1h-1zM423.3 130.7h1v1h-1zM428.8 122.9h1v1h-1zM421.2 140.0h1v1h-1zM425.8 135.6h1v1h-1zM428.4 127.6h1v1h-1z" fill="#2a2a2a" fill-opacity="0.36" filter="url(#sb)"/>
<path d="M396.9 148.6h1v1h-1zM395.0 147.7h1v1h-1zM393.8 146.9h1v1h-1zM408.3 149.2h1v1h-1zM405.4 155.7h1v1h-1zM400.4 147.9h1v1h-1zM396.4 156.1h1v1h-1zM409.6 152.1h1v1h-1zM400.2 160.1h1v1h-1zM408.3 160.8h1v1h-1zM397.8 150.6h1v1h-1zM396.0 152.8h1v1h-1zM405.0 146.9h1v1h-1zM409.3 151.1h1v1h-1zM411.7 148.7h1v1h-1zM402.8 159.1h1v1h-1zM400.8 154.4h1v1h-1zM404.2 158.9h1v1h-1zM402.1 149.7h1v1h-1zM402.5 153.0h1v1h-1zM399.3 155.7h1v1h-1zM392.7 155.5h1v1h-1zM403.0 152.7h1v1h-1zM399.8 158.5h1v1h-1zM394.1 155.8h1v1h-1zM399.5 157.2h1v1h-1zM400.1 144.9h1v1h-1zM409.4 146.4h1v1h-1zM400.2 151.5h1v1h-1zM404.2 156.7h1v1h-1zM399.8 154.7h1v1h-1zM404.2 151.8h1v1h-1zM405.2 150.0h1v1h-1zM405.5 145.6h1v1h-1zM407.8 147.2h1v1h-1zM401.1 155.6h1v1h-1zM398.8 143.2h1v1h-1zM399.9 152.2h1v1h-1zM399.9 155.1h1v1h-1zM416.8 124.4h1v1h-1zM419.4 138.4h1v1h-1zM421.9 141.0h1v1h-1zM427.2 132.3h1v1h-1zM423.5 129.6h1v1h-1zM417.7 132.9h1v1h-1zM424.3 132.9h1v1h-1zM418.0 128.4h1v1h-1zM430.1 137.0h1v1h-1zM430.3 129.2h1v1h-1zM423.0 125.9h1v1h-1zM417.6 130.5h1v1h-1zM431.8 129.3h1v1h-1zM424.0 122.1h1v1h-1zM415.2 126.6h1v1h-1zM415.5 132.6h1v1h-1zM423.3 133.4h1v1h-1zM420.8 125.8h1v1h-1zM423.2 139.3h1v1h-1zM418.7 130.0h1v1h-1z" fill="#2a2a2a" fill-opacity="0.36" filter="url(#sb)"/>
<path d="M401.3 151.9h1v1h-1zM402.4 154.3h1v1h-1zM408.5 152.0h1v1h-1zM403.6 142.2h1v1h-1zM392.5 149.0h1v1h-1zM404.5 158.2h1v1h-1zM406.8 155.5h1v1h-1zM404.6 156.1h1v1h-1zM407.0 144.6h1v1h-1zM406.2 145.6h1v1h-1zM405.7 157.3h1v1h-1zM403.9 151.6h1v1h-1zM399.9 147.8h1v1h-1zM400.0 147.6h1v1h-1zM403.0 150.1h1v1h-1zM405.3 149.6h1v1h-1zM395.8 148.2h1v1h-1zM409.7 152.7h1v1h-1zM394.8 152.0h1v1h-1zM403.7 149.2h1v1h-1zM395.5 156.2h1v1h-1zM406.8 148.6h1v1h-1zM395.3 145.1h1v1h-1zM397.8 155.4h1v1h-1zM395.2 152.2h1v1h-1zM407.0 143.3h1v1h-1zM405.9 144.7h1v1h-1zM405.1 152.9h1v1h-1zM408.1 149.5h1v1h-1zM394.9 152.5h1v1h-1zM404.0 160.7h1v1h-1zM398.0 148.6h1v1h-1zM399.7 149.6h1v1h-1zM396.2 144.7h1v1h-1zM402.0 147.7h1v1h-1zM407.5 161.1h1v1h-1zM395.3 146.1h1v1h-1zM392.1 150.2h1v1h-1zM401.6 160.2h1v1h-1zM400.7 157.2h1v1h-1zM411.8 157.7h1v1h-1zM406.2 153.7h1v1h-1zM429.6 131.1h1v1h-1zM428.2 138.8h1v1h-1zM424.9 128.7h1v1h-1zM417.3 130.2h1v1h-1zM428.4 127.3h1v1h-1zM415.0 131.3h1v1h-1zM419.1 134.9h1v1h-1zM422.9 125.8h1v1h-1zM424.6 135.6h1v1h-1zM420.7 127.8h1v1h-1zM428.2 137.1h1v1h-1zM435.7 123.9h1v1h-1zM416.5 136.7h1v1h-1z" fill="#2a2a2a" fill-opacity="0.36" filter="url(#sb)"/>
<path d="M395.2 152.4h1v1h-1zM403.3 147.8h1v1h-1zM402.3 160.2h1v1h-1zM392.4 152.8h1v1h-1zM393.3 147.6h1v1h-1zM402.7 146.7h1v1h-1zM391.9 147.2h1v1h-1zM410.1 150.9h1v1h-1zM406.9 154.4h1v1h-1zM404.6 150.2h1v1h-1zM401.3 145.8h1v1h-1zM398.0 144.5h1v1h-1zM405.9 161.9h1v1h-1zM402.1 147.1h1v1h-1zM409.3 157.4h1v1h-1zM401.3 154.3h1v1h-1zM410.1 156.4h1v1h-1zM395.7 142.0h1v1h-1zM408.0 154.0h1v1h-1zM394.8 149.2h1v1h-1zM405.1 156.5h1v1h-1zM399.8 158.9h1v1h-1zM401.9 153.4h1v1h-1zM403.9 154.2h1v1h-1zM399.3 159.5h1v1h-1zM405.9 160.2h1v1h-1zM410.4 154.3h1v1h-1zM406.8 163.0h1v1h-1zM396.3 160.3h1v1h-1zM397.1 150.7h1v1h-1zM400.3 152.9h1v1h-1zM400.7 158.5h1v1h-1zM397.8 152.3h1v1h-1zM400.5 148.0h1v1h-1zM401.0 154.2h1v1h-1zM410.2 128.5h1v1h-1zM420.1 125.1h1v1h-1zM424.4 129.1h1v1h-1zM418.9 127.1h1v1h-1zM417.5 126.0h1v1h-1zM423.0 141.4h1v1h-1zM433.1 132.1h1v1h-1zM428.5 126.3h1v1h-1zM425.8 132.1h1v1h-1zM425.6 135.2h1v1h-1zM417.8 138.2h1v1h-1zM420.9 134.1h1v1h-1zM418.5 128.6h1v1h-1zM429.5 132.7h1v1h-1zM426.2 136.6h1v1h-1zM428.7 135.2h1v1h-1zM421.6 127.3h1v1h-1zM420.4 134.8h1v1h-1zM423.8 128.7h1v1h-1zM426.4 131.4h1v1h-1zM427.5 129.4h1v1h-1zM431.9 135.0h1v1h-1zM423.7 129.9h1v1h-1z" fill="#2a2a2a" fill-opacity="0.36" filter="url(#sb)"/>
<path d="M410.6 149.7h1v1h-1zM394.1 147.9h1v1h-1zM398.2 151.9h1v1h-1zM410.2 151.7h1v1h-1zM395.7 148.8h1v1h-1zM393.6 150.6h1v1h-1zM409.2 149.2h1v1h-1zM408.8 154.7h1v1h-1zM393.5 153.5h1v1h-1zM393.3 153.4h1v1h-1zM396.4 163.4h1v1h-1zM410.2 143.5h1v1h-1zM408.5 152.3h1v1h-1zM401.0 160.9h1v1h-1zM400.7 149.4h1v1h-1zM405.5 151.3h1v1h-1zM397.3 148.8h1v1h-1zM397.8 146.7h1v1h-1zM396.8 156.3h1v1h-1zM402.2 154.0h1v1h-1zM400.9 150.0h1v1h-1zM405.6 152.0h1v1h-1zM411.8 150.6h1v1h-1zM404.6 147.1h1v1h-1zM407.6 147.3h1v1h-1zM404.7 149.6h1v1h-1zM408.1 151.1h1v1h-1zM410.5 150.0h1v1h-1zM409.2 151.3h1v1h-1zM405.2 145.2h1v1h-1zM397.8 153.5h1v1h-1zM396.5 156.9h1v1h-1zM403.6 153.9h1v1h-1zM403.7 149.5h1v1h-1zM406.1 157.2h1v1h-1zM395.0 157.7h1v1h-1zM402.1 152.5h1v1h-1zM406.7 145.2h1v1h-1zM401.1 153.0h1v1h-1zM399.4 164.1h1v1h-1zM430.4 136.2h1v1h-1zM430.0 131.6h1v1h-1zM422.1 126.7h1v1h-1zM426.8 135.1h1v1h-1zM424.0 134.0h1v1h-1zM428.1 130.1h1v1h-1zM414.0 128.3h1v1h-1zM428.3 135.7h1v1h-1zM426.9 132.0h1v1h-1zM425.0 130.1h1v1h-1zM424.7 130.1h1v1h-1zM415.6 134.9h1v1h-1zM423.2 131.1h1v1h-1zM420.2 131.3h1v1h-1zM419.8 139.6h1v1h-1zM438.5 135.4h1v1h-1zM428.4 125.3h1v1h-1zM426.6 122.1h1v1h-1zM426.9 140.4h1v1h-1zM429.4 123.8h1v1h-1zM427.8 132.5h1v1h-1zM414.4 133.7h1v1h-1z" fill="#2a2a2a" fill-opacity="0.36" filter="url(#sb)"/>
<path d="M398.7 146.2h1v1h-1zM394.8 153.1h1v1h-1zM406.0 154.2h1v1h-1zM402.3 156.1h1v1h-1zM398.3 149.6h1v1h-1zM404.2 153.6h1v1h-1zM411.4 152.9h1v1h-1zM398.8 160.7h1v1h-1zM393.2 151.0h1v1h-1zM402.7 148.3h1v1h-1zM396.1 147.3h1v1h-1zM399.2 155.8h1v1h-1zM396.5 145.3h1v1h-1zM394.7 150.4h1v1h-1zM400.9 145.8h1v1h-1zM402.9 156.1h1v1h-1zM402.5 158.5h1v1h-1zM405.2 147.4h1v1h-1zM394.4 155.3h1v1h-1zM396.1 155.4h1v1h-1zM401.9 153.1h1v1h-1zM397.3 148.2h1v1h-1zM396.7 157.7h1v1h-1zM405.2 153.3h1v1h-1zM403.3 159.6h1v1h-1zM405.4 151.2h1v1h-1zM406.2 148.1h1v1h-1zM399.8 152.3h1v1h-1zM401.7 154.1h1v1h-1zM400.6 152.4h1v1h-1zM403.7 143.5h1v1h-1zM400.4 149.6h1v1h-1zM404.1 162.7h1v1h-1zM392.3 155.9h1v1h-1zM405.0 154.8h1v1h-1zM406.1 160.2h1v1h-1zM411.1 149.0h1v1h-1zM401.7 147.4h1v1h-1zM392.5 154.2h1v1h-1zM398.3 163.4h1v1h-1zM433.6 137.8h1v1h-1zM422.2 136.5h1v1h-1zM417.6 131.6h1v1h-1zM422.5 128.5h1v1h-1zM425.1 125.5h1v1h-1zM431.8 136.3h1v1h-1zM426.2 127.9h1v1h-1zM426.7 124.9h1v1h-1zM430.7 137.3h1v1h-1zM420.7 126.2h1v1h-1zM431.0 127.0h1v1h-1zM418.3 128.1h1v1h-1zM422.2 131.1h1v1h-1zM429.5 137.7h1v1h-1zM429.7 124.2h1v1h-1zM436.5 127.1h1v1h-1zM416.2 131.6h1v1h-1zM429.7 131.4h1v1h-1zM418.6 136.0h1v1h-1zM425.3 123.2h1v1h-1zM431.3 137.7h1v1h-1zM424.1 126.5h1v1h-1zM430.5 137.0h1v1h-1zM424.6 124.1h1v1h-1zM430.5 126.3h1v1h-1zM420.0 135.8h1v1h-1z" fill="#2a2a2a" fill-opacity="0.36" filter="url(#sb)"/>
<path d="M400.0 151.9h1v1h-1zM397.0 151.4h1v1h-1zM392.6 151.1h1v1h-1zM403.5 155.7h1v1h-1zM398.9 140.9h1v1h-1zM405.7 151.0h1v1h-1zM404.0 154.8h1v1h-1zM409.2 149.9h1v1h-1zM402.8 150.1h1v1h-1zM409.4 146.6h1v1h-1zM407.1 159.3h1v1h-1zM399.7 155.1h1v1h-1zM404.6 143.1h1v1h-1zM396.8 152.3h1v1h-1zM398.1 144.5h1v1h-1zM407.2 152.5h1v1h-1zM407.8 156.2h1v1h-1zM395.6 154.9h1v1h-1zM408.2 147.5h1v1h-1zM401.7 147.6h1v1h-1zM396.1 150.8h1v1h-1zM412.2 154.1h1v1h-1zM404.5 157.3h1v1h-1zM398.2 150.6h1v1h-1zM396.7 156.6h1v1h-1zM396.5 155.8h1v1h-1zM408.7 148.4h1v1h-1zM405.0 151.8h1v1h-1zM396.9 152.2h1v1h-1zM397.1 157.4h1v1h-1zM406.9 152.9h1v1h-1zM407.0 147.3h1v1h-1zM401.4 145.5h1v1h-1zM402.0 157.8h1v1h-1zM407.2 158.0h1v1h-1zM412.5 155.2h1v1h-1zM399.1 154.3h1v1h-1zM400.4 148.8h1v1h-1zM400.9 147.5h1v1h-1zM395.1 151.0h1v1h-1zM405.6 158.0h1v1h-1zM396.3 160.4h1v1h-1zM394.0 157.5h1v1h-1zM395.0 142.7h1v1h-1zM402.7 152.2h1v1h-1zM398.8 154.6h1v1h-1zM403.7 157.1h1v1h-1zM404.7 152.7h1v1h-1zM403.7 153.7h1v1h-1zM404.6 148.4h1v1h-1zM401.6 150.4h1v1h-1zM401.8 148.7h1v1h-1zM415.0 129.0h1v1h-1zM424.7 139.1h1v1h-1zM427.6 132.1h1v1h-1zM435.8 122.6h1v1h-1zM428.0 128.3h1v1h-1zM427.8 130.3h1v1h-1zM423.3 120.2h1v1h-1zM436.1 136.4h1v1h-1zM427.0 127.0h1v1h-1zM427.0 142.6h1v1h-1zM419.1 130.7h1v1h-1zM431.4 127.6h1v1h-1zM430.4 132.3h1v1h-1zM429.4 126.7h1v1h-1zM434.3 132.8h1v1h-1zM423.6 129.1h1v1h-1zM422.4 135.4h1v1h-1z" fill="#2a2a2a" fill-opacity="0.36" filter="url(#sb)"/>
<path d="M406.2 153.4h1v1h-1zM396.8 157.7h1v1h-1zM394.0 157.5h1v1h-1zM405.7 153.0h1v1h-1zM405.9 156.9h1v1h-1zM405.7 149.7h1v1h-1zM401.3 154.9h1v1h-1zM403.9 156.8h1v1h-1zM399.4 153.4h1v1h-1zM401.8 144.6h1v1h-1zM409.5 149.4h1v1h-1zM396.5 155.2h1v1h-1zM396.8 157.5h1v1h-1zM406.9 150.8h1v1h-1zM405.1 151.3h1v1h-1zM407.3 156.0h1v1h-1zM407.0 150.9h1v1h-1zM398.8 156.7h1v1h-1zM402.7 153.6h1v1h-1zM402.2 155.8h1v1h-1zM397.5 152.7h1v1h-1zM395.0 147.7h1v1h-1zM395.4 144.8h1v1h-1zM398.8 159.3h1v1h-1zM403.1 153.9h1v1h-1zM403.9 146.4h1v1h-1zM411.4 155.3h1v1h-1zM409.2 152.1h1v1h-1zM398.8 160.1h1v1h-1zM407.9 150.8h1v1h-1zM395.5 147.8h1v1h-1zM401.5 149.6h1v1h-1zM392.0 153.6h1v1h-1zM401.6 149.4h1v1h-1zM406.1 154.1h1v1h-1zM398.5 148.7h1v1h-1zM397.6 153.4h1v1h-1zM395.9 159.2h1v1h-1zM408.2 150.0h1v1h-1zM398.0 150.6h1v1h-1zM405.3 159.6h1v1h-1zM392.7 155.4h1v1h-1zM407.2 155.3h1v1h-1zM422.7 125.5h1v1h-1zM429.8 141.1h1v1h-1zM437.3 131.6h1v1h-1zM427.9 131.0h1v1h-1zM417.3 135.6h1v1h-1zM432.4 131.1h1v1h-1zM421.9 131.5h1v1h-1zM425.8 122.3h1v1h-1zM417.9 134.3h1v1h-1zM422.2 131.8h1v1h-1zM422.2 132.8h1v1h-1zM425.0 123.4h1v1h-1zM433.3 135.0h1v1h-1zM419.9 125.6h1v1h-1zM433.9 138.9h1v1h-1zM422.4 134.6h1v1h-1zM430.7 128.1h1v1h-1zM427.9 139.4h1v1h-1z" fill="#2a2a2a" fill-opacity="0.36" filter="url(#sb)"/>
<path d="M403.1 147.5h1v1h-1zM403.0 145.4h1v1h-1zM407.7 155.7h1v1h-1zM398.8 144.2h1v1h-1zM400.7 150.7h1v1h-1zM397.7 146.1h1v1h-1zM404.1 156.9h1v1h-1zM404.3 151.8h1v1h-1zM401.1 158.9h1v1h-1zM403.9 155.4h1v1h-1zM397.3 147.6h1v1h-1zM402.2 142.6h1v1h-1zM402.7 151.6h1v1h-1zM397.1 147.7h1v1h-1zM401.7 155.7h1v1h-1zM392.4 156.3h1v1h-1zM399.5 147.3h1v1h-1zM408.8 151.9h1v1h-1zM399.3 151.9h1v1h-1zM400.6 155.4h1v1h-1zM408.0 154.9h1v1h-1zM396.7 156.6h1v1h-1zM402.7 157.3h1v1h-1zM397.2 154.8h1v1h-1zM402.9 153.4h1v1h-1zM400.2 152.8h1v1h-1zM398.8 153.7h1v1h-1zM394.7 155.3h1v1h-1zM406.4 150.3h1v1h-1zM407.0 146.8h1v1h-1zM398.3 156.0h1v1h-1zM396.1 143.4h1v1h-1zM401.8 150.1h1v1h-1zM403.0 152.3h1v1h-1zM407.3 150.1h1v1h-1zM407.2 159.9h1v1h-1zM407.2 154.2h1v1h-1zM427.2 135.0h1v1h-1zM429.3 138.7h1v1h-1zM419.6 134.8h1v1h-1zM418.5 134.3h1v1h-1zM427.9 139.5h1v1h-1zM421.9 135.3h1v1h-1zM416.3 129.2h1v1h-1zM428.4 130.4h1v1h-1zM423.8 131.3h1v1h-1zM431.8 131.9h1v1h-1zM428.7 141.9h1v1h-1zM430.4 126.2h1v1h-1zM426.5 135.0h1v1h-1zM417.0 139.0h1v1h-1zM418.5 130.4h1v1h-1zM418.0 129.1h1v1h-1zM431.6 131.8h1v1h-1zM414.4 136.6h1v1h-1zM430.3 139.8h1v1h-1zM417.0 131.7h1v1h-1zM427.8 133.8h1v1h-1zM425.5 133.1h1v1h-1z" fill="#2a2a2a" fill-opacity="0.36" filter="url(#sb)"/>
<path d="M402.9 155.1h1v1h-1zM397.9 155.5h1v1h-1zM402.4 142.9h1v1h-1zM407.5 144.0h1v1h-1zM400.6 158.2h1v1h-1zM410.3 150.2h1v1h-1zM410.9 155.9h1v1h-1zM403.9 144.1h1v1h-1zM403.8 156.5h1v1h-1zM404.9 148.2h1v1h-1zM404.7 153.0h1v1h-1zM407.0 153.4h1v1h-1zM397.1 142.2h1v1h-1zM401.1 153.0h1v1h-1zM398.3 151.2h1v1h-1zM401.2 158.9h1v1h-1zM397.4 157.8h1v1h-1zM401.4 151.0h1v1h-1zM407.1 158.0h1v1h-1zM393.7 154.3h1v1h-1zM396.8 147.3h1v1h-1zM399.4 153.5h1v1h-1zM403.3 156.8h1v1h-1zM407.7 152.7h1v1h-1zM399.7 147.8h1v1h-1zM406.4 143.8h1v1h-1zM406.4 148.2h1v1h-1zM412.8 150.5h1v1h-1zM392.7 155.1h1v1h-1zM405.8 155.2h1v1h-1zM399.8 156.0h1v1h-1zM406.6 154.5h1v1h-1zM407.5 146.4h1v1h-1zM406.3 141.3h1v1h-1zM400.8 152.9h1v1h-1zM406.5 147.9h1v1h-1zM402.7 152.9h1v1h-1zM397.6 148.6h1v1h-1zM395.2 150.2h1v1h-1zM406.2 155.0h1v1h-1zM399.2 153.9h1v1h-1zM394.2 145.3h1v1h-1zM411.9 159.7h1v1h-1zM398.1 160.8h1v1h-1zM409.5 152.8h1v1h-1zM403.3 153.1h1v1h-1zM396.7 148.2h1v1h-1zM395.2 152.6h1v1h-1zM404.2 151.3h1v1h-1zM398.6 154.6h1v1h-1zM400.4 149.8h1v1h-1zM404.9 150.8h1v1h-1zM432.1 138.3h1v1h-1zM432.8 133.3h1v1h-1zM424.5 130.0h1v1h-1zM426.0 145.0h1v1h-1zM432.8 133.5h1v1h-1zM427.7 133.8h1v1h-1zM428.7 130.1h1v1h-1zM415.0 135.1h1v1h-1zM426.8 139.1h1v1h-1zM425.7 142.9h1v1h-1zM424.9 140.3h1v1h-1zM432.6 128.1h1v1h-1zM429.5 137.3h1v1h-1zM429.2 134.5h1v1h-1zM421.8 132.2h1v1h-1zM425.5 138.0h1v1h-1zM429.8 139.4h1v1h-1zM430.2 129.0h1v1h-1zM425.3 134.2h1v1h-1zM430.0 121.9h1v1h-1zM420.8 138.4h1v1h-1zM421.0 136.7h1v1h-1zM435.9 132.0h1v1h-1zM419.3 137.2h1v1h-1z" fill="#2a2a2a" fill-opacity="0.36" filter="url(#sb)"/>
<path d="M428.5 149.6h1v1h-1zM429.0 148.2h1v1h-1zM409.7 148.7h1v1h-1zM409.1 136.9h1v1h-1zM436.0 143.0h1v1h-1zM405.5 153.7h1v1h-1zM436.1 155.7h1v1h-1zM420.4 147.2h1v1h-1zM416.8 145.3h1v1h-1zM434.3 143.9h1v1h-1zM430.5 145.6h1v1h-1zM419.1 148.5h1v1h-1zM441.4 132.2h1v1h-1z" fill="#2a2a2a" fill-opacity="0.22" filter="url(#sb)"/>
<path d="M439.7 155.3h1v1h-1zM415.8 147.7h1v1h-1zM419.5 143.5h1v1h-1zM440.0 141.5h1v1h-1zM416.0 149.3h1v1h-1zM432.7 137.0h1v1h-1zM425.3 150.1h1v1h-1zM415.1 147.0h1v1h-1zM410.6 150.4h1v1h-1zM419.1 155.5h1v1h-1zM427.3 156.5h1v1h-1zM425.6 127.9h1v1h-1z" fill="#2a2a2a" fill-opacity="0.22" filter="url(#sb)"/>
<path d="M435.9 142.0h1v1h-1zM422.9 147.0h1v1h-1zM433.5 139.7h1v1h-1zM427.1 144.9h1v1h-1zM424.9 146.7h1v1h-1zM414.5 148.7h1v1h-1zM420.3 146.0h1v1h-1z" fill="#2a2a2a" fill-opacity="0.22" filter="url(#sb)"/>
<path d="M410.1 145.7h1v1h-1zM414.5 151.4h1v1h-1zM413.7 150.2h1v1h-1zM429.0 141.9h1v1h-1zM426.7 155.1h1v1h-1zM427.4 155.1h1v1h-1zM434.1 144.5h1v1h-1zM422.3 143.2h1v1h-1zM427.3 147.2h1v1h-1zM406.2 153.5h1v1h-1z" fill="#2a2a2a" fill-opacity="0.22" filter="url(#sb)"/>
<path d="M430.8 147.3h1v1h-1zM425.0 134.6h1v1h-1zM423.8 140.3h1v1h-1zM410.9 155.7h1v1h-1zM416.4 141.3h1v1h-1zM412.7 153.0h1v1h-1zM432.6 144.0h1v1h-1zM428.2 155.1h1v1h-1zM422.8 152.3h1v1h-1zM410.6 161.4h1v1h-1zM436.4 147.2h1v1h-1z" fill="#2a2a2a" fill-opacity="0.22" filter="url(#sb)"/>
<path d="M433.4 135.6h1v1h-1zM410.7 147.0h1v1h-1zM427.8 151.5h1v1h-1zM410.1 149.2h1v1h-1zM409.2 145.4h1v1h-1zM424.7 154.5h1v1h-1zM423.7 142.8h1v1h-1zM408.0 144.4h1v1h-1zM419.0 155.4h1v1h-1z" fill="#2a2a2a" fill-opacity="0.22" filter="url(#sb)"/>
<path d="M411.9 146.5h1v1h-1zM422.0 152.1h1v1h-1zM420.3 147.4h1v1h-1zM420.5 149.0h1v1h-1zM424.2 156.4h1v1h-1zM439.2 139.3h1v1h-1zM423.1 152.6h1v1h-1z" fill="#2a2a2a" fill-opacity="0.22" filter="url(#sb)"/>
<path d="M423.6 153.5h1v1h-1zM438.8 148.3h1v1h-1zM423.2 151.0h1v1h-1zM414.8 145.0h1v1h-1zM427.4 142.3h1v1h-1zM412.5 154.4h1v1h-1zM430.9 144.4h1v1h-1zM413.9 158.8h1v1h-1zM414.7 150.6h1v1h-1zM443.4 144.9h1v1h-1zM429.8 158.1h1v1h-1zM426.7 145.5h1v1h-1zM442.0 136.4h1v1h-1zM409.5 139.2h1v1h-1z" fill="#2a2a2a" fill-opacity="0.22" filter="url(#sb)"/>
<path d="M432.1 157.1h1v1h-1zM430.4 148.4h1v1h-1zM435.2 153.1h1v1h-1zM406.4 147.8h1v1h-1zM426.8 153.2h1v1h-1zM422.0 156.2h1v1h-1zM419.1 159.6h1v1h-1z" fill="#2a2a2a" fill-opacity="0.22" filter="url(#sb)"/>
<path d="M416.6 152.6h1v1h-1zM431.2 141.6h1v1h-1zM429.7 139.7h1v1h-1zM425.7 152.2h1v1h-1zM419.3 140.3h1v1h-1zM419.9 145.7h1v1h-1zM421.3 144.5h1v1h-1zM434.6 140.8h1v1h-1z" fill="#2a2a2a" fill-opacity="0.22" filter="url(#sb)"/>
<path d="M403.7 149.8h1v1h-1zM419.0 156.8h1v1h-1zM429.1 150.1h1v1h-1zM426.7 146.4h1v1h-1zM418.8 152.6h1v1h-1zM429.5 149.6h1v1h-1zM420.6 147.2h1v1h-1zM424.1 152.7h1v1h-1zM435.9 135.0h1v1h-1z" fill="#2a2a2a" fill-opacity="0.22" filter="url(#sb)"/>
<path d="M447.1 148.0h1v1h-1zM435.2 145.2h1v1h-1zM425.8 140.2h1v1h-1zM445.8 159.6h1v1h-1zM427.6 155.9h1v1h-1zM435.3 139.2h1v1h-1zM418.7 148.1h1v1h-1zM425.7 147.4h1v1h-1zM422.3 137.4h1v1h-1zM427.0 157.0h1v1h-1zM438.1 140.8h1v1h-1zM442.3 151.6h1v1h-1z" fill="#2a2a2a" fill-opacity="0.22" filter="url(#sb)"/>
<path d="M416.4 142.2h1v1h-1zM416.3 146.1h1v1h-1zM422.3 142.9h1v1h-1zM410.6 158.3h1v1h-1zM411.6 147.7h1v1h-1zM419.2 153.6h1v1h-1zM405.8 152.9h1v1h-1zM457.1 152.4h1v1h-1zM432.0 152.0h1v1h-1zM406.4 150.0h1v1h-1zM416.8 142.9h1v1h-1z" fill="#2a2a2a" fill-opacity="0.22" filter="url(#sb)"/>
<path d="M427.6 141.4h1v1h-1zM402.7 145.4h1v1h-1zM436.2 135.6h1v1h-1zM419.8 152.4h1v1h-1zM408.1 140.6h1v1h-1zM422.3 159.7h1v1h-1zM431.6 141.8h1v1h-1z" fill="#2a2a2a" fill-opacity="0.22" filter="url(#sb)"/>
<path d="M418.1 133.9h1v1h-1z" fill="#2a2a2a" fill-opacity="0.2" filter="url(#sb)"/>
<path d="M409.3 151.6h1v1h-1zM422.2 138.6h1v1h-1z" fill="#2a2a2a" fill-opacity="0.2" filter="url(#sb)"/>
<path d="M440.8 122.7h1v1h-1zM441.6 141.4h1v1h-1zM417.2 150.9h1v1h-1zM444.5 141.7h1v1h-1z" fill="#2a2a2a" fill-opacity="0.2" filter="url(#sb)"/>
<path d="M410.8 143.6h1v1h-1zM415.0 123.6h1v1h-1zM409.9 127.9h1v1h-1z" fill="#2a2a2a" fill-opacity="0.2" filter="url(#sb)"/>
<path d="M422.1 157.0h1v1h-1zM400.3 111.8h1v1h-1z" fill="#2a2a2a" fill-opacity="0.2" filter="url(#sb)"/>
<path d="M425.0 145.4h1v1h-1zM429.1 140.2h1v1h-1zM439.2 121.6h1v1h-1zM433.8 103.3h1v1h-1zM419.8 133.9h1v1h-1zM426.5 113.6h1v1h-1zM425.4 135.2h1v1h-1z" fill="#2a2a2a" fill-opacity="0.2" filter="url(#sb)"/>
<path d="M404.2 134.2h1v1h-1zM408.7 127.3h1v1h-1zM399.4 127.7h1v1h-1zM412.5 150.1h1v1h-1zM409.4 128.9h1v1h-1zM424.4 132.7h1v1h-1z" fill="#2a2a2a" fill-opacity="0.2" filter="url(#sb)"/>
<path d="M407.3 133.1h1v1h-1zM429.7 141.7h1v1h-1zM421.9 148.8h1v1h-1zM440.1 130.6h1v1h-1z" fill="#2a2a2a" fill-opacity="0.2" filter="url(#sb)"/>
<path d="M442.5 151.6h1v1h-1zM412.2 131.2h1v1h-1zM437.9 125.6h1v1h-1z" fill="#2a2a2a" fill-opacity="0.2" filter="url(#sb)"/>
<path d="M421.5 137.8h1v1h-1zM399.4 135.0h1v1h-1zM421.3 154.1h1v1h-1zM409.0 145.4h1v1h-1z" fill="#2a2a2a" fill-opacity="0.2" filter="url(#sb)"/>
<path d="M416.0 113.7h1v1h-1zM453.0 124.8h1v1h-1zM430.7 128.8h1v1h-1zM439.0 146.6h1v1h-1zM441.5 123.9h1v1h-1zM426.7 121.7h1v1h-1zM418.4 138.2h1v1h-1zM410.0 129.2h1v1h-1zM411.4 107.0h1v1h-1z" fill="#2a2a2a" fill-opacity="0.2" filter="url(#sb)"/>
<path d="M440.2 129.0h1v1h-1zM432.6 162.8h1v1h-1z" fill="#2a2a2a" fill-opacity="0.2" filter="url(#sb)"/>
<path d="M410.0 126.6h1v1h-1zM422.1 113.9h1v1h-1z" fill="#2a2a2a" fill-opacity="0.2" filter="url(#sb)"/>
<path d="M438.8 146.9h1v1h-1z" fill="#2a2a2a" fill-opacity="0.2" filter="url(#sb)"/>
<line x1="415.70" y1="96.20" x2="415.70" y2="165.60" stroke="#666" stroke-width="0.9"/>
<line x1="390.60" y1="141.50" x2="461.60" y2="141.50" stroke="#666" stroke-width="0.9"/>
<text x="395.60" y="108.20" font-size="8.6" text-anchor="start" font-weight="normal" fill="#111" stroke="#111" stroke-width="0.22" >2.6</text>
<text x="458.30" y="108.20" font-size="8.6" text-anchor="end" font-weight="normal" fill="#111" stroke="#111" stroke-width="0.22" >18.0</text>
<text x="458.30" y="161.80" font-size="8.6" text-anchor="end" font-weight="normal" fill="#111" stroke="#111" stroke-width="0.22" >12.6</text>
<path d="M390.60 165.60h-1.6M390.60 165.60v1.6M390.60 160.38h-0.9M395.94 165.60v0.9M390.60 157.32h-0.9M399.07 165.60v0.9M390.60 155.15h-0.9M401.29 165.60v0.9M390.60 153.47h-0.9M403.01 165.60v0.9M390.60 152.10h-0.9M404.41 165.60v0.9M390.60 150.94h-0.9M405.60 165.60v0.9M390.60 149.93h-0.9M406.63 165.60v0.9M390.60 149.04h-0.9M407.54 165.60v0.9M390.60 148.25h-1.6M408.35 165.60v1.6M390.60 143.03h-0.9M413.69 165.60v0.9M390.60 139.97h-0.9M416.82 165.60v0.9M390.60 137.80h-0.9M419.04 165.60v0.9M390.60 136.12h-0.9M420.76 165.60v0.9M390.60 134.75h-0.9M422.16 165.60v0.9M390.60 133.59h-0.9M423.35 165.60v0.9M390.60 132.58h-0.9M424.38 165.60v0.9M390.60 131.69h-0.9M425.29 165.60v0.9M390.60 130.90h-1.6M426.10 165.60v1.6M390.60 125.68h-0.9M431.44 165.60v0.9M390.60 122.62h-0.9M434.57 165.60v0.9M390.60 120.45h-0.9M436.79 165.60v0.9M390.60 118.77h-0.9M438.51 165.60v0.9M390.60 117.40h-0.9M439.91 165.60v0.9M390.60 116.24h-0.9M441.10 165.60v0.9M390.60 115.23h-0.9M442.13 165.60v0.9M390.60 114.34h-0.9M443.04 165.60v0.9M390.60 113.55h-1.6M443.85 165.60v1.6M390.60 108.33h-0.9M449.19 165.60v0.9M390.60 105.27h-0.9M452.32 165.60v0.9M390.60 103.10h-0.9M454.54 165.60v0.9M390.60 101.42h-0.9M456.26 165.60v0.9M390.60 100.05h-0.9M457.66 165.60v0.9M390.60 98.89h-0.9M458.85 165.60v0.9M390.60 97.88h-0.9M459.88 165.60v0.9M390.60 96.99h-0.9M460.79 165.60v0.9M390.60 96.20h-1.6M461.60 165.60v1.6" stroke="#999" stroke-width="0.6" fill="none"/>
<text x="388.40" y="167.00" font-size="3.8" text-anchor="end" font-weight="normal" fill="#707070" stroke="#707070" stroke-width="0.22" >10<tspan font-size="2.6" dy="-1.5">0</tspan></text>
<text x="390.60" y="171.20" font-size="3.8" text-anchor="middle" font-weight="normal" fill="#707070" stroke="#707070" stroke-width="0.22" >10<tspan font-size="2.6" dy="-1.5">0</tspan></text>
<text x="388.40" y="149.65" font-size="3.8" text-anchor="end" font-weight="normal" fill="#707070" stroke="#707070" stroke-width="0.22" >10<tspan font-size="2.6" dy="-1.5">1</tspan></text>
<text x="408.35" y="171.20" font-size="3.8" text-anchor="middle" font-weight="normal" fill="#707070" stroke="#707070" stroke-width="0.22" >10<tspan font-size="2.6" dy="-1.5">1</tspan></text>
<text x="388.40" y="132.30" font-size="3.8" text-anchor="end" font-weight="normal" fill="#707070" stroke="#707070" stroke-width="0.22" >10<tspan font-size="2.6" dy="-1.5">2</tspan></text>
<text x="426.10" y="171.20" font-size="3.8" text-anchor="middle" font-weight="normal" fill="#707070" stroke="#707070" stroke-width="0.22" >10<tspan font-size="2.6" dy="-1.5">2</tspan></text>
<text x="388.40" y="114.95" font-size="3.8" text-anchor="end" font-weight="normal" fill="#707070" stroke="#707070" stroke-width="0.22" >10<tspan font-size="2.6" dy="-1.5">3</tspan></text>
<text x="443.85" y="171.20" font-size="3.8" text-anchor="middle" font-weight="normal" fill="#707070" stroke="#707070" stroke-width="0.22" >10<tspan font-size="2.6" dy="-1.5">3</tspan></text>
<text x="388.40" y="97.60" font-size="3.8" text-anchor="end" font-weight="normal" fill="#707070" stroke="#707070" stroke-width="0.22" >10<tspan font-size="2.6" dy="-1.5">4</tspan></text>
<text x="461.60" y="171.20" font-size="3.8" text-anchor="middle" font-weight="normal" fill="#707070" stroke="#707070" stroke-width="0.22" >10<tspan font-size="2.6" dy="-1.5">4</tspan></text>
<line x1="288.00" y1="21.00" x2="288.00" y2="164.00" stroke="#000" stroke-width="1.3"/>
<path d="M288 17.5 L285.2 24 L290.8 24 Z" fill="#000"/>
<line x1="288.00" y1="179.40" x2="462.00" y2="179.40" stroke="#000" stroke-width="1.3"/>
<path d="M467.5 179.4 L461 176.6 L461 182.2 Z" fill="#000"/>
<text transform="translate(278.60,128.50) scale(1.0,1) rotate(-90)" x="0.40" y="0" font-size="9.2" font-weight="normal" fill="#222" stroke="#222" stroke-width="0.22" textLength="72.11" lengthAdjust="spacingAndGlyphs">FL-4H: TO-PRO-3</text>
<text x="355.80" y="191.40" font-size="9.0" font-weight="normal" fill="#222" stroke="#222" stroke-width="0.22" textLength="69.78" lengthAdjust="spacingAndGlyphs">FL-1H: Annexin V</text>
<text x="469.60" y="51.40" font-size="8.8" text-anchor="start" font-weight="normal" fill="#222" stroke="#222" stroke-width="0.22" >0 nM</text>
<text x="469.60" y="62.00" font-size="8.8" text-anchor="start" font-weight="normal" fill="#222" stroke="#222" stroke-width="0.22" >Bortezomib</text>
<text x="467.60" y="133.00" font-size="8.8" text-anchor="start" font-weight="normal" fill="#222" stroke="#222" stroke-width="0.22" >10 nM</text>
<text x="467.60" y="143.80" font-size="8.8" text-anchor="start" font-weight="normal" fill="#222" stroke="#222" stroke-width="0.22" >Bortezomib</text>
<text x="2.40" y="221.00" font-size="11.5" text-anchor="start" font-weight="bold" fill="#000" stroke="#000" stroke-width="0.22" >C</text>
<line x1="64.90" y1="229.50" x2="64.90" y2="337.10" stroke="#9a9a9a" stroke-width="1.3"/>
<line x1="64.90" y1="337.10" x2="256.00" y2="337.10" stroke="#9a9a9a" stroke-width="1.3"/>
<line x1="62.40" y1="337.10" x2="64.90" y2="337.10" stroke="#9a9a9a" stroke-width="1"/>
<text x="57.40" y="339.70" font-size="8.8" text-anchor="end" font-weight="normal" fill="#2a2a2a" stroke="#2a2a2a" stroke-width="0.22" >0</text>
<line x1="62.40" y1="323.65" x2="64.90" y2="323.65" stroke="#9a9a9a" stroke-width="1"/>
<text x="57.40" y="326.25" font-size="8.8" text-anchor="end" font-weight="normal" fill="#2a2a2a" stroke="#2a2a2a" stroke-width="0.22" >1000</text>
<line x1="62.40" y1="310.20" x2="64.90" y2="310.20" stroke="#9a9a9a" stroke-width="1"/>
<text x="57.40" y="312.80" font-size="8.8" text-anchor="end" font-weight="normal" fill="#2a2a2a" stroke="#2a2a2a" stroke-width="0.22" >2000</text>
<line x1="62.40" y1="296.75" x2="64.90" y2="296.75" stroke="#9a9a9a" stroke-width="1"/>
<text x="57.40" y="299.35" font-size="8.8" text-anchor="end" font-weight="normal" fill="#2a2a2a" stroke="#2a2a2a" stroke-width="0.22" >3000</text>
<line x1="62.40" y1="283.30" x2="64.90" y2="283.30" stroke="#9a9a9a" stroke-width="1"/>
<text x="57.40" y="285.90" font-size="8.8" text-anchor="end" font-weight="normal" fill="#2a2a2a" stroke="#2a2a2a" stroke-width="0.22" >4000</text>
<line x1="62.40" y1="269.85" x2="64.90" y2="269.85" stroke="#9a9a9a" stroke-width="1"/>
<text x="57.40" y="272.45" font-size="8.8" text-anchor="end" font-weight="normal" fill="#2a2a2a" stroke="#2a2a2a" stroke-width="0.22" >5000</text>
<line x1="62.40" y1="256.40" x2="64.90" y2="256.40" stroke="#9a9a9a" stroke-width="1"/>
<text x="57.40" y="259.00" font-size="8.8" text-anchor="end" font-weight="normal" fill="#2a2a2a" stroke="#2a2a2a" stroke-width="0.22" >6000</text>
<line x1="62.40" y1="242.95" x2="64.90" y2="242.95" stroke="#9a9a9a" stroke-width="1"/>
<text x="57.40" y="245.55" font-size="8.8" text-anchor="end" font-weight="normal" fill="#2a2a2a" stroke="#2a2a2a" stroke-width="0.22" >7000</text>
<line x1="62.40" y1="229.50" x2="64.90" y2="229.50" stroke="#9a9a9a" stroke-width="1"/>
<text x="57.40" y="232.10" font-size="8.8" text-anchor="end" font-weight="normal" fill="#2a2a2a" stroke="#2a2a2a" stroke-width="0.22" >8000</text>
<line x1="65.50" y1="337.10" x2="65.50" y2="339.60" stroke="#9a9a9a" stroke-width="1"/>
<text x="65.50" y="350.10" font-size="8.7" text-anchor="middle" font-weight="normal" fill="#2a2a2a" stroke="#2a2a2a" stroke-width="0.22" >0</text>
<line x1="92.60" y1="337.10" x2="92.60" y2="339.60" stroke="#9a9a9a" stroke-width="1"/>
<text x="92.60" y="350.10" font-size="8.7" text-anchor="middle" font-weight="normal" fill="#2a2a2a" stroke="#2a2a2a" stroke-width="0.22" >0.1</text>
<line x1="119.70" y1="337.10" x2="119.70" y2="339.60" stroke="#9a9a9a" stroke-width="1"/>
<text x="119.70" y="350.10" font-size="8.7" text-anchor="middle" font-weight="normal" fill="#2a2a2a" stroke="#2a2a2a" stroke-width="0.22" >1</text>
<line x1="146.80" y1="337.10" x2="146.80" y2="339.60" stroke="#9a9a9a" stroke-width="1"/>
<text x="146.80" y="350.10" font-size="8.7" text-anchor="middle" font-weight="normal" fill="#2a2a2a" stroke="#2a2a2a" stroke-width="0.22" >5</text>
<line x1="173.90" y1="337.10" x2="173.90" y2="339.60" stroke="#9a9a9a" stroke-width="1"/>
<text x="173.90" y="350.10" font-size="8.7" text-anchor="middle" font-weight="normal" fill="#2a2a2a" stroke="#2a2a2a" stroke-width="0.22" >7.5</text>
<line x1="201.00" y1="337.10" x2="201.00" y2="339.60" stroke="#9a9a9a" stroke-width="1"/>
<text x="201.00" y="350.10" font-size="8.7" text-anchor="middle" font-weight="normal" fill="#2a2a2a" stroke="#2a2a2a" stroke-width="0.22" >10</text>
<line x1="228.10" y1="337.10" x2="228.10" y2="339.60" stroke="#9a9a9a" stroke-width="1"/>
<text x="228.10" y="350.10" font-size="8.7" text-anchor="middle" font-weight="normal" fill="#2a2a2a" stroke="#2a2a2a" stroke-width="0.22" >25</text>
<line x1="255.20" y1="337.10" x2="255.20" y2="339.60" stroke="#9a9a9a" stroke-width="1"/>
<text x="255.20" y="350.10" font-size="8.7" text-anchor="middle" font-weight="normal" fill="#2a2a2a" stroke="#2a2a2a" stroke-width="0.22" >50</text>
<text x="127.70" y="362.20" font-size="8.8" font-weight="normal" fill="#2a2a2a" stroke="#2a2a2a" stroke-width="0.22" textLength="64.01" lengthAdjust="spacingAndGlyphs">Bortezomib (nM)</text>
<text transform="translate(30.00,319.00) scale(0.97,1) rotate(-90)" x="0.40" y="0" font-size="8.7" font-weight="normal" fill="#2a2a2a" stroke="#2a2a2a" stroke-width="0.22" textLength="78.59" lengthAdjust="spacingAndGlyphs">ChT-L activity (RFU)</text>
<line x1="65.50" y1="261.65" x2="65.50" y2="244.97" stroke="#000" stroke-width="1"/>
<line x1="63.70" y1="244.97" x2="67.30" y2="244.97" stroke="#000" stroke-width="1"/>
<line x1="63.70" y1="261.65" x2="67.30" y2="261.65" stroke="#000" stroke-width="1"/>
<line x1="92.60" y1="274.15" x2="92.60" y2="270.12" stroke="#000" stroke-width="1"/>
<line x1="90.80" y1="270.12" x2="94.40" y2="270.12" stroke="#000" stroke-width="1"/>
<line x1="90.80" y1="274.15" x2="94.40" y2="274.15" stroke="#000" stroke-width="1"/>
<line x1="119.70" y1="279.13" x2="119.70" y2="276.44" stroke="#000" stroke-width="1"/>
<line x1="117.90" y1="276.44" x2="121.50" y2="276.44" stroke="#000" stroke-width="1"/>
<line x1="117.90" y1="279.13" x2="121.50" y2="279.13" stroke="#000" stroke-width="1"/>
<line x1="146.80" y1="293.39" x2="146.80" y2="289.35" stroke="#000" stroke-width="1"/>
<line x1="145.00" y1="289.35" x2="148.60" y2="289.35" stroke="#000" stroke-width="1"/>
<line x1="145.00" y1="293.39" x2="148.60" y2="293.39" stroke="#000" stroke-width="1"/>
<line x1="173.90" y1="305.09" x2="173.90" y2="302.40" stroke="#000" stroke-width="1"/>
<line x1="172.10" y1="302.40" x2="175.70" y2="302.40" stroke="#000" stroke-width="1"/>
<line x1="172.10" y1="305.09" x2="175.70" y2="305.09" stroke="#000" stroke-width="1"/>
<line x1="201.00" y1="308.32" x2="201.00" y2="301.59" stroke="#000" stroke-width="1"/>
<line x1="199.20" y1="301.59" x2="202.80" y2="301.59" stroke="#000" stroke-width="1"/>
<line x1="199.20" y1="308.32" x2="202.80" y2="308.32" stroke="#000" stroke-width="1"/>
<line x1="228.10" y1="322.71" x2="228.10" y2="317.33" stroke="#000" stroke-width="1"/>
<line x1="226.30" y1="317.33" x2="229.90" y2="317.33" stroke="#000" stroke-width="1"/>
<line x1="226.30" y1="322.71" x2="229.90" y2="322.71" stroke="#000" stroke-width="1"/>
<line x1="255.20" y1="323.78" x2="255.20" y2="321.63" stroke="#000" stroke-width="1"/>
<line x1="253.40" y1="321.63" x2="257.00" y2="321.63" stroke="#000" stroke-width="1"/>
<line x1="253.40" y1="323.78" x2="257.00" y2="323.78" stroke="#000" stroke-width="1"/>
<line x1="65.50" y1="278.46" x2="65.50" y2="273.08" stroke="#000" stroke-width="1"/>
<line x1="63.70" y1="273.08" x2="67.30" y2="273.08" stroke="#000" stroke-width="1"/>
<line x1="63.70" y1="278.46" x2="67.30" y2="278.46" stroke="#000" stroke-width="1"/>
<line x1="92.60" y1="291.10" x2="92.60" y2="288.95" stroke="#000" stroke-width="1"/>
<line x1="90.80" y1="288.95" x2="94.40" y2="288.95" stroke="#000" stroke-width="1"/>
<line x1="90.80" y1="291.10" x2="94.40" y2="291.10" stroke="#000" stroke-width="1"/>
<line x1="119.70" y1="297.15" x2="119.70" y2="290.43" stroke="#000" stroke-width="1"/>
<line x1="117.90" y1="290.43" x2="121.50" y2="290.43" stroke="#000" stroke-width="1"/>
<line x1="117.90" y1="297.15" x2="121.50" y2="297.15" stroke="#000" stroke-width="1"/>
<line x1="146.80" y1="308.86" x2="146.80" y2="307.24" stroke="#000" stroke-width="1"/>
<line x1="145.00" y1="307.24" x2="148.60" y2="307.24" stroke="#000" stroke-width="1"/>
<line x1="145.00" y1="308.86" x2="148.60" y2="308.86" stroke="#000" stroke-width="1"/>
<line x1="173.90" y1="314.64" x2="173.90" y2="313.02" stroke="#000" stroke-width="1"/>
<line x1="172.10" y1="313.02" x2="175.70" y2="313.02" stroke="#000" stroke-width="1"/>
<line x1="172.10" y1="314.64" x2="175.70" y2="314.64" stroke="#000" stroke-width="1"/>
<line x1="201.00" y1="314.64" x2="201.00" y2="313.02" stroke="#000" stroke-width="1"/>
<line x1="199.20" y1="313.02" x2="202.80" y2="313.02" stroke="#000" stroke-width="1"/>
<line x1="199.20" y1="314.64" x2="202.80" y2="314.64" stroke="#000" stroke-width="1"/>
<line x1="228.10" y1="321.63" x2="228.10" y2="319.48" stroke="#000" stroke-width="1"/>
<line x1="226.30" y1="319.48" x2="229.90" y2="319.48" stroke="#000" stroke-width="1"/>
<line x1="226.30" y1="321.63" x2="229.90" y2="321.63" stroke="#000" stroke-width="1"/>
<line x1="255.20" y1="323.65" x2="255.20" y2="321.50" stroke="#000" stroke-width="1"/>
<line x1="253.40" y1="321.50" x2="257.00" y2="321.50" stroke="#000" stroke-width="1"/>
<line x1="253.40" y1="323.65" x2="257.00" y2="323.65" stroke="#000" stroke-width="1"/>
<polyline points="65.50,253.31 92.60,272.14 119.70,277.79 146.80,291.37 173.90,303.74 201.00,304.95 228.10,320.02 255.20,322.71" fill="none" stroke="#000" stroke-width="1.1"/>
<polyline points="65.50,275.77 92.60,290.03 119.70,293.79 146.80,308.05 173.90,313.83 201.00,313.83 228.10,320.56 255.20,322.57" fill="none" stroke="#000" stroke-width="1.1"/>
<circle cx="65.50" cy="253.31" r="2.5" fill="#fff" stroke="#000" stroke-width="1"/>
<circle cx="92.60" cy="272.14" r="2.5" fill="#fff" stroke="#000" stroke-width="1"/>
<circle cx="119.70" cy="277.79" r="2.5" fill="#fff" stroke="#000" stroke-width="1"/>
<circle cx="146.80" cy="291.37" r="2.5" fill="#fff" stroke="#000" stroke-width="1"/>
<circle cx="173.90" cy="303.74" r="2.5" fill="#fff" stroke="#000" stroke-width="1"/>
<circle cx="201.00" cy="304.95" r="2.5" fill="#fff" stroke="#000" stroke-width="1"/>
<circle cx="228.10" cy="320.02" r="2.5" fill="#fff" stroke="#000" stroke-width="1"/>
<circle cx="255.20" cy="322.71" r="2.5" fill="#fff" stroke="#000" stroke-width="1"/>
<rect x="63.20" y="273.47" width="4.6" height="4.6" fill="#000"/>
<rect x="90.30" y="287.73" width="4.6" height="4.6" fill="#000"/>
<rect x="117.40" y="291.49" width="4.6" height="4.6" fill="#000"/>
<rect x="144.50" y="305.75" width="4.6" height="4.6" fill="#000"/>
<rect x="171.60" y="311.53" width="4.6" height="4.6" fill="#000"/>
<rect x="198.70" y="311.53" width="4.6" height="4.6" fill="#000"/>
<rect x="225.80" y="318.26" width="4.6" height="4.6" fill="#000"/>
<rect x="252.90" y="320.27" width="4.6" height="4.6" fill="#000"/>
<line x1="80.30" y1="235.50" x2="95.30" y2="235.50" stroke="#222" stroke-width="1"/>
<circle cx="87.9" cy="235.5" r="2.1" fill="#fff" stroke="#333" stroke-width="0.9"/>
<text x="97.00" y="238.60" font-size="9" text-anchor="start" font-weight="normal" fill="#222" stroke="#222" stroke-width="0.22" >8226.wt</text>
<line x1="80.30" y1="249.80" x2="95.30" y2="249.80" stroke="#333" stroke-width="1"/>
<rect x="85.9" y="247.6" width="4.4" height="4.4" fill="#000"/>
<text x="97.00" y="252.90" font-size="9" text-anchor="start" font-weight="normal" fill="#222" stroke="#222" stroke-width="0.22" >8226.BR</text>
<rect x="154.3" y="225.4" width="98.7" height="45.6" fill="#fff" stroke="#555" stroke-width="1"/>
<text x="171.40" y="234.60" font-size="8.8" text-anchor="middle" font-weight="normal" fill="#1a1a1a" stroke="#1a1a1a" stroke-width="0.22" >wt</text>
<text x="192.10" y="234.60" font-size="8.8" text-anchor="middle" font-weight="normal" fill="#1a1a1a" stroke="#1a1a1a" stroke-width="0.22" >BR</text>
<defs><filter id="bl1" x="-20%" y="-20%" width="140%" height="140%"><feGaussianBlur stdDeviation="0.7"/></filter><linearGradient id="lg1" x1="0" y1="0" x2="0" y2="1"><stop offset="0" stop-color="#0d0d0d"/><stop offset="0.1" stop-color="#222"/><stop offset="0.3" stop-color="#2a2a2a"/><stop offset="0.45" stop-color="#3a3a3a"/><stop offset="0.6" stop-color="#9a9a9a"/><stop offset="0.68" stop-color="#d0d0d0"/><stop offset="0.72" stop-color="#bdbdbd"/><stop offset="0.76" stop-color="#cfcfcf"/><stop offset="0.8" stop-color="#555"/><stop offset="0.85" stop-color="#777"/><stop offset="0.93" stop-color="#e0e0e0"/><stop offset="1" stop-color="#fff"/></linearGradient><linearGradient id="lg2" x1="0" y1="0" x2="0" y2="1"><stop offset="0" stop-color="#0d0d0d"/><stop offset="0.15" stop-color="#1e1e1e"/><stop offset="0.4" stop-color="#141414"/><stop offset="0.55" stop-color="#2a2a2a"/><stop offset="0.64" stop-color="#6a6a6a"/><stop offset="0.7" stop-color="#8a8a8a"/><stop offset="0.74" stop-color="#b0b0b0"/><stop offset="0.78" stop-color="#8a8a8a"/><stop offset="0.84" stop-color="#9a9a9a"/><stop offset="0.9" stop-color="#d0d0d0"/><stop offset="1" stop-color="#f0f0f0"/></linearGradient><linearGradient id="lgh" x1="0" y1="0" x2="1" y2="0"><stop offset="0" stop-color="#fff" stop-opacity="0.5"/><stop offset="0.12" stop-color="#fff" stop-opacity="0"/><stop offset="0.45" stop-color="#fff" stop-opacity="0"/><stop offset="0.52" stop-color="#fff" stop-opacity="0.06"/><stop offset="0.6" stop-color="#fff" stop-opacity="0"/><stop offset="0.88" stop-color="#fff" stop-opacity="0"/><stop offset="1" stop-color="#fff" stop-opacity="0.5"/></linearGradient></defs>
<g filter="url(#bl1)"><rect x="161.8" y="236.8" width="17.6" height="29" fill="url(#lg1)"/><rect x="182" y="236.8" width="17.6" height="30" fill="url(#lg2)"/><rect x="161.8" y="236.8" width="17.6" height="29" fill="url(#lgh)"/><rect x="182" y="236.8" width="17.6" height="30" fill="url(#lgh)"/></g>
<path d="M205.2 235.9 H208.2 V264.9 H205.2 M208.2 250.8 H210.8" fill="none" stroke="#222" stroke-width="1.2"/>
<text x="214.00" y="254.00" font-size="8.8" text-anchor="start" font-weight="normal" fill="#222" stroke="#222" stroke-width="0.22" >Ub</text>
<text x="214.00" y="264.20" font-size="8.8" text-anchor="start" font-weight="normal" fill="#222" stroke="#222" stroke-width="0.22" >proteins</text>
<text x="261.40" y="220.30" font-size="11.5" text-anchor="start" font-weight="bold" fill="#000" stroke="#000" stroke-width="0.22" >D</text>
<line x1="317.70" y1="216.00" x2="317.70" y2="328.70" stroke="#444" stroke-width="1.1"/>
<line x1="317.70" y1="328.70" x2="517.60" y2="328.70" stroke="#444" stroke-width="1.1"/>
<line x1="315.70" y1="328.70" x2="317.70" y2="328.70" stroke="#444" stroke-width="1"/>
<text x="311.00" y="331.60" font-size="8.1" text-anchor="end" font-weight="normal" fill="#222" stroke="#222" stroke-width="0.22" >0</text>
<line x1="315.70" y1="309.95" x2="317.70" y2="309.95" stroke="#444" stroke-width="1"/>
<text x="311.00" y="312.85" font-size="8.1" text-anchor="end" font-weight="normal" fill="#222" stroke="#222" stroke-width="0.22" >25</text>
<line x1="315.70" y1="291.20" x2="317.70" y2="291.20" stroke="#444" stroke-width="1"/>
<text x="311.00" y="294.10" font-size="8.1" text-anchor="end" font-weight="normal" fill="#222" stroke="#222" stroke-width="0.22" >50</text>
<line x1="315.70" y1="272.45" x2="317.70" y2="272.45" stroke="#444" stroke-width="1"/>
<text x="311.00" y="275.35" font-size="8.1" text-anchor="end" font-weight="normal" fill="#222" stroke="#222" stroke-width="0.22" >75</text>
<line x1="315.70" y1="253.70" x2="317.70" y2="253.70" stroke="#444" stroke-width="1"/>
<text x="311.00" y="256.60" font-size="8.1" text-anchor="end" font-weight="normal" fill="#222" stroke="#222" stroke-width="0.22" >100</text>
<line x1="315.70" y1="234.95" x2="317.70" y2="234.95" stroke="#444" stroke-width="1"/>
<text x="311.00" y="237.85" font-size="8.1" text-anchor="end" font-weight="normal" fill="#222" stroke="#222" stroke-width="0.22" >125</text>
<line x1="315.70" y1="216.20" x2="317.70" y2="216.20" stroke="#444" stroke-width="1"/>
<text x="311.00" y="219.10" font-size="8.1" text-anchor="end" font-weight="normal" fill="#222" stroke="#222" stroke-width="0.22" >150</text>
<line x1="318.00" y1="328.70" x2="318.00" y2="330.90" stroke="#444" stroke-width="1"/>
<line x1="346.53" y1="328.70" x2="346.53" y2="330.90" stroke="#444" stroke-width="1"/>
<line x1="375.06" y1="328.70" x2="375.06" y2="330.90" stroke="#444" stroke-width="1"/>
<line x1="403.59" y1="328.70" x2="403.59" y2="330.90" stroke="#444" stroke-width="1"/>
<line x1="432.12" y1="328.70" x2="432.12" y2="330.90" stroke="#444" stroke-width="1"/>
<line x1="460.65" y1="328.70" x2="460.65" y2="330.90" stroke="#444" stroke-width="1"/>
<line x1="489.18" y1="328.70" x2="489.18" y2="330.90" stroke="#444" stroke-width="1"/>
<line x1="517.71" y1="328.70" x2="517.71" y2="330.90" stroke="#444" stroke-width="1"/>
<line x1="329.10" y1="253.70" x2="329.10" y2="243.20" stroke="#000" stroke-width="0.9"/>
<line x1="327.10" y1="243.20" x2="331.10" y2="243.20" stroke="#000" stroke-width="0.9"/>
<line x1="337.30" y1="253.70" x2="337.30" y2="246.20" stroke="#444" stroke-width="0.9"/>
<line x1="335.30" y1="246.20" x2="339.30" y2="246.20" stroke="#444" stroke-width="0.9"/>
<rect x="325.10" y="253.70" width="8" height="75.00" fill="#000"/>
<rect x="333.30" y="253.70" width="7.9" height="75.00" fill="#bcbcbc" stroke="#2a2a2a" stroke-width="0.8"/>
<line x1="357.57" y1="297.95" x2="357.57" y2="291.95" stroke="#000" stroke-width="0.9"/>
<line x1="355.57" y1="291.95" x2="359.57" y2="291.95" stroke="#000" stroke-width="0.9"/>
<line x1="365.77" y1="303.95" x2="365.77" y2="297.20" stroke="#444" stroke-width="0.9"/>
<line x1="363.77" y1="297.20" x2="367.77" y2="297.20" stroke="#444" stroke-width="0.9"/>
<rect x="353.57" y="297.95" width="8" height="30.75" fill="#000"/>
<rect x="361.77" y="303.95" width="7.9" height="24.75" fill="#bcbcbc" stroke="#2a2a2a" stroke-width="0.8"/>
<line x1="386.04" y1="309.95" x2="386.04" y2="308.82" stroke="#000" stroke-width="0.9"/>
<line x1="384.04" y1="308.82" x2="388.04" y2="308.82" stroke="#000" stroke-width="0.9"/>
<line x1="394.24" y1="308.45" x2="394.24" y2="305.45" stroke="#444" stroke-width="0.9"/>
<line x1="392.24" y1="305.45" x2="396.24" y2="305.45" stroke="#444" stroke-width="0.9"/>
<rect x="382.04" y="309.95" width="8" height="18.75" fill="#000"/>
<rect x="390.24" y="308.45" width="7.9" height="20.25" fill="#bcbcbc" stroke="#2a2a2a" stroke-width="0.8"/>
<line x1="414.51" y1="327.20" x2="414.51" y2="326.45" stroke="#000" stroke-width="0.9"/>
<line x1="412.51" y1="326.45" x2="416.51" y2="326.45" stroke="#000" stroke-width="0.9"/>
<line x1="422.71" y1="326.45" x2="422.71" y2="324.95" stroke="#444" stroke-width="0.9"/>
<line x1="420.71" y1="324.95" x2="424.71" y2="324.95" stroke="#444" stroke-width="0.9"/>
<rect x="410.51" y="327.20" width="8" height="1.50" fill="#000"/>
<rect x="418.71" y="326.45" width="7.9" height="2.25" fill="#bcbcbc" stroke="#2a2a2a" stroke-width="0.8"/>
<line x1="442.98" y1="319.70" x2="442.98" y2="315.20" stroke="#000" stroke-width="0.9"/>
<line x1="440.98" y1="315.20" x2="444.98" y2="315.20" stroke="#000" stroke-width="0.9"/>
<line x1="451.18" y1="304.32" x2="451.18" y2="296.07" stroke="#444" stroke-width="0.9"/>
<line x1="449.18" y1="296.07" x2="453.18" y2="296.07" stroke="#444" stroke-width="0.9"/>
<rect x="438.98" y="319.70" width="8" height="9.00" fill="#000"/>
<rect x="447.18" y="304.32" width="7.9" height="24.38" fill="#bcbcbc" stroke="#2a2a2a" stroke-width="0.8"/>
<line x1="471.45" y1="319.70" x2="471.45" y2="312.95" stroke="#000" stroke-width="0.9"/>
<line x1="469.45" y1="312.95" x2="473.45" y2="312.95" stroke="#000" stroke-width="0.9"/>
<line x1="479.65" y1="283.70" x2="479.65" y2="274.70" stroke="#444" stroke-width="0.9"/>
<line x1="477.65" y1="274.70" x2="481.65" y2="274.70" stroke="#444" stroke-width="0.9"/>
<rect x="467.45" y="319.70" width="8" height="9.00" fill="#000"/>
<rect x="475.65" y="283.70" width="7.9" height="45.00" fill="#bcbcbc" stroke="#2a2a2a" stroke-width="0.8"/>
<line x1="499.92" y1="308.45" x2="499.92" y2="298.70" stroke="#000" stroke-width="0.9"/>
<line x1="497.92" y1="298.70" x2="501.92" y2="298.70" stroke="#000" stroke-width="0.9"/>
<line x1="508.12" y1="242.45" x2="508.12" y2="233.45" stroke="#444" stroke-width="0.9"/>
<line x1="506.12" y1="233.45" x2="510.12" y2="233.45" stroke="#444" stroke-width="0.9"/>
<rect x="495.92" y="308.45" width="8" height="20.25" fill="#000"/>
<rect x="504.12" y="242.45" width="7.9" height="86.25" fill="#bcbcbc" stroke="#2a2a2a" stroke-width="0.8"/>
<text x="333.10" y="343.50" font-size="8.5" text-anchor="middle" font-weight="normal" fill="#222" stroke="#222" stroke-width="0.22" >0h</text>
<text x="361.57" y="343.50" font-size="8.5" text-anchor="middle" font-weight="normal" fill="#222" stroke="#222" stroke-width="0.22" >2h</text>
<text x="390.04" y="343.50" font-size="8.5" text-anchor="middle" font-weight="normal" fill="#222" stroke="#222" stroke-width="0.22" >4h</text>
<text x="418.51" y="343.50" font-size="8.5" text-anchor="middle" font-weight="normal" fill="#222" stroke="#222" stroke-width="0.22" >8h</text>
<text x="446.98" y="343.50" font-size="8.5" text-anchor="middle" font-weight="normal" fill="#222" stroke="#222" stroke-width="0.22" >24h</text>
<text x="475.45" y="343.50" font-size="8.5" text-anchor="middle" font-weight="normal" fill="#222" stroke="#222" stroke-width="0.22" >48h</text>
<text x="503.92" y="343.50" font-size="8.5" text-anchor="middle" font-weight="normal" fill="#222" stroke="#222" stroke-width="0.22" >72h</text>
<line x1="319.40" y1="347.90" x2="511.80" y2="347.90" stroke="#666" stroke-width="1.3"/>
<text x="399.10" y="360.60" font-size="8.9" font-weight="normal" fill="#222" stroke="#222" stroke-width="0.22" textLength="43.88" lengthAdjust="spacingAndGlyphs">Bortezomib</text>
<text transform="translate(291.50,303.80) scale(0.97,1) rotate(-90)" x="0.40" y="0" font-size="8.8" font-weight="normal" fill="#222" stroke="#222" stroke-width="0.22" textLength="70.99" lengthAdjust="spacingAndGlyphs">ChT-L Activity (%)</text>
<rect x="447.8" y="216.8" width="5" height="5.6" fill="#000"/>
<text x="455.40" y="222.70" font-size="8.9" font-weight="normal" fill="#222" stroke="#222" stroke-width="0.22" textLength="29.38" lengthAdjust="spacingAndGlyphs">8226.wt</text>
<rect x="448.1" y="232.1" width="4.6" height="5.2" fill="#bcbcbc" stroke="#2a2a2a" stroke-width="0.8"/>
<text x="455.40" y="237.80" font-size="8.9" font-weight="normal" fill="#222" stroke="#222" stroke-width="0.22" textLength="31.41" lengthAdjust="spacingAndGlyphs">8226.BR</text>
<rect x="346.2" y="214.3" width="80" height="57.7" fill="#fff" stroke="#555" stroke-width="1"/>
<text x="360.60" y="227.60" font-size="8.5" text-anchor="middle" font-weight="normal" fill="#222" stroke="#222" stroke-width="0.22" >wt</text>
<text x="383.30" y="227.60" font-size="8.5" text-anchor="middle" font-weight="normal" fill="#222" stroke="#222" stroke-width="0.22" >BR</text>
<rect x="351.3" y="228.7" width="40.2" height="14" fill="#858585"/>
<rect x="351.3" y="244.2" width="40.2" height="12.3" fill="#858585"/>
<defs><filter id="bl2" x="-20%" y="-100%" width="140%" height="300%"><feGaussianBlur stdDeviation="0.6"/></filter></defs>
<g filter="url(#bl2)"><ellipse cx="360.2" cy="236.9" rx="8.2" ry="1.25" fill="#111"/><ellipse cx="382.5" cy="236.4" rx="9.5" ry="1.9" fill="#000"/><ellipse cx="362.3" cy="250.4" rx="9.2" ry="1.75" fill="#000"/><ellipse cx="381.8" cy="250.4" rx="8.2" ry="1.75" fill="#000"/></g>
<text x="395.30" y="240.00" font-size="8.8" text-anchor="start" font-weight="normal" fill="#222" stroke="#222" stroke-width="0.22" >β5</text>
<text x="395.00" y="255.80" font-size="8.8" text-anchor="start" font-weight="normal" fill="#222" stroke="#222" stroke-width="0.22" >β-actin</text>
<text x="363.70" y="269.40" font-size="8.5" text-anchor="middle" font-weight="normal" fill="#222" stroke="#222" stroke-width="0.22" >1</text>
<text x="381.00" y="269.40" font-size="8.5" text-anchor="middle" font-weight="normal" fill="#222" stroke="#222" stroke-width="0.22" >4.1</text>
<text x="395.70" y="269.40" font-size="8.5" text-anchor="start" font-weight="normal" fill="#222" stroke="#222" stroke-width="0.22" >fold</text>
</svg></body></html>
